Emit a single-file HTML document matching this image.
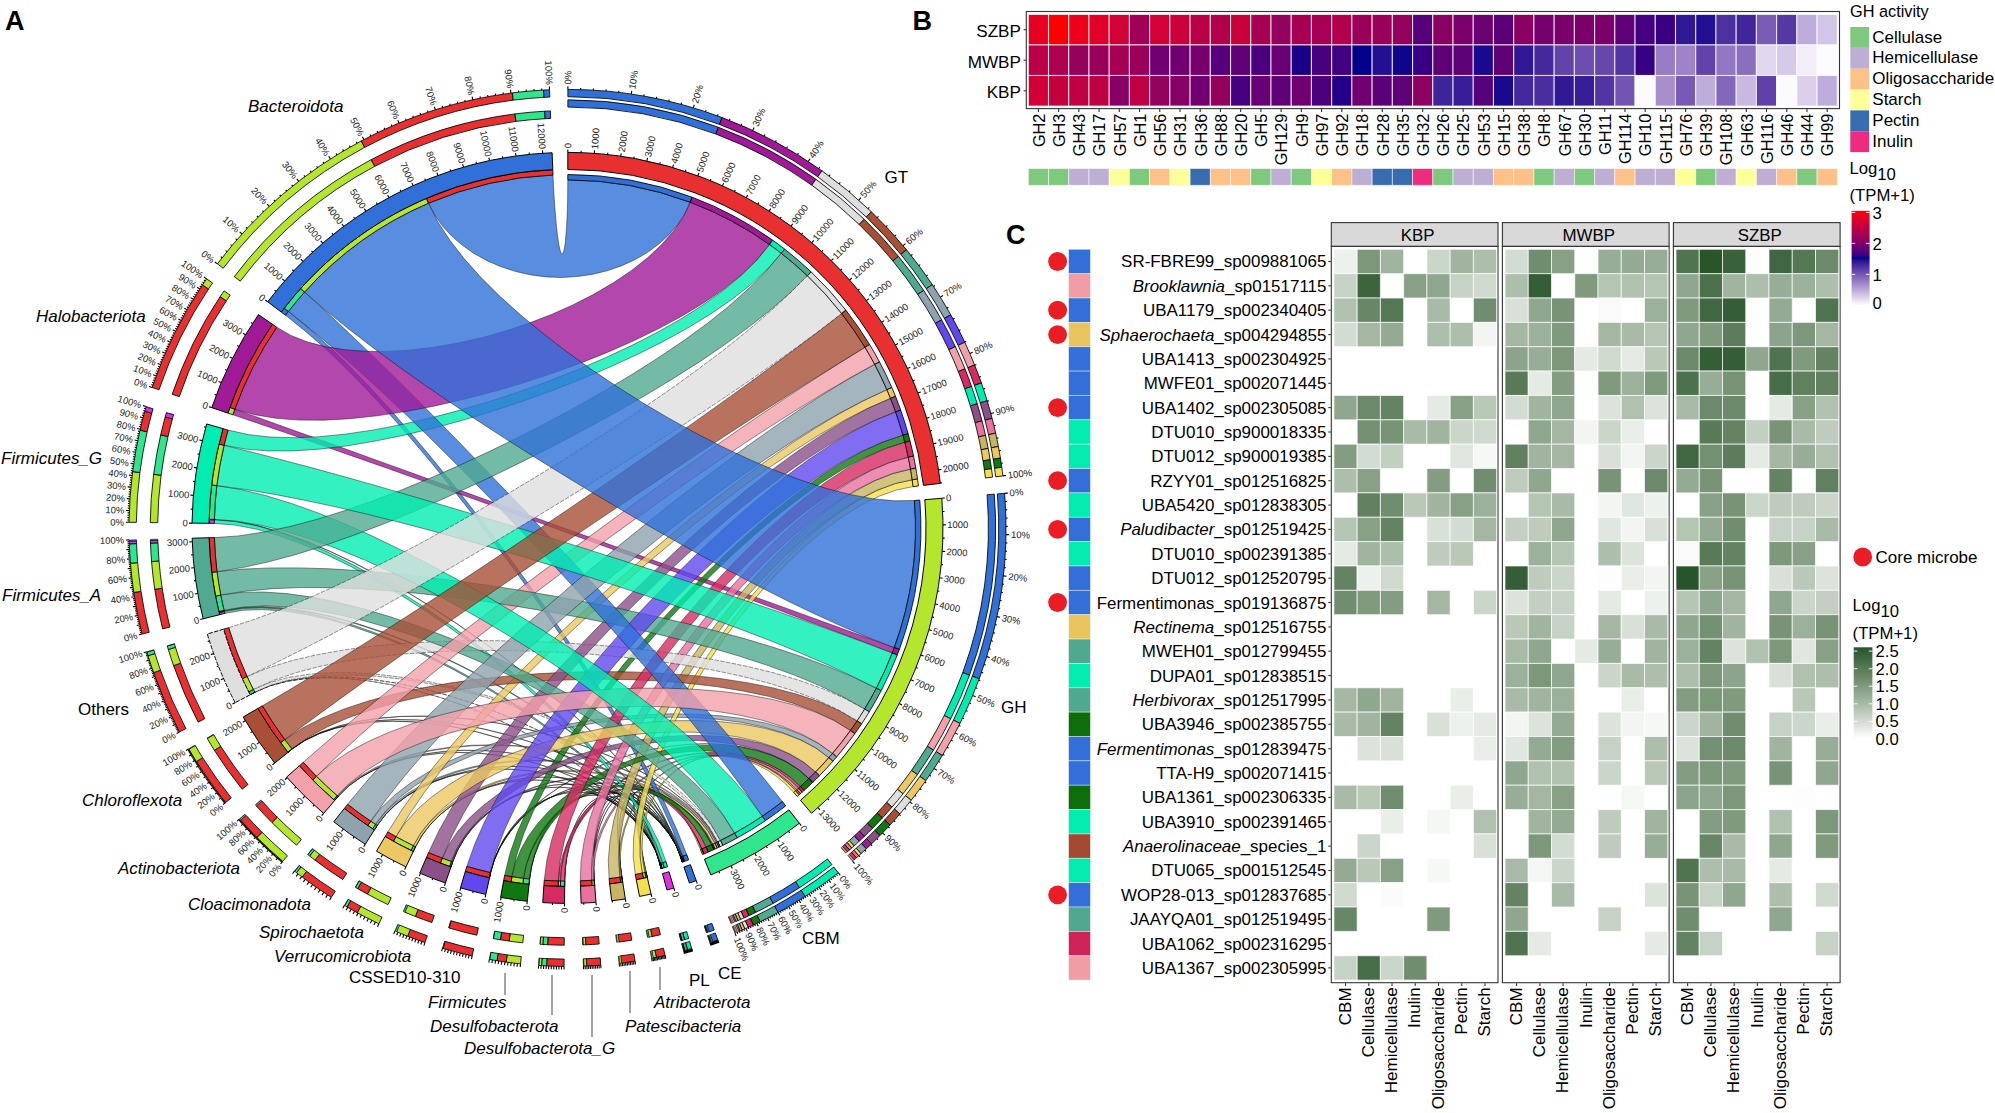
<!DOCTYPE html>
<html><head><meta charset="utf-8"><title>Figure</title>
<style>html,body{margin:0;padding:0;background:#fff}svg{display:block}text{font-family:"Liberation Sans",Arial,sans-serif}</style></head>
<body><svg width="1995" height="1113" viewBox="0 0 1995 1113">
<rect width="1995" height="1113" fill="#fff"/>
<g id="panelA">
<path d="M646.1 872.2A353.2 353.2 0 0 1 646.1 872.3L643.6 861.2 641.3 850.4 639.3 840.0 637.4 830.3 635.9 821.5 634.8 813.7 633.9 807.0 633.4 801.6 633.4 797.5 633.6 794.9 634.3 793.7 635.3 794.0 636.7 795.7 638.4 798.9 640.4 803.4 642.7 809.2 645.3 816.2 648.0 824.3 650.9 833.2 653.8 842.9 656.8 853.0 659.7 863.5A348.0 348.0 0 0 1 659.7 863.5L656.7 853.0 653.8 842.9 650.8 833.2 647.9 824.3 645.2 816.2 642.7 809.2 640.4 803.4 638.4 798.9 636.7 795.7 635.3 794.0 634.3 793.7 633.6 794.9 633.4 797.5 633.5 801.6 633.9 807.0 634.8 813.6 636.0 821.5 637.5 830.3 639.3 840.0 641.4 850.4 643.7 861.2 646.1 872.2Z" fill="#F4E04E" fill-opacity="0.8" stroke="#000" stroke-opacity="0.85" stroke-width="0.5"/>
<path d="M621.9 876.9A353.2 353.2 0 0 1 621.9 876.9L620.3 865.7 619.0 854.6 618.1 844.0 617.6 834.1 617.5 824.9 617.8 816.8 618.4 809.9 619.5 804.2 620.9 799.8 622.7 796.9 624.9 795.4 627.3 795.4 630.1 796.9 633.0 799.8 636.2 804.1 639.6 809.7 643.0 816.6 646.6 824.5 650.0 833.3 653.5 842.9 656.7 853.0 659.8 863.4A348.0 348.0 0 0 1 659.7 863.5L656.7 853.0 653.4 842.9 650.0 833.3 646.5 824.5 643.0 816.6 639.6 809.7 636.2 804.1 633.0 799.8 630.0 796.9 627.3 795.4 624.9 795.4 622.7 796.9 620.9 799.8 619.5 804.2 618.5 809.9 617.8 816.8 617.5 824.9 617.7 834.0 618.2 844.0 619.1 854.6 620.3 865.6 621.9 876.9Z" fill="#C8B462" fill-opacity="0.8" stroke="#000" stroke-opacity="0.85" stroke-width="0.5"/>
<path d="M646.1 872.3A353.2 353.2 0 0 1 646.0 872.3L643.6 861.2 641.6 850.3 639.9 839.8 638.6 829.9 637.8 820.8 637.4 812.8 637.5 805.8 638.1 800.1 639.1 795.7 640.5 792.7 642.4 791.1 644.7 791.0 647.4 792.3 650.5 795.1 653.8 799.2 657.4 804.6 661.2 811.2 665.1 818.9 669.1 827.5 673.0 836.9 676.9 846.8 680.6 857.0A348.0 348.0 0 0 1 680.5 857.0L676.8 846.8 673.0 836.9 669.0 827.5 665.0 818.9 661.1 811.3 657.3 804.6 653.8 799.2 650.4 795.1 647.4 792.3 644.7 791.0 642.4 791.1 640.5 792.7 639.1 795.7 638.1 800.1 637.6 805.8 637.5 812.7 637.9 820.8 638.7 829.9 640.0 839.7 641.6 850.2 643.7 861.2 646.1 872.3Z" fill="#F4E04E" fill-opacity="0.8" stroke="#000" stroke-opacity="0.85" stroke-width="0.5"/>
<path d="M490.6 872.6A353.2 353.2 0 0 1 490.5 872.6L493.9 860.9 498.7 849.5 504.6 838.6 511.7 828.5 519.8 819.2 528.8 811.0 538.5 804.0 548.8 798.2 559.5 793.8 570.6 790.8 581.9 789.2 593.3 789.0 604.7 790.4 615.8 793.1 626.6 797.2 636.9 802.7 646.6 809.4 655.5 817.2 663.6 826.0 670.6 835.7 676.5 846.0 681.0 856.9A348.0 348.0 0 0 1 680.9 856.9L676.4 846.1 670.6 835.7 663.5 826.0 655.5 817.2 646.5 809.4 636.8 802.7 626.5 797.3 615.8 793.1 604.6 790.4 593.3 789.1 581.9 789.2 570.6 790.8 559.5 793.8 548.8 798.3 538.5 804.0 528.8 811.1 519.9 819.3 511.8 828.5 504.7 838.6 498.7 849.5 494.0 860.9 490.6 872.6Z" fill="#6048EE" fill-opacity="0.8" stroke="#000" stroke-opacity="0.85" stroke-width="0.5"/>
<path d="M490.7 872.6A353.2 353.2 0 0 1 490.6 872.6L493.9 861.0 498.3 849.8 503.9 839.2 510.5 829.3 517.9 820.3 526.0 812.3 534.8 805.6 544.1 800.1 553.8 796.1 563.8 793.4 573.9 792.2 584.0 792.4 594.0 794.1 603.9 797.3 613.3 801.8 622.4 807.6 630.8 814.7 638.6 822.8 645.5 832.0 651.5 841.9 656.4 852.4 660.1 863.4A348.0 348.0 0 0 1 660.0 863.4L656.3 852.4 651.4 841.9 645.4 832.0 638.5 822.9 630.8 814.7 622.3 807.7 613.3 801.8 603.8 797.3 594.0 794.1 584.0 792.4 573.9 792.2 563.8 793.4 553.8 796.1 544.1 800.2 534.9 805.6 526.1 812.4 517.9 820.3 510.5 829.3 504.0 839.2 498.4 849.8 493.9 861.1 490.7 872.6Z" fill="#6048EE" fill-opacity="0.8" stroke="#000" stroke-opacity="0.85" stroke-width="0.5"/>
<path d="M292.1 749.1A353.2 353.2 0 0 1 292.1 749.0L304.7 740.5 319.3 733.6 335.6 728.2 353.4 724.4 372.4 722.0 392.4 721.2 413.2 721.8 434.5 723.9 456.1 727.3 477.7 732.1 499.1 738.1 520.2 745.4 540.6 753.8 560.2 763.2 578.7 773.5 595.9 784.7 611.6 796.7 625.6 809.2 637.7 822.3 647.7 835.8 655.3 849.5 660.5 863.2A348.0 348.0 0 0 1 660.4 863.3L655.3 849.5 647.6 835.8 637.6 822.3 625.5 809.3 611.5 796.7 595.8 784.7 578.6 773.5 560.1 763.2 540.6 753.8 520.2 745.4 499.1 738.2 477.7 732.1 456.1 727.4 434.5 723.9 413.2 721.9 392.4 721.2 372.4 722.1 353.4 724.4 335.6 728.3 319.3 733.7 304.7 740.6 292.1 749.1Z" fill="#A84F36" fill-opacity="0.8" stroke="#000" stroke-opacity="0.85" stroke-width="0.5"/>
<path d="M377.3 825.5A353.2 353.2 0 0 1 377.2 825.4L385.3 814.8 395.1 805.0 406.6 796.2 419.4 788.5 433.4 782.0 448.3 776.8 464.0 772.8 480.3 770.3 496.9 769.1 513.7 769.3 530.5 770.9 547.0 773.9 563.2 778.2 578.7 783.8 593.5 790.6 607.3 798.5 620.0 807.5 631.3 817.4 641.2 828.0 649.5 839.4 655.9 851.2 660.3 863.3A348.0 348.0 0 0 1 660.3 863.3L655.8 851.2 649.4 839.4 641.2 828.1 631.3 817.4 619.9 807.5 607.3 798.5 593.5 790.6 578.7 783.8 563.2 778.2 547.0 773.9 530.5 771.0 513.7 769.4 496.9 769.1 480.3 770.3 464.1 772.9 448.4 776.8 433.4 782.0 419.4 788.5 406.6 796.2 395.2 805.0 385.3 814.8 377.3 825.5Z" fill="#8FA3AE" fill-opacity="0.8" stroke="#000" stroke-opacity="0.85" stroke-width="0.5"/>
<path d="M564.7 881.1A353.2 353.2 0 0 1 564.7 881.1L565.1 869.6 566.3 858.2 568.2 847.3 570.8 837.1 574.0 827.7 577.7 819.3 581.9 812.1 586.5 806.1 591.6 801.5 597.0 798.3 602.6 796.6 608.4 796.3 614.4 797.6 620.3 800.3 626.3 804.4 632.1 809.8 637.8 816.5 643.1 824.3 648.1 833.1 652.6 842.7 656.6 852.8 659.9 863.4A348.0 348.0 0 0 1 659.8 863.4L656.5 852.9 652.6 842.7 648.1 833.1 643.1 824.3 637.7 816.5 632.1 809.9 626.3 804.4 620.3 800.3 614.3 797.6 608.4 796.3 602.6 796.6 597.0 798.3 591.6 801.5 586.6 806.1 581.9 812.1 577.7 819.3 574.0 827.7 570.9 837.1 568.3 847.3 566.4 858.2 565.2 869.6 564.7 881.1Z" fill="#D62A62" fill-opacity="0.8" stroke="#000" stroke-opacity="0.85" stroke-width="0.5"/>
<path d="M594.2 880.1A353.2 353.2 0 0 1 594.2 880.1L593.6 868.6 593.8 857.2 594.7 846.3 596.2 836.0 598.3 826.4 601.1 817.9 604.4 810.4 608.2 804.2 612.5 799.3 617.2 795.8 622.2 793.8 627.6 793.2 633.2 794.1 638.9 796.4 644.8 800.2 650.6 805.3 656.4 811.6 662.0 819.0 667.3 827.5 672.3 836.8 676.8 846.7 680.7 857.0A348.0 348.0 0 0 1 680.6 857.0L676.7 846.7 672.2 836.8 667.3 827.5 661.9 819.1 656.3 811.6 650.6 805.3 644.7 800.2 638.9 796.4 633.2 794.1 627.6 793.2 622.2 793.8 617.2 795.8 612.5 799.3 608.2 804.2 604.4 810.4 601.1 817.9 598.4 826.4 596.2 836.0 594.7 846.3 593.9 857.2 593.7 868.6 594.2 880.1Z" fill="#EA70A0" fill-opacity="0.8" stroke="#000" stroke-opacity="0.85" stroke-width="0.5"/>
<path d="M594.3 880.1A353.2 353.2 0 0 1 594.2 880.1L593.6 868.7 593.6 857.5 594.0 846.7 595.0 836.5 596.5 827.2 598.4 818.9 600.8 811.7 603.6 805.8 606.8 801.3 610.3 798.1 614.1 796.5 618.2 796.3 622.5 797.6 626.9 800.3 631.4 804.5 636.0 810.0 640.5 816.7 644.9 824.5 649.1 833.3 653.1 842.8 656.7 852.9 659.8 863.4A348.0 348.0 0 0 1 659.8 863.4L656.6 853.0 653.0 842.8 649.1 833.3 644.9 824.5 640.5 816.7 635.9 810.0 631.4 804.5 626.9 800.4 622.5 797.6 618.2 796.3 614.1 796.5 610.3 798.1 606.8 801.3 603.6 805.8 600.8 811.7 598.4 818.9 596.5 827.2 595.0 836.5 594.1 846.7 593.6 857.5 593.7 868.7 594.3 880.1Z" fill="#EA70A0" fill-opacity="0.8" stroke="#000" stroke-opacity="0.85" stroke-width="0.5"/>
<path d="M621.9 876.9A353.2 353.2 0 0 1 621.8 876.9L620.3 865.6 619.3 854.4 618.8 843.7 618.8 833.6 619.4 824.2 620.4 815.9 622.0 808.6 624.1 802.6 626.6 797.9 629.6 794.6 633.0 792.8 636.7 792.4 640.8 793.4 645.1 796.0 649.6 799.9 654.2 805.1 658.9 811.5 663.6 819.1 668.3 827.6 672.7 836.9 676.9 846.7 680.6 857.0A348.0 348.0 0 0 1 680.6 857.0L676.8 846.8 672.6 836.9 668.2 827.6 663.6 819.1 658.9 811.5 654.2 805.1 649.6 799.9 645.1 796.0 640.8 793.5 636.7 792.4 633.0 792.8 629.6 794.6 626.7 797.9 624.1 802.6 622.1 808.6 620.5 815.9 619.4 824.2 618.9 833.6 618.8 843.7 619.3 854.4 620.3 865.6 621.9 876.9Z" fill="#C8B462" fill-opacity="0.8" stroke="#000" stroke-opacity="0.85" stroke-width="0.5"/>
<path d="M452.7 861.9A353.2 353.2 0 0 1 452.6 861.9L457.4 850.5 463.6 839.5 471.1 829.2 479.7 819.8 489.3 811.4 499.7 804.1 510.9 798.0 522.5 793.2 534.6 789.8 546.8 787.7 559.2 787.2 571.5 788.1 583.6 790.4 595.4 794.1 606.7 799.1 617.3 805.4 627.2 812.9 636.2 821.5 644.1 831.0 650.8 841.2 656.2 852.1 660.2 863.3A348.0 348.0 0 0 1 660.1 863.4L656.2 852.1 650.8 841.2 644.0 831.0 636.1 821.5 627.2 813.0 617.3 805.5 606.6 799.1 595.4 794.1 583.6 790.4 571.5 788.1 559.2 787.2 546.8 787.8 534.6 789.8 522.5 793.2 510.9 798.0 499.8 804.1 489.4 811.4 479.8 819.8 471.1 829.3 463.6 839.5 457.4 850.5 452.7 861.9Z" fill="#8B5088" fill-opacity="0.8" stroke="#000" stroke-opacity="0.85" stroke-width="0.5"/>
<path d="M338.1 796.5A353.2 353.2 0 0 1 338.0 796.4L348.0 786.5 360.0 777.7 373.6 770.2 388.6 763.9 404.9 759.0 422.2 755.4 440.3 753.2 458.9 752.5 477.8 753.1 496.9 755.0 515.9 758.3 534.5 762.9 552.7 768.8 570.1 775.9 586.7 784.0 602.1 793.2 616.2 803.3 628.8 814.2 639.7 825.8 648.7 838.0 655.7 850.5 660.4 863.3A348.0 348.0 0 0 1 660.3 863.3L655.6 850.5 648.6 838.0 639.6 825.8 628.7 814.3 616.1 803.3 602.0 793.2 586.6 784.1 570.1 775.9 552.7 768.8 534.5 763.0 515.9 758.4 496.9 755.1 477.9 753.1 458.9 752.5 440.3 753.3 422.3 755.5 405.0 759.0 388.7 764.0 373.6 770.2 360.0 777.8 348.1 786.5 338.1 796.5Z" fill="#F2A0AA" fill-opacity="0.8" stroke="#000" stroke-opacity="0.85" stroke-width="0.5"/>
<path d="M292.1 749.0A353.2 353.2 0 0 1 292.0 748.9L305.0 740.2 320.0 733.1 336.8 727.5 355.2 723.4 374.9 720.8 395.7 719.6 417.3 720.0 439.5 721.7 462.1 724.8 484.8 729.2 507.3 734.8 529.5 741.7 551.1 749.6 571.8 758.6 591.5 768.6 610.0 779.4 626.9 791.0 642.1 803.2 655.4 816.0 666.5 829.3 675.3 842.9 681.4 856.7A348.0 348.0 0 0 1 681.4 856.7L675.2 842.9 666.4 829.3 655.3 816.1 642.1 803.2 626.8 791.0 609.9 779.4 591.5 768.6 571.8 758.7 551.0 749.7 529.4 741.7 507.3 734.9 484.7 729.2 462.1 724.8 439.5 721.8 417.3 720.0 395.7 719.7 374.9 720.8 355.2 723.4 336.8 727.5 320.0 733.1 305.0 740.3 292.1 749.0Z" fill="#A84F36" fill-opacity="0.8" stroke="#000" stroke-opacity="0.85" stroke-width="0.5"/>
<path d="M377.2 825.4A353.2 353.2 0 0 1 377.1 825.4L385.4 814.5 395.6 804.5 407.5 795.4 420.9 787.5 435.6 780.8 451.3 775.2 467.9 771.0 485.1 768.2 502.8 766.6 520.7 766.5 538.6 767.7 556.3 770.3 573.7 774.2 590.5 779.4 606.6 785.8 621.6 793.3 635.5 801.9 648.1 811.5 659.2 821.9 668.5 833.0 675.9 844.7 681.2 856.8A348.0 348.0 0 0 1 681.2 856.8L675.8 844.7 668.4 833.0 659.1 821.9 648.1 811.5 635.5 802.0 621.6 793.4 606.5 785.8 590.5 779.4 573.7 774.2 556.3 770.3 538.6 767.8 520.7 766.5 502.8 766.7 485.1 768.2 467.9 771.1 451.4 775.3 435.6 780.8 421.0 787.6 407.6 795.5 395.7 804.5 385.5 814.5 377.2 825.4Z" fill="#8FA3AE" fill-opacity="0.8" stroke="#000" stroke-opacity="0.85" stroke-width="0.5"/>
<path d="M564.7 881.1A353.2 353.2 0 0 1 564.6 881.1L565.1 869.4 566.6 858.0 568.9 846.9 572.0 836.5 575.8 826.9 580.3 818.2 585.5 810.7 591.1 804.4 597.3 799.5 603.8 795.9 610.7 793.8 617.8 793.1 625.0 794.0 632.3 796.3 639.6 800.0 646.7 805.0 653.6 811.4 660.2 818.8 666.3 827.3 671.8 836.6 676.7 846.5 680.8 856.9A348.0 348.0 0 0 1 680.7 857.0L676.6 846.5 671.8 836.6 666.2 827.3 660.1 818.8 653.6 811.4 646.7 805.1 639.6 800.0 632.3 796.3 625.0 794.0 617.8 793.2 610.7 793.8 603.8 795.9 597.3 799.5 591.2 804.4 585.5 810.7 580.4 818.2 575.9 826.9 572.1 836.5 569.0 846.9 566.7 858.0 565.2 869.4 564.7 881.1Z" fill="#D62A62" fill-opacity="0.8" stroke="#000" stroke-opacity="0.85" stroke-width="0.5"/>
<path d="M529.7 879.1A353.2 353.2 0 0 1 529.6 879.1L531.3 867.4 534.1 856.1 537.7 845.2 542.1 835.1 547.3 825.8 553.1 817.5 559.5 810.4 566.4 804.5 573.6 800.0 581.2 796.9 589.0 795.3 596.8 795.2 604.7 796.6 612.5 799.4 620.2 803.6 627.5 809.1 634.5 815.9 641.0 823.8 646.9 832.7 652.1 842.4 656.5 852.7 660.0 863.4A348.0 348.0 0 0 1 659.9 863.4L656.4 852.7 652.0 842.4 646.8 832.7 640.9 823.8 634.4 815.9 627.5 809.1 620.1 803.6 612.5 799.4 604.7 796.6 596.8 795.2 589.0 795.3 581.2 797.0 573.7 800.0 566.4 804.5 559.6 810.4 553.2 817.5 547.4 825.8 542.2 835.1 537.8 845.2 534.2 856.1 531.4 867.5 529.7 879.1Z" fill="#107810" fill-opacity="0.8" stroke="#000" stroke-opacity="0.85" stroke-width="0.5"/>
<path d="M254.9 692.3A353.2 353.2 0 0 1 254.8 692.2L270.0 685.8 287.1 681.3 305.8 678.6 325.9 677.7 347.2 678.5 369.5 681.0 392.4 684.9 415.7 690.4 439.3 697.2 462.9 705.2 486.2 714.5 509.0 724.8 531.1 736.0 552.2 748.2 572.2 761.1 590.8 774.7 607.8 788.8 622.9 803.3 636.0 818.1 646.7 833.1 655.0 848.2 660.6 863.2A348.0 348.0 0 0 1 660.5 863.2L654.9 848.2 646.6 833.2 635.9 818.2 622.8 803.3 607.7 788.8 590.8 774.7 572.2 761.1 552.2 748.2 531.1 736.1 509.0 724.8 486.2 714.5 462.9 705.3 439.3 697.2 415.7 690.4 392.4 685.0 369.5 681.0 347.2 678.6 326.0 677.8 305.8 678.7 287.1 681.3 270.0 685.9 254.9 692.3Z" fill="#DEDEDE" fill-opacity="0.8" stroke="#000" stroke-opacity="0.85" stroke-width="0.5" stroke-dasharray="4.5 1.3"/>
<path d="M415.6 846.7A353.2 353.2 0 0 1 415.5 846.7L421.8 835.5 429.8 825.1 439.2 815.4 449.8 806.7 461.6 799.0 474.3 792.6 487.7 787.4 501.6 783.5 515.9 781.1 530.4 780.0 545.0 780.3 559.4 782.1 573.5 785.2 587.2 789.7 600.2 795.5 612.4 802.5 623.7 810.6 633.8 819.7 642.7 829.7 650.2 840.4 656.1 851.7 660.3 863.3A348.0 348.0 0 0 1 660.2 863.3L656.0 851.7 650.1 840.4 642.6 829.7 633.8 819.7 623.6 810.6 612.4 802.5 600.1 795.5 587.1 789.8 573.5 785.3 559.4 782.1 545.0 780.4 530.4 780.0 515.9 781.1 501.6 783.6 487.7 787.4 474.3 792.6 461.7 799.1 449.9 806.7 439.2 815.4 429.8 825.1 421.9 835.6 415.6 846.7Z" fill="#EBC862" fill-opacity="0.8" stroke="#000" stroke-opacity="0.85" stroke-width="0.5"/>
<path d="M452.6 861.9A353.2 353.2 0 0 1 452.5 861.9L457.4 850.2 463.9 839.1 471.8 828.6 481.0 819.0 491.3 810.3 502.5 802.7 514.6 796.3 527.2 791.2 540.3 787.4 553.7 785.1 567.3 784.1 580.8 784.6 594.2 786.5 607.3 789.8 619.9 794.5 631.8 800.4 642.9 807.5 653.1 815.8 662.1 825.0 669.9 835.0 676.3 845.7 681.1 856.9A348.0 348.0 0 0 1 681.0 856.9L676.2 845.7 669.9 835.0 662.1 825.0 653.0 815.8 642.9 807.6 631.7 800.4 619.8 794.5 607.3 789.8 594.2 786.5 580.8 784.6 567.3 784.1 553.7 785.1 540.3 787.5 527.2 791.2 514.6 796.3 502.6 802.7 491.4 810.3 481.1 819.0 471.9 828.6 464.0 839.1 457.5 850.3 452.6 861.9Z" fill="#8B5088" fill-opacity="0.8" stroke="#000" stroke-opacity="0.85" stroke-width="0.5"/>
<path d="M338.0 796.4A353.2 353.2 0 0 1 338.0 796.3L348.2 786.2 360.5 777.2 374.6 769.4 390.3 762.9 407.3 757.7 425.3 753.9 444.2 751.4 463.8 750.3 483.8 750.5 503.9 752.1 524.0 755.1 543.8 759.3 563.2 764.7 581.9 771.4 599.6 779.1 616.3 787.9 631.6 797.7 645.4 808.3 657.5 819.6 667.7 831.6 675.7 844.0 681.4 856.7A348.0 348.0 0 0 1 681.2 856.8L675.6 844.0 667.6 831.6 657.4 819.7 645.4 808.3 631.6 797.7 616.2 788.0 599.6 779.2 581.8 771.4 563.2 764.8 543.8 759.3 524.0 755.1 503.9 752.2 483.8 750.6 463.8 750.3 444.3 751.5 425.4 753.9 407.3 757.8 390.3 763.0 374.7 769.5 360.6 777.2 348.3 786.2 338.0 796.4Z" fill="#F2A0AA" fill-opacity="0.8" stroke="#000" stroke-opacity="0.85" stroke-width="0.5"/>
<path d="M490.5 872.6A353.2 353.2 0 0 1 490.4 872.6L494.0 860.5 499.1 848.8 505.7 837.6 513.6 827.1 522.7 817.4 532.8 808.7 543.8 801.1 555.6 794.7 567.9 789.7 580.7 786.0 593.8 783.6 607.0 782.8 620.2 783.3 633.2 785.3 645.9 788.7 658.1 793.4 669.6 799.4 680.3 806.6 690.1 814.8 698.7 824.0 705.9 834.0 711.7 844.6A348.0 348.0 0 0 1 711.6 844.7L705.8 834.1 698.6 824.1 690.0 814.9 680.3 806.6 669.5 799.4 658.0 793.5 645.8 788.7 633.2 785.4 620.2 783.4 607.0 782.8 593.8 783.7 580.7 786.0 568.0 789.7 555.6 794.8 543.9 801.1 532.9 808.7 522.8 817.4 513.7 827.1 505.8 837.6 499.2 848.8 494.1 860.6 490.5 872.6Z" fill="#6048EE" fill-opacity="0.8" stroke="#000" stroke-opacity="0.85" stroke-width="0.5"/>
<path d="M529.6 879.1A353.2 353.2 0 0 1 529.4 879.0L531.3 867.3 534.3 855.8 538.3 844.7 543.3 834.4 549.2 824.8 555.8 816.3 563.1 808.9 571.0 802.7 579.3 797.9 588.1 794.4 597.0 792.4 606.2 791.9 615.4 792.9 624.5 795.3 633.4 799.1 642.1 804.2 650.3 810.7 658.0 818.2 665.0 826.8 671.3 836.2 676.6 846.3 680.9 856.9A348.0 348.0 0 0 1 680.8 856.9L676.5 846.3 671.2 836.2 665.0 826.8 657.9 818.2 650.2 810.7 642.0 804.3 633.4 799.1 624.5 795.3 615.3 792.9 606.2 791.9 597.0 792.5 588.1 794.4 579.4 797.9 571.0 802.7 563.2 808.9 555.9 816.3 549.3 824.8 543.4 834.4 538.5 844.8 534.4 855.8 531.4 867.3 529.6 879.1Z" fill="#107810" fill-opacity="0.8" stroke="#000" stroke-opacity="0.85" stroke-width="0.5"/>
<path d="M415.5 846.7A353.2 353.2 0 0 1 415.4 846.7L421.9 835.3 430.1 824.6 440.0 814.7 451.2 805.7 463.7 797.9 477.1 791.1 491.4 785.6 506.3 781.5 521.7 778.7 537.3 777.2 553.1 777.2 568.7 778.5 584.1 781.3 599.0 785.4 613.3 790.8 626.8 797.4 639.3 805.1 650.7 813.9 660.7 823.6 669.3 834.1 676.1 845.2 681.2 856.8A348.0 348.0 0 0 1 681.1 856.9L676.0 845.3 669.2 834.1 660.6 823.7 650.6 814.0 639.2 805.2 626.7 797.4 613.3 790.8 599.0 785.4 584.1 781.3 568.7 778.6 553.1 777.2 537.4 777.3 521.7 778.7 506.4 781.5 491.5 785.7 477.2 791.2 463.8 797.9 451.3 805.8 440.1 814.7 430.2 824.6 422.0 835.3 415.5 846.7Z" fill="#EBC862" fill-opacity="0.8" stroke="#000" stroke-opacity="0.85" stroke-width="0.5"/>
<path d="M490.4 872.6A353.2 353.2 0 0 1 490.3 872.6L494.5 859.1 501.0 845.7 509.5 832.6 520.0 819.9 532.1 807.9 545.9 796.5 560.9 786.1 577.1 776.5 594.2 768.1 612.1 760.8 630.6 754.7 649.4 749.9 668.3 746.5 687.1 744.4 705.7 743.8 723.8 744.5 741.1 746.7 757.5 750.4 772.7 755.4 786.5 761.8 798.6 769.5 808.9 778.5A348.0 348.0 0 0 1 808.8 778.6L798.5 769.6 786.4 761.9 772.6 755.5 757.4 750.5 741.0 746.8 723.7 744.6 705.7 743.8 687.1 744.5 668.3 746.5 649.4 750.0 630.6 754.8 612.1 760.8 594.3 768.1 577.1 776.6 561.0 786.1 545.9 796.6 532.2 807.9 520.1 820.0 509.6 832.6 501.1 845.7 494.6 859.1 490.4 872.6Z" fill="#6048EE" fill-opacity="0.8" stroke="#000" stroke-opacity="0.85" stroke-width="0.5"/>
<path d="M254.8 692.2A353.2 353.2 0 0 1 254.8 692.1L270.4 685.4 287.9 680.7 307.2 677.9 327.9 676.7 349.9 677.3 372.9 679.5 396.6 683.1 420.9 688.2 445.4 694.6 470.0 702.3 494.3 711.1 518.2 721.0 541.5 731.9 563.8 743.6 585.0 756.1 604.7 769.3 622.9 783.0 639.3 797.2 653.5 811.8 665.5 826.6 674.9 841.6 681.6 856.7A348.0 348.0 0 0 1 681.4 856.7L674.8 841.7 665.4 826.7 653.4 811.8 639.2 797.3 622.8 783.1 604.7 769.3 584.9 756.1 563.7 743.7 541.4 731.9 518.2 721.1 494.3 711.2 470.0 702.4 445.4 694.7 420.9 688.3 396.7 683.2 372.9 679.6 349.9 677.4 328.0 676.9 307.2 678.0 288.0 680.9 270.4 685.6 254.8 692.2Z" fill="#DEDEDE" fill-opacity="0.8" stroke="#000" stroke-opacity="0.85" stroke-width="0.5" stroke-dasharray="4.5 1.3"/>
<path d="M292.0 748.9A353.2 353.2 0 0 1 291.9 748.8L305.5 739.6 321.2 732.0 339.0 725.9 358.4 721.3 379.3 718.1 401.4 716.4 424.5 716.1 448.3 717.1 472.5 719.4 496.9 722.9 521.3 727.7 545.4 733.6 569.0 740.6 591.8 748.7 613.5 757.7 634.1 767.6 653.1 778.4 670.4 789.9 685.8 802.0 699.0 814.8 709.7 828.1 717.7 841.8A348.0 348.0 0 0 1 717.5 841.9L709.5 828.2 698.8 814.9 685.7 802.1 670.3 790.0 653.0 778.5 634.0 767.7 613.5 757.8 591.7 748.8 568.9 740.7 545.3 733.7 521.3 727.8 496.9 723.0 472.5 719.5 448.3 717.2 424.5 716.2 401.5 716.5 379.4 718.3 358.5 721.4 339.1 726.1 321.3 732.2 305.6 739.8 292.0 748.9Z" fill="#A84F36" fill-opacity="0.8" stroke="#000" stroke-opacity="0.85" stroke-width="0.5"/>
<path d="M594.2 880.1A353.2 353.2 0 0 1 594.0 880.1L593.5 868.5 594.0 857.0 595.2 845.8 597.3 835.3 600.1 825.4 603.7 816.6 607.9 808.7 612.8 802.1 618.2 796.8 624.1 792.9 630.4 790.3 637.1 789.3 644.0 789.6 651.1 791.5 658.3 794.7 665.4 799.3 672.5 805.2 679.3 812.2 685.8 820.2 691.8 829.2 697.2 838.8 702.0 848.9A348.0 348.0 0 0 1 701.8 849.0L697.1 838.8 691.6 829.2 685.6 820.3 679.2 812.3 672.4 805.2 665.3 799.4 658.2 794.8 651.0 791.5 644.0 789.7 637.0 789.3 630.4 790.4 624.1 792.9 618.2 796.8 612.9 802.1 608.0 808.8 603.8 816.6 600.3 825.4 597.4 835.3 595.4 845.8 594.1 857.0 593.7 868.5 594.2 880.1Z" fill="#EA70A0" fill-opacity="0.8" stroke="#000" stroke-opacity="0.85" stroke-width="0.5"/>
<path d="M214.4 519.7A353.2 353.2 0 0 1 214.4 519.4L235.3 521.2 257.5 525.5 280.6 532.0 304.7 540.5 329.4 550.9 354.7 563.0 380.4 576.5 406.3 591.4 432.2 607.4 458.0 624.4 483.4 642.2 508.3 660.6 532.5 679.7 555.8 699.1 577.9 718.8 598.7 738.7 617.9 758.7 635.4 778.7 650.8 798.5 664.0 818.1 674.7 837.4 682.7 856.3A348.0 348.0 0 0 1 682.4 856.4L674.5 837.5 663.8 818.2 650.6 798.6 635.2 778.8 617.7 758.8 598.5 738.9 577.8 719.0 555.7 699.2 532.4 679.8 508.2 660.8 483.3 642.3 457.9 624.5 432.1 607.6 406.2 591.6 380.3 576.7 354.6 563.2 329.3 551.2 304.6 540.8 280.6 532.2 257.4 525.8 235.3 521.5 214.4 519.7Z" fill="#00EDB2" fill-opacity="0.8" stroke="#000" stroke-opacity="0.85" stroke-width="0.5"/>
<path d="M621.8 876.9A353.2 353.2 0 0 1 621.4 877.0L620.0 865.6 619.2 854.3 619.2 843.3 619.8 833.0 621.0 823.3 622.9 814.7 625.5 807.1 628.6 800.6 632.3 795.5 636.4 791.8 641.1 789.4 646.1 788.6 651.5 789.1 657.2 791.1 663.0 794.5 669.0 799.2 675.0 805.2 680.9 812.3 686.7 820.4 692.1 829.3 697.2 838.9 701.8 849.0A348.0 348.0 0 0 1 701.4 849.1L696.9 839.1 691.8 829.5 686.4 820.5 680.7 812.4 674.8 805.3 668.8 799.3 662.9 794.6 657.1 791.2 651.4 789.2 646.1 788.6 641.1 789.5 636.5 791.8 632.3 795.5 628.7 800.6 625.6 807.1 623.2 814.7 621.3 823.3 620.0 832.9 619.5 843.3 619.6 854.2 620.3 865.5 621.8 876.9Z" fill="#C8B462" fill-opacity="0.8" stroke="#000" stroke-opacity="0.85" stroke-width="0.5"/>
<path d="M224.3 611.3A353.2 353.2 0 0 1 224.1 610.3L242.6 607.3 262.9 606.5 284.6 607.9 307.6 611.2 331.6 616.4 356.4 623.2 381.7 631.6 407.5 641.4 433.4 652.5 459.3 664.7 484.9 677.8 510.0 691.9 534.3 706.8 557.7 722.2 579.9 738.2 600.7 754.7 619.8 771.4 637.0 788.4 652.1 805.4 664.9 822.5 675.1 839.5 682.4 856.4A348.0 348.0 0 0 1 681.6 856.7L674.3 839.9 664.2 822.9 651.5 805.8 636.4 788.8 619.2 771.8 600.1 755.1 579.4 738.7 557.3 722.7 533.9 707.2 509.6 692.4 484.6 678.4 459.1 665.2 433.3 653.0 407.4 642.0 381.7 632.3 356.3 623.9 331.6 617.1 307.6 612.0 284.7 608.7 263.0 607.4 242.8 608.2 224.3 611.3Z" fill="#50AA91" fill-opacity="0.8" stroke="#000" stroke-opacity="0.85" stroke-width="0.5"/>
<path d="M338.0 796.3A353.2 353.2 0 0 1 337.1 795.6L347.9 785.0 360.9 775.6 375.9 767.3 392.7 760.3 410.9 754.6 430.3 750.2 450.7 747.1 471.9 745.3 493.6 744.8 515.6 745.6 537.7 747.7 559.6 751.0 581.0 755.6 601.8 761.4 621.7 768.2 640.5 776.2 658.0 785.1 673.9 795.0 688.1 805.7 700.2 817.2 710.1 829.3 717.5 841.9A348.0 348.0 0 0 1 716.5 842.4L709.1 829.7 699.3 817.7 687.3 806.2 673.2 795.5 657.4 785.6 640.0 776.7 621.3 768.8 601.4 761.9 580.7 756.1 559.4 751.6 537.6 748.2 515.7 746.1 493.7 745.3 472.1 745.8 451.0 747.7 430.7 750.8 411.3 755.3 393.2 761.0 376.6 768.0 361.6 776.3 348.7 785.7 338.0 796.3Z" fill="#F2A0AA" fill-opacity="0.8" stroke="#000" stroke-opacity="0.85" stroke-width="0.5"/>
<path d="M646.0 872.3A353.2 353.2 0 0 1 644.9 872.5L642.6 861.3 640.8 850.3 639.6 839.6 639.0 829.5 638.9 820.2 639.4 811.8 640.4 804.4 642.0 798.3 644.2 793.5 646.9 790.0 650.1 788.0 653.8 787.3 657.8 788.2 662.2 790.4 666.9 794.0 671.9 799.0 677.0 805.1 682.1 812.3 687.2 820.5 692.2 829.5 697.0 839.1 701.4 849.1A348.0 348.0 0 0 1 700.4 849.5L696.0 839.5 691.3 829.9 686.4 820.9 681.3 812.7 676.3 805.4 671.3 799.2 666.5 794.3 661.9 790.6 657.6 788.3 653.7 787.5 650.2 788.0 647.1 790.1 644.5 793.5 642.5 798.3 641.0 804.4 640.0 811.7 639.6 820.0 639.8 829.3 640.6 839.4 641.9 850.1 643.7 861.1 646.0 872.3Z" fill="#F4E04E" fill-opacity="0.8" stroke="#000" stroke-opacity="0.85" stroke-width="0.5"/>
<path d="M452.5 861.9A353.2 353.2 0 0 1 451.3 861.4L456.5 849.5 463.5 838.0 472.1 827.1 482.2 817.0 493.6 807.9 506.1 799.8 519.5 792.9 533.7 787.2 548.5 782.8 563.7 779.7 579.1 778.1 594.6 777.8 609.9 779.0 625.0 781.5 639.5 785.4 653.4 790.6 666.5 797.0 678.5 804.6 689.4 813.2 698.8 822.8 706.7 833.1 712.8 844.1A348.0 348.0 0 0 1 711.7 844.6L705.6 833.6 697.8 823.3 688.5 813.7 677.7 805.1 665.8 797.5 652.8 791.1 639.1 785.9 624.6 782.0 609.7 779.4 594.5 778.2 579.1 778.5 563.8 780.2 548.8 783.2 534.1 787.6 520.1 793.3 506.8 800.2 494.4 808.3 483.1 817.5 473.1 827.5 464.6 838.4 457.6 849.9 452.5 861.9Z" fill="#8B5088" fill-opacity="0.8" stroke="#000" stroke-opacity="0.85" stroke-width="0.5"/>
<path d="M621.4 877.0A353.2 353.2 0 0 1 619.9 877.2L618.9 864.9 619.2 852.5 621.0 840.1 624.1 828.0 628.4 816.3 634.0 805.3 640.7 795.1 648.5 785.8 657.2 777.6 666.7 770.5 676.9 764.7 687.8 760.2 699.1 757.1 710.8 755.4 722.6 755.1 734.5 756.2 746.2 758.7 757.7 762.6 768.6 767.7 778.9 774.0 788.3 781.4 796.7 789.8A348.0 348.0 0 0 1 795.6 790.8L787.3 782.4 778.0 774.9 767.8 768.6 756.9 763.4 745.6 759.5 734.0 756.9 722.2 755.8 710.5 756.0 699.0 757.6 687.8 760.6 677.1 765.1 667.0 770.8 657.6 777.8 649.1 785.9 641.5 795.2 634.9 805.3 629.5 816.3 625.2 827.9 622.2 840.0 620.6 852.4 620.3 864.8 621.4 877.0Z" fill="#C8B462" fill-opacity="0.8" stroke="#000" stroke-opacity="0.85" stroke-width="0.5"/>
<path d="M377.1 825.4A353.2 353.2 0 0 1 375.5 824.4L384.3 813.0 395.1 802.6 407.9 793.1 422.4 784.8 438.3 777.5 455.4 771.4 473.5 766.6 492.5 763.1 511.9 760.9 531.7 760.0 551.6 760.5 571.5 762.2 591.0 765.3 609.9 769.7 628.1 775.2 645.4 781.9 661.4 789.8 676.1 798.6 689.1 808.4 700.4 819.1 709.6 830.4 716.5 842.4A348.0 348.0 0 0 1 714.8 843.2L708.0 831.2 698.9 819.9 687.8 809.2 674.8 799.4 660.3 790.6 644.4 782.7 627.4 776.0 609.3 770.5 590.5 766.1 571.2 763.1 551.6 761.3 531.8 760.9 512.2 761.8 492.9 764.0 474.2 767.5 456.2 772.4 439.2 778.4 423.5 785.7 409.2 794.1 396.5 803.6 385.8 814.1 377.1 825.4Z" fill="#8FA3AE" fill-opacity="0.8" stroke="#000" stroke-opacity="0.85" stroke-width="0.5"/>
<path d="M224.8 613.4A353.2 353.2 0 0 1 224.3 611.3L242.4 608.3 262.1 607.6 283.3 609.1 305.6 612.6 328.9 618.0 353.0 625.0 377.6 633.7 402.6 643.8 427.7 655.1 452.7 667.7 477.3 681.2 501.4 695.7 524.7 710.9 547.1 726.8 568.2 743.2 587.8 760.0 605.8 777.1 621.9 794.3 635.9 811.6 647.5 828.8 656.5 845.9 662.7 862.6A348.0 348.0 0 0 1 660.6 863.2L654.5 846.5 645.6 829.5 634.2 812.3 620.3 795.1 604.4 777.9 586.5 760.9 567.0 744.1 546.0 727.8 523.8 712.0 500.6 696.8 476.6 682.4 452.1 668.9 427.2 656.5 402.3 645.2 377.4 635.2 352.9 626.6 328.9 619.6 305.7 614.4 283.5 611.0 262.4 609.6 242.8 610.3 224.8 613.4Z" fill="#50AA91" fill-opacity="0.8" stroke="#000" stroke-opacity="0.85" stroke-width="0.5"/>
<path d="M415.4 846.7A353.2 353.2 0 0 1 413.3 845.7L420.2 833.9 429.1 822.8 439.8 812.5 452.1 803.2 465.7 794.8 480.5 787.6 496.3 781.5 512.9 776.8 530.1 773.3 547.6 771.2 565.3 770.4 583.0 771.0 600.5 772.9 617.5 776.2 633.9 780.8 649.5 786.7 664.1 793.7 677.5 801.8 689.4 810.9 699.8 821.0 708.3 831.7 714.8 843.2A348.0 348.0 0 0 1 712.8 844.1L706.4 832.7 698.0 821.9 687.8 811.9 676.0 802.7 662.8 794.6 648.4 787.6 633.0 781.7 616.8 777.1 600.0 773.8 582.8 771.9 565.3 771.3 547.8 772.0 530.5 774.2 513.6 777.7 497.2 782.4 481.6 788.5 467.0 795.8 453.5 804.1 441.4 813.5 430.9 823.8 422.1 834.9 415.4 846.7Z" fill="#EBC862" fill-opacity="0.8" stroke="#000" stroke-opacity="0.85" stroke-width="0.5"/>
<path d="M644.9 872.5A353.2 353.2 0 0 1 642.3 873.1L640.4 861.2 639.8 849.0 640.5 837.0 642.3 825.1 645.4 813.8 649.6 803.0 654.9 793.1 661.2 784.1 668.4 776.2 676.5 769.5 685.4 763.9 694.9 759.8 704.9 756.9 715.4 755.5 726.1 755.4 736.9 756.8 747.8 759.5 758.4 763.5 768.7 768.7 778.4 775.0 787.5 782.5 795.6 790.8A348.0 348.0 0 0 1 793.7 792.4L785.7 784.0 776.8 776.6 767.2 770.1 757.1 764.8 746.6 760.7 736.0 757.9 725.4 756.4 714.9 756.4 704.7 757.7 694.9 760.4 685.7 764.4 677.1 769.8 669.2 776.5 662.2 784.3 656.2 793.1 651.1 803.0 647.1 813.6 644.3 824.9 642.6 836.6 642.1 848.6 642.9 860.7 644.9 872.5Z" fill="#F4E04E" fill-opacity="0.8" stroke="#000" stroke-opacity="0.85" stroke-width="0.5"/>
<path d="M560.5 881.0A353.2 353.2 0 0 1 558.2 881.0L559.5 868.0 562.7 855.0 567.6 842.0 574.1 829.4 582.1 817.3 591.5 805.9 602.1 795.3 613.8 785.6 626.4 777.0 639.9 769.5 654.0 763.4 668.5 758.5 683.4 755.0 698.4 753.0 713.4 752.3 728.1 753.1 742.4 755.4 756.1 759.0 768.9 764.0 780.7 770.3 791.3 777.9 800.4 786.5A348.0 348.0 0 0 1 798.5 788.2L789.5 779.5 779.1 771.9 767.5 765.5 754.8 760.5 741.3 756.7 727.2 754.4 712.7 753.5 697.9 754.0 683.2 756.0 668.5 759.4 654.2 764.1 640.3 770.2 627.1 777.6 614.7 786.1 603.2 795.7 592.8 806.3 583.6 817.6 575.8 829.7 569.5 842.2 564.7 855.1 561.7 868.1 560.5 881.0Z" fill="#D62A62" fill-opacity="0.8" stroke="#000" stroke-opacity="0.85" stroke-width="0.5"/>
<path d="M594.0 880.1A353.2 353.2 0 0 1 591.7 880.3L591.6 867.7 593.3 854.9 596.5 842.2 601.1 829.8 607.1 817.8 614.5 806.5 623.0 796.0 632.6 786.5 643.1 778.0 654.4 770.7 666.5 764.6 679.0 759.9 692.0 756.5 705.2 754.6 718.5 754.0 731.7 754.9 744.6 757.3 757.1 761.0 768.9 766.0 779.9 772.2 789.8 779.7 798.5 788.2A348.0 348.0 0 0 1 796.7 789.8L788.1 781.3 778.3 773.8 767.5 767.5 755.8 762.4 743.5 758.6 730.8 756.1 717.8 755.1 704.7 755.5 691.7 757.4 679.0 760.6 666.7 765.3 654.9 771.2 643.8 778.5 633.5 786.9 624.1 796.3 615.9 806.8 608.7 818.0 602.9 829.9 598.4 842.2 595.4 854.8 593.9 867.6 594.0 880.1Z" fill="#EA70A0" fill-opacity="0.8" stroke="#000" stroke-opacity="0.85" stroke-width="0.5"/>
<path d="M254.8 692.1A353.2 353.2 0 0 1 253.4 689.4L269.9 682.5 288.5 677.4 308.9 674.2 330.9 672.7 354.2 672.8 378.6 674.4 404.0 677.5 429.9 681.9 456.2 687.6 482.6 694.4 508.9 702.4 534.8 711.4 560.1 721.4 584.6 732.2 608.0 743.7 630.0 756.0 650.4 769.0 669.1 782.4 685.6 796.4 699.9 810.8 711.5 825.5 720.4 840.5A348.0 348.0 0 0 1 717.7 841.8L709.0 826.9 697.6 812.2 683.5 797.8 667.1 783.9 648.7 770.4 628.5 757.5 606.6 745.3 583.4 733.7 559.2 722.9 534.0 713.1 508.3 704.1 482.2 696.2 456.0 689.4 429.9 683.8 404.1 679.5 379.0 676.5 354.7 675.0 331.6 675.0 309.7 676.6 289.5 679.9 271.1 685.1 254.8 692.1Z" fill="#DEDEDE" fill-opacity="0.8" stroke="#000" stroke-opacity="0.85" stroke-width="0.5" stroke-dasharray="4.5 1.3"/>
<path d="M214.3 523.4A353.2 353.2 0 0 1 214.4 519.7L234.9 521.5 256.6 525.8 279.2 532.4 302.7 541.1 327.0 551.7 351.7 564.0 376.8 577.8 402.0 592.9 427.3 609.2 452.4 626.6 477.1 644.7 501.2 663.6 524.6 683.0 547.0 702.9 568.2 723.0 588.1 743.2 606.4 763.5 622.8 783.7 637.3 803.7 649.4 823.4 659.1 842.8 666.0 861.7A348.0 348.0 0 0 1 662.7 862.6L656.0 843.8 646.6 824.6 634.6 804.9 620.4 785.0 604.1 764.9 586.0 744.7 566.3 724.5 545.2 704.5 522.9 684.7 499.7 665.4 475.7 646.6 451.1 628.6 426.1 611.3 401.0 595.2 375.8 580.2 350.8 566.5 326.2 554.4 302.1 544.0 278.7 535.5 256.2 529.1 234.7 525.0 214.3 523.4Z" fill="#00EDB2" fill-opacity="0.8" stroke="#000" stroke-opacity="0.85" stroke-width="0.5"/>
<path d="M564.6 881.1A353.2 353.2 0 0 1 560.5 881.0L561.3 869.2 563.2 857.5 566.2 846.2 570.2 835.4 575.1 825.5 580.8 816.4 587.3 808.5 594.4 801.7 602.1 796.2 610.3 792.1 618.9 789.4 627.8 788.2 636.8 788.4 645.9 790.1 654.9 793.2 663.8 797.7 672.4 803.4 680.5 810.4 688.1 818.4 695.0 827.3 701.0 836.9 706.1 847.1A348.0 348.0 0 0 1 702.0 848.9L697.1 838.6 691.3 828.9 684.7 820.0 677.4 811.9 669.6 804.9 661.5 799.1 653.0 794.5 644.5 791.3 635.8 789.5 627.3 789.2 618.9 790.3 610.8 792.9 603.1 796.9 595.9 802.3 589.2 809.0 583.1 816.8 577.8 825.8 573.3 835.7 569.6 846.4 566.9 857.7 565.2 869.3 564.6 881.1Z" fill="#D62A62" fill-opacity="0.8" stroke="#000" stroke-opacity="0.85" stroke-width="0.5"/>
<path d="M285.5 315.2A353.2 353.2 0 0 1 288.4 311.4L309.2 328.5 330.0 347.3 350.8 367.5 371.6 389.2 392.4 412.0 413.1 435.8 433.8 460.5 454.4 485.9 474.8 511.9 495.0 538.4 514.9 565.2 534.4 592.2 553.5 619.3 572.1 646.5 590.0 673.6 607.2 700.5 623.4 727.2 638.7 753.5 652.9 779.5 665.7 805.1 677.1 830.2 686.8 854.8A348.0 348.0 0 0 1 682.7 856.3L673.3 831.8 662.2 806.8 649.7 781.3 635.7 755.3 620.6 729.0 604.5 702.3 587.4 675.4 569.5 648.3 551.0 621.2 531.9 594.1 512.4 567.0 492.4 540.3 472.2 513.8 451.8 487.9 431.2 462.6 410.5 438.0 389.7 414.3 368.8 391.7 348.0 370.3 327.2 350.3 306.3 331.9 285.5 315.2Z" fill="#3070D8" fill-opacity="0.8" stroke="#000" stroke-opacity="0.85" stroke-width="0.5"/>
<path d="M375.5 824.4A353.2 353.2 0 0 1 370.7 821.2L381.4 807.7 394.8 795.0 410.5 783.0 428.5 771.9 448.3 761.6 469.9 752.2 492.8 743.7 516.8 736.2 541.8 729.7 567.4 724.3 593.4 719.9 619.5 716.7 645.5 714.7 671.1 713.8 696.1 714.2 720.3 715.8 743.3 718.7 764.9 722.9 784.9 728.4 803.0 735.4 818.9 743.7 832.5 753.4A348.0 348.0 0 0 1 828.8 757.7L815.6 747.9 800.0 739.5 782.2 732.5 762.6 726.8 741.4 722.4 718.7 719.4 695.0 717.7 670.4 717.2 645.2 718.0 619.6 720.0 593.9 723.2 568.3 727.5 543.1 732.9 518.5 739.3 494.9 746.8 472.4 755.3 451.3 764.7 431.8 775.1 414.3 786.2 398.8 798.2 385.9 810.9 375.5 824.4Z" fill="#8FA3AE" fill-opacity="0.8" stroke="#000" stroke-opacity="0.85" stroke-width="0.5"/>
<path d="M232.9 414.8A353.2 353.2 0 0 1 234.9 409.2L264.9 419.9 295.0 430.8 325.2 441.6 355.3 452.5 385.5 463.4 415.6 474.3 445.7 485.2 475.9 496.1 506.0 507.0 536.1 517.9 566.1 528.8 596.2 539.6 626.2 550.5 656.2 561.3 686.1 572.1 716.0 582.9 745.8 593.7 775.6 604.4 805.4 615.2 835.1 626.0 864.7 636.8 894.3 647.6A348.0 348.0 0 0 1 892.2 653.0L863.1 641.8 833.7 630.7 804.3 619.7 774.7 608.6 745.0 597.6 715.2 586.6 685.3 575.7 655.3 564.7 625.3 553.8 595.2 542.9 565.0 532.0 534.8 521.1 504.6 510.2 474.3 499.3 444.1 488.5 413.8 477.7 383.6 467.0 353.3 456.4 323.1 445.8 293.0 435.3 262.9 425.0 232.9 414.8Z" fill="#A01996" fill-opacity="0.8" stroke="#000" stroke-opacity="0.85" stroke-width="0.5"/>
<path d="M529.4 879.0A353.2 353.2 0 0 1 523.5 878.4L525.8 866.3 529.4 854.5 534.3 843.2 540.4 832.4 547.6 822.4 555.8 813.4 564.7 805.5 574.4 798.8 584.7 793.4 595.5 789.3 606.6 786.7 617.9 785.4 629.3 785.7 640.6 787.4 651.8 790.4 662.6 794.9 672.8 800.6 682.5 807.6 691.3 815.6 699.2 824.5 706.0 834.3 711.6 844.7A348.0 348.0 0 0 1 706.1 847.1L700.8 836.7 694.4 826.9 686.9 817.9 678.5 809.8 669.3 802.8 659.6 796.9 649.4 792.4 638.9 789.1 628.2 787.4 617.4 787.0 606.8 788.1 596.4 790.7 586.2 794.6 576.6 800.0 567.5 806.6 559.2 814.5 551.6 823.4 544.9 833.3 539.3 844.0 534.7 855.3 531.4 867.1 529.4 879.0Z" fill="#107810" fill-opacity="0.8" stroke="#000" stroke-opacity="0.85" stroke-width="0.5"/>
<path d="M642.3 873.1A353.2 353.2 0 0 1 635.3 874.5L633.2 857.0 633.6 838.1 636.3 817.9 641.0 796.7 647.7 774.7 656.1 752.1 666.2 729.1 677.8 705.9 690.7 682.8 704.8 659.9 719.9 637.4 735.9 615.6 752.7 594.7 770.0 574.8 787.8 556.3 805.8 539.2 824.0 523.8 842.3 510.4 860.3 499.0 878.1 490.0 895.4 483.5 912.2 479.8A348.0 348.0 0 0 1 913.0 486.6L896.5 490.0 879.4 496.1 861.8 504.7 844.0 515.6 826.0 528.6 808.0 543.6 790.1 560.2 772.6 578.4 755.5 597.8 739.0 618.4 723.3 639.8 708.5 661.8 694.7 684.4 682.1 707.1 670.9 730.0 661.2 752.6 653.1 774.9 646.7 796.6 642.4 817.4 640.1 837.3 640.0 855.9 642.3 873.1Z" fill="#F4E04E" fill-opacity="0.8" stroke="#000" stroke-opacity="0.85" stroke-width="0.5"/>
<path d="M511.9 876.7A353.2 353.2 0 0 1 504.6 875.5L509.7 854.3 517.3 832.3 527.2 809.5 539.2 786.2 553.0 762.4 568.5 738.3 585.5 713.9 603.7 689.5 623.0 665.1 643.2 641.0 664.2 617.3 685.7 594.2 707.6 571.7 729.9 550.3 752.2 529.9 774.6 510.8 796.9 493.2 818.9 477.3 840.7 463.4 862.0 451.5 882.8 442.1 902.9 435.2A348.0 348.0 0 0 1 904.8 442.4L884.9 448.7 864.3 457.7 843.2 469.1 821.6 482.7 799.7 498.2 777.5 515.4 755.3 534.2 733.0 554.3 711.0 575.5 689.2 597.7 667.8 620.6 647.1 644.2 627.1 668.1 608.0 692.3 590.1 716.6 573.4 740.8 558.3 764.7 544.8 788.4 533.2 811.5 523.7 834.0 516.6 855.8 511.9 876.7Z" fill="#107810" fill-opacity="0.8" stroke="#000" stroke-opacity="0.85" stroke-width="0.5"/>
<path d="M396.0 836.7A353.2 353.2 0 0 1 387.8 832.0L401.9 809.8 417.8 787.4 435.3 764.8 454.4 742.1 474.7 719.2 496.1 696.4 518.5 673.4 541.7 650.6 565.6 627.8 590.0 605.2 614.8 583.0 639.9 561.0 665.2 539.6 690.5 518.7 715.9 498.6 741.1 479.3 766.2 461.0 791.0 443.8 815.6 427.9 839.7 413.5 863.5 400.7 886.9 389.7A348.0 348.0 0 0 1 890.5 398.4L867.3 408.6 843.7 420.7 819.6 434.6 795.2 450.0 770.4 466.8 745.3 484.8 720.1 503.9 694.7 523.8 669.4 544.6 644.1 565.9 619.1 587.8 594.3 610.0 570.0 632.6 546.3 655.4 523.2 678.3 501.1 701.2 480.0 724.1 460.0 747.0 441.5 769.7 424.5 792.2 409.3 814.5 396.0 836.7Z" fill="#EBC862" fill-opacity="0.8" stroke="#000" stroke-opacity="0.85" stroke-width="0.5"/>
<path d="M451.3 861.4A353.2 353.2 0 0 1 442.3 858.2L448.9 844.5 457.9 831.2 469.1 818.3 482.5 806.1 497.6 794.5 514.4 783.7 532.5 773.8 551.8 764.9 572.1 757.0 593.0 750.3 614.4 744.7 636.1 740.4 657.9 737.4 679.4 735.7 700.4 735.4 720.8 736.4 740.3 738.9 758.6 742.7 775.5 748.0 790.8 754.6 804.3 762.6 815.6 772.0A348.0 348.0 0 0 1 808.9 778.5L798.1 769.1 785.3 761.0 770.6 754.2 754.3 748.7 736.6 744.6 717.9 741.9 698.2 740.6 677.9 740.7 657.2 742.2 636.3 745.0 615.5 749.1 594.9 754.5 574.7 761.1 555.3 768.9 536.8 777.7 519.5 787.5 503.5 798.2 489.1 809.7 476.4 821.9 465.8 834.7 457.3 847.9 451.3 861.4Z" fill="#8B5088" fill-opacity="0.8" stroke="#000" stroke-opacity="0.85" stroke-width="0.5"/>
<path d="M619.9 877.2A353.2 353.2 0 0 1 609.1 878.6L608.3 860.2 610.0 840.4 614.0 819.5 620.1 797.6 628.2 774.9 638.0 751.7 649.5 728.1 662.5 704.4 676.8 680.6 692.1 657.1 708.5 634.1 725.7 611.7 743.5 590.1 761.9 569.6 780.7 550.4 799.7 532.6 818.7 516.6 837.7 502.4 856.5 490.4 875.0 480.6 893.1 473.5 910.5 469.1A348.0 348.0 0 0 1 912.2 479.8L895.1 483.6 877.4 490.1 859.2 499.2 840.7 510.6 821.9 524.1 803.2 539.5 784.5 556.7 766.1 575.3 748.1 595.2 730.6 616.2 713.8 638.0 697.9 660.5 682.9 683.5 669.1 706.7 656.7 730.0 645.7 753.1 636.4 775.9 628.8 798.1 623.3 819.5 619.8 840.0 618.6 859.3 619.9 877.2Z" fill="#C8B462" fill-opacity="0.8" stroke="#000" stroke-opacity="0.85" stroke-width="0.5"/>
<path d="M523.5 878.4A353.2 353.2 0 0 1 511.9 876.7L515.2 863.3 520.6 849.9 528.0 836.7 537.3 823.9 548.2 811.7 560.6 800.1 574.4 789.4 589.3 779.7 605.1 770.9 621.8 763.4 639.0 757.0 656.6 752.0 674.4 748.3 692.2 746.0 709.8 745.2 726.9 745.7 743.4 747.7 759.1 751.2 773.7 756.1 787.0 762.3 798.8 769.8 808.8 778.6A348.0 348.0 0 0 1 800.4 786.5L790.9 777.6 779.8 769.8 767.2 763.3 753.4 758.2 738.6 754.4 723.0 752.0 706.8 751.0 690.3 751.5 673.6 753.4 656.8 756.7 640.3 761.4 624.2 767.4 608.7 774.6 594.0 783.1 580.2 792.6 567.5 803.0 556.0 814.4 546.0 826.4 537.6 839.0 531.0 852.0 526.2 865.2 523.5 878.4Z" fill="#107810" fill-opacity="0.8" stroke="#000" stroke-opacity="0.85" stroke-width="0.5"/>
<path d="M291.9 748.8A353.2 353.2 0 0 1 284.8 739.6L302.2 728.2 322.1 718.0 344.2 708.9 368.2 701.0 394.0 694.0 421.2 688.1 449.6 683.1 479.0 679.0 509.2 675.9 539.8 673.6 570.7 672.1 601.5 671.6 632.1 671.9 662.3 673.2 691.7 675.4 720.1 678.5 747.4 682.7 773.2 687.9 797.3 694.3 819.4 701.8 839.5 710.7 857.1 720.8A348.0 348.0 0 0 1 850.4 730.6L833.6 720.1 814.3 711.1 792.8 703.2 769.4 696.6 744.2 691.2 717.6 686.8 689.7 683.5 660.8 681.1 631.3 679.7 601.2 679.3 570.8 679.8 540.5 681.2 510.4 683.6 480.8 686.8 451.9 691.0 424.1 696.1 397.5 702.2 372.4 709.4 349.0 717.5 327.6 726.8 308.5 737.2 291.9 748.8Z" fill="#A84F36" fill-opacity="0.8" stroke="#000" stroke-opacity="0.85" stroke-width="0.5"/>
<path d="M591.7 880.3A353.2 353.2 0 0 1 580.3 880.9L581.0 861.5 584.2 840.9 589.7 819.2 597.4 796.7 607.0 773.4 618.4 749.7 631.5 725.6 645.9 701.3 661.5 677.1 678.3 653.1 695.9 629.6 714.4 606.6 733.4 584.5 752.8 563.4 772.6 543.6 792.5 525.2 812.5 508.5 832.4 493.6 852.0 480.8 871.3 470.3 890.1 462.4 908.3 457.2A348.0 348.0 0 0 1 910.5 469.1L892.7 473.5 874.2 480.8 855.2 490.5 835.9 502.6 816.3 516.8 796.6 532.9 777.0 550.6 757.5 569.8 738.3 590.3 719.7 611.9 701.6 634.3 684.3 657.3 668.0 680.8 652.8 704.5 638.9 728.3 626.4 751.9 615.5 775.3 606.4 798.1 599.3 820.1 594.4 841.3 591.7 861.4 591.7 880.3Z" fill="#EA70A0" fill-opacity="0.8" stroke="#000" stroke-opacity="0.85" stroke-width="0.5"/>
<path d="M253.4 689.4A353.2 353.2 0 0 1 247.1 676.5L268.4 667.8 291.8 660.6 317.1 654.7 344.0 649.9 372.3 646.2 401.8 643.5 432.4 641.7 463.7 640.8 495.5 640.7 527.8 641.3 560.1 642.7 592.4 644.7 624.5 647.5 656.0 651.0 686.8 655.2 716.7 660.2 745.5 666.0 772.9 672.6 798.7 680.2 822.8 688.7 844.8 698.3 864.7 709.0A348.0 348.0 0 0 1 857.1 720.8L838.3 709.8 817.2 699.8 793.9 691.0 768.8 683.2 742.1 676.3 713.9 670.3 684.5 665.1 654.2 660.8 623.1 657.2 591.5 654.3 559.6 652.3 527.7 651.0 495.9 650.5 464.4 650.8 433.6 651.9 403.6 654.0 374.6 657.0 346.9 661.0 320.7 666.2 296.3 672.6 273.7 680.3 253.4 689.4Z" fill="#DEDEDE" fill-opacity="0.8" stroke="#000" stroke-opacity="0.85" stroke-width="0.5" stroke-dasharray="4.5 1.3"/>
<path d="M442.3 858.2A353.2 353.2 0 0 1 428.5 852.6L439.2 830.2 452.0 807.3 466.7 784.1 483.1 760.6 501.1 736.9 520.4 713.0 540.8 688.9 562.2 664.9 584.4 641.0 607.3 617.3 630.7 593.9 654.5 570.9 678.6 548.5 702.8 526.8 727.0 506.0 751.2 486.1 775.2 467.5 799.0 450.2 822.4 434.4 845.6 420.4 868.2 408.3 890.5 398.4A348.0 348.0 0 0 1 895.6 411.9L873.7 420.8 851.3 431.9 828.4 445.1 805.1 460.1 781.5 476.7 757.6 494.8 733.5 514.2 709.4 534.7 685.3 556.1 661.4 578.3 637.8 601.1 614.6 624.3 592.0 648.0 570.1 671.8 549.1 695.7 529.1 719.7 510.4 743.5 493.1 767.1 477.4 790.5 463.6 813.5 451.8 836.1 442.3 858.2Z" fill="#8B5088" fill-opacity="0.8" stroke="#000" stroke-opacity="0.85" stroke-width="0.5"/>
<path d="M224.1 445.3A353.2 353.2 0 0 1 228.1 430.1L248.4 434.6 270.6 437.1 294.5 437.7 319.8 436.7 346.3 434.0 373.8 429.9 402.2 424.4 431.1 417.8 460.4 410.1 489.8 401.4 519.2 391.7 548.2 381.3 576.7 370.1 604.4 358.2 631.1 345.8 656.6 332.7 680.5 319.2 702.8 305.1 723.0 290.6 741.0 275.7 756.6 260.3 769.5 244.5A348.0 348.0 0 0 1 781.3 253.3L767.4 269.2 750.8 284.6 731.8 299.5 710.7 314.0 687.6 328.1 662.9 341.7 636.7 354.8 609.4 367.3 581.0 379.3 552.0 390.7 522.4 401.3 492.5 411.2 462.5 420.3 432.6 428.4 403.2 435.4 374.2 441.3 346.1 446.0 318.9 449.2 293.0 450.9 268.4 450.9 245.3 449.1 224.1 445.3Z" fill="#00EDB2" fill-opacity="0.8" stroke="#000" stroke-opacity="0.85" stroke-width="0.5"/>
<path d="M558.2 881.0A353.2 353.2 0 0 1 544.2 880.3L546.9 859.9 552.1 838.4 559.6 816.0 569.3 792.8 580.9 769.0 594.2 744.8 609.1 720.3 625.3 695.7 642.6 671.1 661.0 646.7 680.2 622.7 700.1 599.4 720.4 576.8 741.2 555.2 762.1 534.7 783.2 515.7 804.2 498.2 825.1 482.5 845.7 468.9 865.9 457.5 885.7 448.6 904.8 442.4A348.0 348.0 0 0 1 908.3 457.2L889.5 462.5 870.2 470.5 850.3 481.0 830.0 493.8 809.4 508.6 788.7 525.3 767.9 543.6 747.2 563.3 726.8 584.3 706.8 606.3 687.3 629.1 668.6 652.5 650.7 676.3 633.8 700.4 618.1 724.6 603.9 748.6 591.2 772.4 580.3 795.7 571.3 818.4 564.5 840.2 560.1 861.2 558.2 881.0Z" fill="#D62A62" fill-opacity="0.8" stroke="#000" stroke-opacity="0.85" stroke-width="0.5"/>
<path d="M224.1 610.3A353.2 353.2 0 0 1 220.7 595.0L241.1 592.4 263.2 592.0 286.8 593.6 311.6 597.1 337.5 602.3 364.3 609.1 391.7 617.2 419.6 626.7 447.7 637.3 475.9 648.9 503.9 661.4 531.5 674.7 558.5 688.7 584.6 703.3 609.6 718.4 633.3 734.0 655.5 749.9 675.8 766.2 694.2 782.7 710.3 799.3 723.8 816.2 734.6 833.2A348.0 348.0 0 0 1 720.4 840.5L710.7 823.8 698.2 807.1 683.2 790.5 665.8 774.2 646.3 758.0 625.0 742.2 602.2 726.8 577.9 711.8 552.6 697.4 526.3 683.6 499.5 670.6 472.1 658.4 444.6 647.2 417.1 637.0 389.9 628.1 363.1 620.5 337.0 614.3 311.8 609.7 287.6 606.9 264.9 605.9 243.6 607.0 224.1 610.3Z" fill="#50AA91" fill-opacity="0.8" stroke="#000" stroke-opacity="0.85" stroke-width="0.5"/>
<path d="M413.3 845.7A353.2 353.2 0 0 1 396.0 836.7L405.1 823.0 416.9 809.9 431.1 797.4 447.5 785.6 465.7 774.6 485.7 764.5 507.0 755.3 529.5 747.1 552.9 739.8 577.0 733.7 601.6 728.6 626.3 724.8 651.0 722.1 675.3 720.7 699.1 720.6 722.0 721.8 743.9 724.3 764.5 728.2 783.6 733.5 800.8 740.1 816.0 748.2 828.8 757.7A348.0 348.0 0 0 1 815.6 772.0L803.8 762.2 789.8 753.9 773.9 746.8 756.1 741.1 736.9 736.8 716.3 733.9 694.8 732.2 672.5 732.0 649.7 733.0 626.5 735.3 603.3 738.9 580.4 743.7 557.8 749.6 535.9 756.7 514.9 764.9 495.1 774.0 476.6 784.1 459.8 795.0 444.8 806.8 431.9 819.2 421.4 832.2 413.3 845.7Z" fill="#EBC862" fill-opacity="0.8" stroke="#000" stroke-opacity="0.85" stroke-width="0.5"/>
<path d="M316.4 776.3A353.2 353.2 0 0 1 303.3 762.3L326.2 742.3 349.8 722.3 373.9 702.4 398.5 682.5 423.4 662.6 448.7 642.8 474.3 623.0 500.2 603.3 526.2 583.6 552.4 564.1 578.6 544.6 604.9 525.2 631.2 506.0 657.5 487.0 683.8 468.3 710.0 449.8 736.1 431.6 762.1 413.8 788.1 396.4 813.8 379.5 839.5 363.1 865.0 347.3A348.0 348.0 0 0 1 874.7 364.4L849.3 378.4 823.7 393.3 797.9 409.0 771.8 425.5 745.6 442.6 719.2 460.3 692.7 478.5 666.1 497.1 639.4 516.0 612.7 535.3 586.1 554.8 559.6 574.5 533.2 594.4 507.1 614.3 481.3 634.4 455.9 654.5 430.9 674.7 406.5 694.9 382.8 715.2 359.8 735.5 337.6 755.9 316.4 776.3Z" fill="#F2A0AA" fill-opacity="0.8" stroke="#000" stroke-opacity="0.85" stroke-width="0.5"/>
<path d="M220.7 595.0A353.2 353.2 0 0 1 217.0 571.7L243.4 569.1 271.1 567.9 299.9 567.9 329.6 568.8 360.2 570.7 391.6 573.4 423.5 576.8 455.9 580.8 488.6 585.4 521.4 590.5 554.3 596.1 587.1 602.2 619.6 608.6 651.8 615.5 683.4 622.8 714.3 630.5 744.3 638.6 773.3 647.3 801.2 656.5 827.8 666.4 852.9 676.9 876.4 688.2A348.0 348.0 0 0 1 864.7 709.0L843.0 696.9 819.5 685.6 794.2 675.1 767.3 665.3 739.1 656.1 709.8 647.5 679.4 639.5 648.2 631.9 616.3 624.8 584.0 618.2 551.4 612.2 518.7 606.7 486.0 601.7 453.5 597.4 421.4 593.7 389.8 590.8 358.9 588.8 328.9 587.7 300.0 587.6 272.2 588.7 245.7 591.2 220.7 595.0Z" fill="#50AA91" fill-opacity="0.8" stroke="#000" stroke-opacity="0.85" stroke-width="0.5"/>
<path d="M490.3 872.6A353.2 353.2 0 0 1 466.8 866.4L474.6 844.4 484.6 821.7 496.8 798.4 511.0 774.7 526.8 750.6 544.1 726.2 562.8 701.7 582.5 677.2 603.2 652.7 624.7 628.4 646.8 604.5 669.4 581.1 692.4 558.3 715.5 536.3 738.7 515.3 762.0 495.5 785.0 477.1 807.9 460.1 830.5 444.9 852.7 431.7 874.4 420.6 895.6 411.9A348.0 348.0 0 0 1 902.9 435.2L882.4 442.2 861.2 451.6 839.5 463.4 817.4 477.3 794.9 493.1 772.1 510.5 749.2 529.4 726.3 549.6 703.5 570.9 680.9 593.0 658.8 615.9 637.1 639.4 616.2 663.2 596.2 687.3 577.2 711.5 559.5 735.6 543.2 759.6 528.5 783.2 515.6 806.5 504.8 829.2 496.3 851.2 490.3 872.6Z" fill="#6048EE" fill-opacity="0.8" stroke="#000" stroke-opacity="0.85" stroke-width="0.5"/>
<path d="M288.4 311.4A353.2 353.2 0 0 1 304.6 292.0L327.2 312.6 349.7 333.7 372.3 355.4 394.9 377.5 417.5 400.0 440.2 422.9 462.8 446.0 485.3 469.4 507.9 492.9 530.4 516.6 552.7 540.4 575.0 564.2 597.1 588.1 619.1 612.0 640.8 635.9 662.2 659.7 683.4 683.5 704.1 707.3 724.5 731.0 744.3 754.6 763.7 778.1 782.4 801.6A348.0 348.0 0 0 1 762.3 816.3L745.8 792.7 728.4 769.0 710.0 745.2 690.8 721.2 670.8 697.1 650.3 672.9 629.1 648.7 607.6 624.4 585.6 600.1 563.3 575.8 540.8 551.6 518.0 527.6 495.2 503.7 472.2 480.1 449.1 456.9 426.1 434.1 403.0 411.8 380.0 390.1 357.0 369.1 334.1 348.9 311.2 329.7 288.4 311.4Z" fill="#3070D8" fill-opacity="0.8" stroke="#000" stroke-opacity="0.85" stroke-width="0.5"/>
<path d="M370.7 821.2A353.2 353.2 0 0 1 347.6 804.3L365.7 782.5 385.1 760.6 405.6 738.7 427.1 716.8 449.6 694.9 472.8 672.9 496.6 651.0 521.0 629.1 545.9 607.4 571.1 585.7 596.5 564.3 622.2 543.1 647.9 522.3 673.6 501.8 699.3 481.9 725.0 462.5 750.5 443.8 775.8 425.9 800.9 408.8 825.8 392.8 850.4 378.0 874.7 364.4A348.0 348.0 0 0 1 886.9 389.7L863.0 400.9 838.7 413.7 814.0 428.0 789.0 443.7 763.6 460.5 738.0 478.4 712.2 497.2 686.4 516.8 660.4 537.0 634.6 557.8 608.8 579.0 583.3 600.6 558.2 622.4 533.6 644.4 509.6 666.6 486.3 688.8 463.9 711.0 442.5 733.2 422.3 755.3 403.5 777.4 386.3 799.3 370.7 821.2Z" fill="#8FA3AE" fill-opacity="0.8" stroke="#000" stroke-opacity="0.85" stroke-width="0.5"/>
<path d="M337.1 795.6A353.2 353.2 0 0 1 316.4 776.3L331.1 763.7 348.5 752.1 368.2 741.5 390.0 731.9 413.6 723.2 438.8 715.5 465.4 708.8 493.0 702.9 521.4 698.1 550.4 694.1 579.7 691.2 609.1 689.2 638.2 688.2 666.9 688.2 694.9 689.3 722.0 691.5 747.8 694.8 772.2 699.4 794.9 705.1 815.7 712.2 834.3 720.7 850.4 730.6A348.0 348.0 0 0 1 832.5 753.4L818.2 743.1 801.5 734.1 782.5 726.5 761.6 720.1 738.9 715.0 714.7 711.1 689.4 708.4 663.1 706.8 636.0 706.4 608.6 707.1 580.9 708.9 553.3 711.7 526.0 715.6 499.2 720.5 473.3 726.5 448.5 733.4 425.1 741.4 403.2 750.3 383.3 760.2 365.4 771.0 349.9 782.9 337.1 795.6Z" fill="#F2A0AA" fill-opacity="0.8" stroke="#000" stroke-opacity="0.85" stroke-width="0.5"/>
<path d="M214.4 519.4A353.2 353.2 0 0 1 216.8 485.6L240.7 489.5 265.6 495.5 291.3 503.4 317.9 512.9 345.1 524.0 372.8 536.3 400.9 549.9 429.3 564.4 457.8 579.8 486.3 596.0 514.6 612.8 542.5 630.1 569.9 647.9 596.7 665.9 622.5 684.3 647.3 702.9 670.8 721.6 692.8 740.4 713.2 759.3 731.7 778.2 748.2 797.2 762.3 816.3A348.0 348.0 0 0 1 734.6 833.2L723.0 814.5 708.8 795.7 692.3 777.0 673.7 758.2 653.2 739.5 631.1 720.9 607.5 702.5 582.7 684.4 556.9 666.5 530.2 649.1 503.0 632.2 475.3 616.0 447.4 600.5 419.5 585.8 391.7 572.2 364.2 559.8 337.1 548.7 310.7 539.1 285.1 531.2 260.4 525.2 236.8 521.2 214.4 519.4Z" fill="#00EDB2" fill-opacity="0.8" stroke="#000" stroke-opacity="0.85" stroke-width="0.5"/>
<path d="M217.0 571.7A353.2 353.2 0 0 1 214.4 537.6L238.3 535.9 263.4 532.1 289.6 526.6 316.7 519.4 344.5 510.7 373.1 500.8 402.1 489.7 431.5 477.6 461.1 464.6 490.7 450.8 520.2 436.4 549.4 421.4 578.0 405.9 606.0 390.0 633.1 373.8 659.1 357.2 683.9 340.5 707.2 323.5 728.8 306.2 748.5 288.8 766.1 271.2 781.3 253.3A348.0 348.0 0 0 1 807.4 275.8L789.4 293.5 769.3 311.0 747.5 328.1 724.2 345.1 699.4 361.9 673.4 378.4 646.3 394.8 618.4 410.9 589.7 426.7 560.5 442.2 530.9 457.4 501.0 472.1 471.0 486.2 441.1 499.8 411.3 512.6 381.7 524.7 352.6 535.7 324.0 545.7 296.1 554.5 268.8 561.8 242.5 567.6 217.0 571.7Z" fill="#50AA91" fill-opacity="0.8" stroke="#000" stroke-opacity="0.85" stroke-width="0.5"/>
<path d="M216.8 485.6A353.2 353.2 0 0 1 224.1 445.3L254.1 452.7 284.3 460.5 314.8 468.6 345.4 477.0 376.1 485.7 407.0 494.7 438.0 503.8 469.0 513.0 500.1 522.4 531.2 531.9 562.2 541.5 593.2 551.2 624.1 561.0 654.9 570.8 685.5 580.7 715.9 590.7 746.1 600.8 776.0 610.9 805.6 621.2 834.9 631.7 863.8 642.2 892.2 653.0A348.0 348.0 0 0 1 876.4 688.2L851.0 675.6 824.5 663.4 797.1 651.6 768.8 640.1 739.7 628.9 710.0 617.9 679.7 607.2 648.9 596.6 617.7 586.3 586.3 576.2 554.6 566.4 522.9 556.7 491.1 547.4 459.3 538.4 427.8 529.7 396.4 521.5 365.3 513.8 334.6 506.6 304.3 500.2 274.6 494.4 245.4 489.5 216.8 485.6Z" fill="#00EDB2" fill-opacity="0.8" stroke="#000" stroke-opacity="0.85" stroke-width="0.5"/>
<path d="M284.8 739.6A353.2 353.2 0 0 1 262.4 705.8L289.0 690.1 315.6 674.0 342.4 657.4 369.3 640.5 396.2 623.3 423.2 605.8 450.2 588.1 477.3 570.3 504.3 552.3 531.3 534.2 558.3 516.0 585.1 497.8 611.9 479.4 638.5 461.1 664.9 442.7 691.1 424.4 717.1 405.9 742.8 387.5 768.1 369.1 793.0 350.6 817.6 332.1 841.6 313.5A348.0 348.0 0 0 1 865.0 347.3L838.8 363.4 812.5 379.8 786.1 396.5 759.6 413.5 733.1 430.7 706.5 448.1 679.8 465.7 653.1 483.4 626.3 501.3 599.5 519.3 572.7 537.3 545.9 555.5 519.2 573.7 492.5 592.0 465.9 610.3 439.4 628.6 413.0 647.0 386.9 665.5 360.9 683.9 335.2 702.4 309.8 721.0 284.8 739.6Z" fill="#A84F36" fill-opacity="0.8" stroke="#000" stroke-opacity="0.85" stroke-width="0.5"/>
<path d="M247.1 676.5A353.2 353.2 0 0 1 228.7 627.7L254.6 619.3 281.2 609.5 308.3 598.3 335.8 585.9 363.8 572.5 392.1 558.3 420.6 543.2 449.3 527.4 478.0 511.1 506.8 494.3 535.4 477.2 563.8 459.7 591.8 441.9 619.4 424.0 646.4 405.8 672.7 387.6 698.1 369.2 722.6 350.8 745.9 332.2 767.9 313.5 788.4 294.7 807.4 275.8A348.0 348.0 0 0 1 841.6 313.5L818.2 331.5 793.9 349.3 769.0 367.0 743.5 384.7 717.4 402.3 690.9 419.8 663.9 437.3 636.6 454.7 609.1 472.1 581.3 489.4 553.3 506.5 525.2 523.6 497.1 540.5 468.9 557.1 440.7 573.6 412.6 589.7 384.6 605.5 356.7 620.8 329.0 635.7 301.5 649.9 274.2 663.6 247.1 676.5Z" fill="#DEDEDE" fill-opacity="0.8" stroke="#000" stroke-opacity="0.85" stroke-width="0.5" stroke-dasharray="4.5 1.3"/>
<path d="M234.9 409.2A353.2 353.2 0 0 1 276.8 327.3L290.9 335.4 307.1 341.8 325.1 346.6 344.7 349.7 365.6 351.3 387.6 351.4 410.5 350.0 433.9 347.2 457.7 343.1 481.5 337.7 505.3 331.1 528.6 323.3 551.4 314.5 573.3 304.7 594.1 294.1 613.6 282.6 631.6 270.4 647.8 257.6 661.9 244.3 673.9 230.5 683.4 216.5 690.2 202.2A348.0 348.0 0 0 1 769.5 244.5L756.9 259.8 741.6 274.7 723.8 289.1 703.7 302.9 681.7 316.3 657.9 329.1 632.6 341.3 606.1 352.9 578.5 363.9 550.2 374.1 521.3 383.5 492.1 392.0 462.9 399.6 433.8 406.2 405.2 411.6 377.1 415.8 350.0 418.7 323.9 420.2 299.1 420.1 275.9 418.3 254.4 414.7 234.9 409.2Z" fill="#A01996" fill-opacity="0.8" stroke="#000" stroke-opacity="0.85" stroke-width="0.5"/>
<path d="M428.5 203.2A353.2 353.2 0 0 1 553.0 175.0L553.5 186.3 554.2 197.3 554.9 207.9 555.7 217.7 556.5 226.6 557.4 234.5 558.3 241.2 559.2 246.5 560.2 250.4 561.1 252.9 562.0 253.9 562.9 253.4 563.7 251.3 564.5 247.8 565.2 242.9 565.8 236.7 566.4 229.3 566.9 220.8 567.3 211.4 567.6 201.3 567.7 190.7 567.8 179.9A348.0 348.0 0 0 1 690.2 202.2L684.9 213.6 677.7 224.5 669.0 234.7 658.8 244.1 647.3 252.5 634.8 259.8 621.3 265.9 607.1 270.8 592.2 274.4 577.0 276.6 561.6 277.5 546.1 276.9 530.8 274.9 515.7 271.5 501.2 266.8 487.4 260.9 474.3 253.7 462.4 245.3 451.6 236.0 442.3 225.8 434.5 214.8 428.5 203.2Z" fill="#3070D8" fill-opacity="0.8" stroke="#000" stroke-opacity="0.85" stroke-width="0.5"/>
<path d="M304.6 292.0A353.2 353.2 0 0 1 428.5 203.2L437.8 221.7 449.9 240.3 464.5 259.1 481.3 277.8 500.2 296.5 520.8 315.1 542.9 333.4 566.4 351.5 590.9 369.1 616.3 386.1 642.3 402.6 668.8 418.2 695.5 433.0 722.3 446.7 748.8 459.2 775.0 470.4 800.7 480.1 825.6 488.2 849.6 494.4 872.5 498.7 894.2 500.8 914.4 500.5A348.0 348.0 0 0 1 894.3 647.6L868.0 637.4 841.3 626.1 814.3 613.8 786.8 600.6 759.1 586.5 731.1 571.8 702.8 556.4 674.4 540.5 645.9 524.2 617.4 507.5 588.9 490.5 560.5 473.2 532.3 455.7 504.4 438.1 476.9 420.2 449.9 402.3 423.5 384.2 397.9 366.0 373.0 347.7 349.1 329.3 326.2 310.8 304.6 292.0Z" fill="#3070D8" fill-opacity="0.8" stroke="#000" stroke-opacity="0.85" stroke-width="0.5"/>
<path d="M647.29 877.41A358.5 358.5 0 0 1 647.24 877.42L646.06 872.25A353.2 353.2 0 0 0 646.11 872.24Z" fill="#E030E0" stroke="#000" stroke-width="0.85"/>
<path d="M647.24 877.42A358.5 358.5 0 0 1 647.16 877.44L645.99 872.27A353.2 353.2 0 0 0 646.06 872.25Z" fill="#3070D8" stroke="#000" stroke-width="0.85"/>
<path d="M647.16 877.44A358.5 358.5 0 0 1 646.01 877.70L644.85 872.53A353.2 353.2 0 0 0 645.99 872.27Z" fill="#30E68C" stroke="#000" stroke-width="0.85"/>
<path d="M646.01 877.70A358.5 358.5 0 0 1 643.46 878.26L642.33 873.08A353.2 353.2 0 0 0 644.85 872.53Z" fill="#B5E62E" stroke="#000" stroke-width="0.85"/>
<path d="M643.46 878.26A358.5 358.5 0 0 1 636.27 879.74L635.26 874.54A353.2 353.2 0 0 0 642.33 873.08Z" fill="#E83030" stroke="#000" stroke-width="0.85"/>
<path d="M622.72 882.12A358.5 358.5 0 0 1 622.67 882.13L621.85 876.89A353.2 353.2 0 0 0 621.90 876.89Z" fill="#E030E0" stroke="#000" stroke-width="0.85"/>
<path d="M622.67 882.13A358.5 358.5 0 0 1 622.59 882.14L621.78 876.90A353.2 353.2 0 0 0 621.85 876.89Z" fill="#3070D8" stroke="#000" stroke-width="0.85"/>
<path d="M622.59 882.14A358.5 358.5 0 0 1 622.22 882.20L621.41 876.96A353.2 353.2 0 0 0 621.78 876.90Z" fill="#30E68C" stroke="#000" stroke-width="0.85"/>
<path d="M622.22 882.20A358.5 358.5 0 0 1 620.72 882.43L619.93 877.19A353.2 353.2 0 0 0 621.41 876.96Z" fill="#B5E62E" stroke="#000" stroke-width="0.85"/>
<path d="M620.72 882.43A358.5 358.5 0 0 1 609.70 883.91L609.08 878.64A353.2 353.2 0 0 0 619.93 877.19Z" fill="#E83030" stroke="#000" stroke-width="0.85"/>
<path d="M594.69 885.37A358.5 358.5 0 0 1 594.62 885.37L594.22 880.09A353.2 353.2 0 0 0 594.29 880.08Z" fill="#E030E0" stroke="#000" stroke-width="0.85"/>
<path d="M594.62 885.37A358.5 358.5 0 0 1 594.55 885.38L594.15 880.09A353.2 353.2 0 0 0 594.22 880.09Z" fill="#3070D8" stroke="#000" stroke-width="0.85"/>
<path d="M594.55 885.38A358.5 358.5 0 0 1 594.36 885.39L593.97 880.11A353.2 353.2 0 0 0 594.15 880.09Z" fill="#30E68C" stroke="#000" stroke-width="0.85"/>
<path d="M594.36 885.39A358.5 358.5 0 0 1 592.02 885.56L591.66 880.27A353.2 353.2 0 0 0 593.97 880.11Z" fill="#B5E62E" stroke="#000" stroke-width="0.85"/>
<path d="M592.02 885.56A358.5 358.5 0 0 1 580.51 886.16L580.32 880.87A353.2 353.2 0 0 0 591.66 880.27Z" fill="#E83030" stroke="#000" stroke-width="0.85"/>
<path d="M564.68 886.39A358.5 358.5 0 0 1 564.62 886.39L564.66 881.09A353.2 353.2 0 0 0 564.73 881.09Z" fill="#E030E0" stroke="#000" stroke-width="0.85"/>
<path d="M564.62 886.39A358.5 358.5 0 0 1 564.52 886.39L564.57 881.09A353.2 353.2 0 0 0 564.66 881.09Z" fill="#3070D8" stroke="#000" stroke-width="0.85"/>
<path d="M564.52 886.39A358.5 358.5 0 0 1 560.39 886.33L560.49 881.03A353.2 353.2 0 0 0 564.57 881.09Z" fill="#30E68C" stroke="#000" stroke-width="0.85"/>
<path d="M560.39 886.33A358.5 358.5 0 0 1 558.09 886.28L558.23 880.98A353.2 353.2 0 0 0 560.49 881.03Z" fill="#B5E62E" stroke="#000" stroke-width="0.85"/>
<path d="M558.09 886.28A358.5 358.5 0 0 1 543.87 885.62L544.22 880.33A353.2 353.2 0 0 0 558.23 880.98Z" fill="#E83030" stroke="#000" stroke-width="0.85"/>
<path d="M529.09 884.34A358.5 358.5 0 0 1 528.99 884.33L529.56 879.06A353.2 353.2 0 0 0 529.66 879.07Z" fill="#E030E0" stroke="#000" stroke-width="0.85"/>
<path d="M528.99 884.33A358.5 358.5 0 0 1 528.87 884.31L529.44 879.04A353.2 353.2 0 0 0 529.56 879.06Z" fill="#3070D8" stroke="#000" stroke-width="0.85"/>
<path d="M528.87 884.31A358.5 358.5 0 0 1 522.85 883.61L523.51 878.35A353.2 353.2 0 0 0 529.44 879.04Z" fill="#30E68C" stroke="#000" stroke-width="0.85"/>
<path d="M522.85 883.61A358.5 358.5 0 0 1 511.11 881.94L511.94 876.70A353.2 353.2 0 0 0 523.51 878.35Z" fill="#B5E62E" stroke="#000" stroke-width="0.85"/>
<path d="M511.11 881.94A358.5 358.5 0 0 1 503.65 880.67L504.59 875.45A353.2 353.2 0 0 0 511.94 876.70Z" fill="#E83030" stroke="#000" stroke-width="0.85"/>
<path d="M489.54 877.82A358.5 358.5 0 0 1 489.47 877.80L490.62 872.63A353.2 353.2 0 0 0 490.69 872.65Z" fill="#E030E0" stroke="#000" stroke-width="0.85"/>
<path d="M489.47 877.80A358.5 358.5 0 0 1 489.39 877.79L490.55 872.62A353.2 353.2 0 0 0 490.62 872.63Z" fill="#3070D8" stroke="#000" stroke-width="0.85"/>
<path d="M489.39 877.79A358.5 358.5 0 0 1 489.27 877.76L490.43 872.59A353.2 353.2 0 0 0 490.55 872.62Z" fill="#30E68C" stroke="#000" stroke-width="0.85"/>
<path d="M489.27 877.76A358.5 358.5 0 0 1 489.13 877.73L490.29 872.56A353.2 353.2 0 0 0 490.43 872.59Z" fill="#B5E62E" stroke="#000" stroke-width="0.85"/>
<path d="M489.13 877.73A358.5 358.5 0 0 1 465.32 871.53L466.83 866.45A353.2 353.2 0 0 0 490.29 872.56Z" fill="#E83030" stroke="#000" stroke-width="0.85"/>
<path d="M450.96 866.93A358.5 358.5 0 0 1 450.89 866.90L452.61 861.89A353.2 353.2 0 0 0 452.68 861.92Z" fill="#E030E0" stroke="#000" stroke-width="0.85"/>
<path d="M450.89 866.90A358.5 358.5 0 0 1 450.79 866.87L452.52 861.86A353.2 353.2 0 0 0 452.61 861.89Z" fill="#3070D8" stroke="#000" stroke-width="0.85"/>
<path d="M450.79 866.87A358.5 358.5 0 0 1 449.58 866.45L451.33 861.45A353.2 353.2 0 0 0 452.52 861.86Z" fill="#30E68C" stroke="#000" stroke-width="0.85"/>
<path d="M449.58 866.45A358.5 358.5 0 0 1 440.44 863.13L442.32 858.17A353.2 353.2 0 0 0 451.33 861.45Z" fill="#B5E62E" stroke="#000" stroke-width="0.85"/>
<path d="M440.44 863.13A358.5 358.5 0 0 1 426.44 857.48L428.53 852.61A353.2 353.2 0 0 0 442.32 858.17Z" fill="#E83030" stroke="#000" stroke-width="0.85"/>
<path d="M413.27 851.53A358.5 358.5 0 0 1 413.18 851.49L415.47 846.70A353.2 353.2 0 0 0 415.55 846.75Z" fill="#E030E0" stroke="#000" stroke-width="0.85"/>
<path d="M413.18 851.49A358.5 358.5 0 0 1 413.07 851.43L415.35 846.65A353.2 353.2 0 0 0 415.47 846.70Z" fill="#3070D8" stroke="#000" stroke-width="0.85"/>
<path d="M413.07 851.43A358.5 358.5 0 0 1 411.03 850.45L413.34 845.68A353.2 353.2 0 0 0 415.35 846.65Z" fill="#30E68C" stroke="#000" stroke-width="0.85"/>
<path d="M411.03 850.45A358.5 358.5 0 0 1 393.41 841.29L395.98 836.66A353.2 353.2 0 0 0 413.34 845.68Z" fill="#B5E62E" stroke="#000" stroke-width="0.85"/>
<path d="M393.41 841.29A358.5 358.5 0 0 1 385.12 836.54L387.81 831.98A353.2 353.2 0 0 0 395.98 836.66Z" fill="#E83030" stroke="#000" stroke-width="0.85"/>
<path d="M374.40 829.95A358.5 358.5 0 0 1 374.34 829.91L377.19 825.45A353.2 353.2 0 0 0 377.26 825.49Z" fill="#E030E0" stroke="#000" stroke-width="0.85"/>
<path d="M374.34 829.91A358.5 358.5 0 0 1 374.25 829.86L377.11 825.39A353.2 353.2 0 0 0 377.19 825.45Z" fill="#3070D8" stroke="#000" stroke-width="0.85"/>
<path d="M374.25 829.86A358.5 358.5 0 0 1 372.65 828.82L375.53 824.37A353.2 353.2 0 0 0 377.11 825.39Z" fill="#30E68C" stroke="#000" stroke-width="0.85"/>
<path d="M372.65 828.82A358.5 358.5 0 0 1 367.76 825.60L370.71 821.20A353.2 353.2 0 0 0 375.53 824.37Z" fill="#B5E62E" stroke="#000" stroke-width="0.85"/>
<path d="M367.76 825.60A358.5 358.5 0 0 1 344.33 808.47L347.63 804.32A353.2 353.2 0 0 0 370.71 821.20Z" fill="#E83030" stroke="#000" stroke-width="0.85"/>
<path d="M334.67 800.51A358.5 358.5 0 0 1 334.60 800.44L338.04 796.41A353.2 353.2 0 0 0 338.11 796.48Z" fill="#E030E0" stroke="#000" stroke-width="0.85"/>
<path d="M334.60 800.44A358.5 358.5 0 0 1 334.51 800.36L337.95 796.34A353.2 353.2 0 0 0 338.04 796.41Z" fill="#3070D8" stroke="#000" stroke-width="0.85"/>
<path d="M334.51 800.36A358.5 358.5 0 0 1 333.67 799.65L337.13 795.63A353.2 353.2 0 0 0 337.95 796.34Z" fill="#30E68C" stroke="#000" stroke-width="0.85"/>
<path d="M333.67 799.65A358.5 358.5 0 0 1 312.66 780.04L316.42 776.32A353.2 353.2 0 0 0 337.13 795.63Z" fill="#B5E62E" stroke="#000" stroke-width="0.85"/>
<path d="M312.66 780.04A358.5 358.5 0 0 1 299.33 765.82L303.30 762.31A353.2 353.2 0 0 0 316.42 776.32Z" fill="#E83030" stroke="#000" stroke-width="0.85"/>
<path d="M287.99 752.39A358.5 358.5 0 0 1 287.94 752.33L292.08 749.02A353.2 353.2 0 0 0 292.12 749.07Z" fill="#E030E0" stroke="#000" stroke-width="0.85"/>
<path d="M287.94 752.33A358.5 358.5 0 0 1 287.88 752.26L292.02 748.94A353.2 353.2 0 0 0 292.08 749.02Z" fill="#3070D8" stroke="#000" stroke-width="0.85"/>
<path d="M287.88 752.26A358.5 358.5 0 0 1 287.76 752.10L291.89 748.79A353.2 353.2 0 0 0 292.02 748.94Z" fill="#30E68C" stroke="#000" stroke-width="0.85"/>
<path d="M287.76 752.10A358.5 358.5 0 0 1 280.52 742.76L284.76 739.58A353.2 353.2 0 0 0 291.89 748.79Z" fill="#B5E62E" stroke="#000" stroke-width="0.85"/>
<path d="M280.52 742.76A358.5 358.5 0 0 1 257.81 708.50L262.39 705.83A353.2 353.2 0 0 0 284.76 739.58Z" fill="#E83030" stroke="#000" stroke-width="0.85"/>
<path d="M250.20 694.77A358.5 358.5 0 0 1 250.16 694.68L254.85 692.21A353.2 353.2 0 0 0 254.89 692.30Z" fill="#E030E0" stroke="#000" stroke-width="0.85"/>
<path d="M250.16 694.68A358.5 358.5 0 0 1 250.08 694.54L254.78 692.08A353.2 353.2 0 0 0 254.85 692.21Z" fill="#3070D8" stroke="#000" stroke-width="0.85"/>
<path d="M250.08 694.54A358.5 358.5 0 0 1 248.67 691.82L253.38 689.39A353.2 353.2 0 0 0 254.78 692.08Z" fill="#30E68C" stroke="#000" stroke-width="0.85"/>
<path d="M248.67 691.82A358.5 358.5 0 0 1 242.26 678.71L247.07 676.48A353.2 353.2 0 0 0 253.38 689.39Z" fill="#B5E62E" stroke="#000" stroke-width="0.85"/>
<path d="M242.26 678.71A358.5 358.5 0 0 1 223.60 629.18L228.69 627.68A353.2 353.2 0 0 0 247.07 676.48Z" fill="#E83030" stroke="#000" stroke-width="0.85"/>
<path d="M219.66 614.69A358.5 358.5 0 0 1 219.13 612.52L224.28 611.27A353.2 353.2 0 0 0 224.81 613.41Z" fill="#E030E0" stroke="#000" stroke-width="0.85"/>
<path d="M219.13 612.52A358.5 358.5 0 0 1 218.90 611.56L224.05 610.32A353.2 353.2 0 0 0 224.28 611.27Z" fill="#3070D8" stroke="#000" stroke-width="0.85"/>
<path d="M218.90 611.56A358.5 358.5 0 0 1 215.54 596.06L220.74 595.05A353.2 353.2 0 0 0 224.05 610.32Z" fill="#30E68C" stroke="#000" stroke-width="0.85"/>
<path d="M215.54 596.06A358.5 358.5 0 0 1 211.76 572.31L217.02 571.66A353.2 353.2 0 0 0 220.74 595.05Z" fill="#B5E62E" stroke="#000" stroke-width="0.85"/>
<path d="M211.76 572.31A358.5 358.5 0 0 1 209.13 537.72L214.43 537.58A353.2 353.2 0 0 0 217.02 571.66Z" fill="#E83030" stroke="#000" stroke-width="0.85"/>
<path d="M209.03 523.33A358.5 358.5 0 0 1 209.10 519.62L214.39 519.75A353.2 353.2 0 0 0 214.33 523.40Z" fill="#E030E0" stroke="#000" stroke-width="0.85"/>
<path d="M209.10 519.62A358.5 358.5 0 0 1 209.10 519.31L214.40 519.43A353.2 353.2 0 0 0 214.39 519.75Z" fill="#3070D8" stroke="#000" stroke-width="0.85"/>
<path d="M209.10 519.31A358.5 358.5 0 0 1 211.58 484.96L216.84 485.59A353.2 353.2 0 0 0 214.40 519.43Z" fill="#30E68C" stroke="#000" stroke-width="0.85"/>
<path d="M211.58 484.96A358.5 358.5 0 0 1 218.95 444.03L224.10 445.27A353.2 353.2 0 0 0 216.84 485.59Z" fill="#B5E62E" stroke="#000" stroke-width="0.85"/>
<path d="M218.95 444.03A358.5 358.5 0 0 1 223.01 428.66L228.10 430.13A353.2 353.2 0 0 0 224.10 445.27Z" fill="#E83030" stroke="#000" stroke-width="0.85"/>
<path d="M227.89 413.08A358.5 358.5 0 0 1 229.86 407.40L234.85 409.18A353.2 353.2 0 0 0 232.91 414.78Z" fill="#B5E62E" stroke="#000" stroke-width="0.85"/>
<path d="M229.86 407.40A358.5 358.5 0 0 1 272.44 324.28L276.80 327.29A353.2 353.2 0 0 0 234.85 409.18Z" fill="#E83030" stroke="#000" stroke-width="0.85"/>
<path d="M281.26 312.05A358.5 358.5 0 0 1 284.23 308.18L288.41 311.43A353.2 353.2 0 0 0 285.50 315.24Z" fill="#3070D8" stroke="#000" stroke-width="0.85"/>
<path d="M284.23 308.18A358.5 358.5 0 0 1 300.66 288.49L304.60 292.03A353.2 353.2 0 0 0 288.41 311.43Z" fill="#30E68C" stroke="#000" stroke-width="0.85"/>
<path d="M300.66 288.49A358.5 358.5 0 0 1 426.41 198.33L428.50 203.20A353.2 353.2 0 0 0 304.60 292.03Z" fill="#B5E62E" stroke="#000" stroke-width="0.85"/>
<path d="M426.41 198.33A358.5 358.5 0 0 1 552.80 169.70L553.02 175.00A353.2 353.2 0 0 0 428.50 203.20Z" fill="#E83030" stroke="#000" stroke-width="0.85"/>
<path d="M567.81 174.50A353.4 353.4 0 0 1 692.07 197.18L690.17 202.24A348.0 348.0 0 0 0 567.80 179.90Z" fill="#3070D8" stroke="#000" stroke-width="0.85"/>
<path d="M692.07 197.18A353.4 353.4 0 0 1 772.60 240.10L769.46 244.50A348.0 348.0 0 0 0 690.17 202.24Z" fill="#A01996" stroke="#000" stroke-width="0.85"/>
<path d="M772.60 240.10A353.4 353.4 0 0 1 784.62 249.07L781.31 253.33A348.0 348.0 0 0 0 769.46 244.50Z" fill="#00EDB2" stroke="#000" stroke-width="0.85"/>
<path d="M784.62 249.07A353.4 353.4 0 0 1 811.13 271.90L807.41 275.81A348.0 348.0 0 0 0 781.31 253.33Z" fill="#50AA91" stroke="#000" stroke-width="0.85"/>
<path d="M811.13 271.90A353.4 353.4 0 0 1 845.88 310.19L841.62 313.52A348.0 348.0 0 0 0 807.41 275.81Z" fill="#DEDEDE" stroke="#000" stroke-width="0.85"/>
<path d="M845.88 310.19A353.4 353.4 0 0 1 869.60 344.52L864.98 347.32A348.0 348.0 0 0 0 841.62 313.52Z" fill="#A84F36" stroke="#000" stroke-width="0.85"/>
<path d="M869.60 344.52A353.4 353.4 0 0 1 879.49 361.90L874.72 364.44A348.0 348.0 0 0 0 864.98 347.32Z" fill="#F2A0AA" stroke="#000" stroke-width="0.85"/>
<path d="M879.49 361.90A353.4 353.4 0 0 1 891.84 387.57L886.89 389.72A348.0 348.0 0 0 0 874.72 364.44Z" fill="#8FA3AE" stroke="#000" stroke-width="0.85"/>
<path d="M891.84 387.57A353.4 353.4 0 0 1 895.50 396.34L890.49 398.35A348.0 348.0 0 0 0 886.89 389.72Z" fill="#EBC862" stroke="#000" stroke-width="0.85"/>
<path d="M895.50 396.34A353.4 353.4 0 0 1 900.70 410.14L895.61 411.94A348.0 348.0 0 0 0 890.49 398.35Z" fill="#8B5088" stroke="#000" stroke-width="0.85"/>
<path d="M900.70 410.14A353.4 353.4 0 0 1 908.14 433.79L902.94 435.23A348.0 348.0 0 0 0 895.61 411.94Z" fill="#6048EE" stroke="#000" stroke-width="0.85"/>
<path d="M908.14 433.79A353.4 353.4 0 0 1 910.06 441.04L904.83 442.37A348.0 348.0 0 0 0 902.94 435.23Z" fill="#107810" stroke="#000" stroke-width="0.85"/>
<path d="M910.06 441.04A353.4 353.4 0 0 1 913.54 456.15L908.25 457.24A348.0 348.0 0 0 0 904.83 442.37Z" fill="#D62A62" stroke="#000" stroke-width="0.85"/>
<path d="M913.54 456.15A353.4 353.4 0 0 1 915.82 468.18L910.50 469.10A348.0 348.0 0 0 0 908.25 457.24Z" fill="#EA70A0" stroke="#000" stroke-width="0.85"/>
<path d="M915.82 468.18A353.4 353.4 0 0 1 917.51 479.05L912.16 479.80A348.0 348.0 0 0 0 910.50 469.10Z" fill="#C8B462" stroke="#000" stroke-width="0.85"/>
<path d="M917.51 479.05A353.4 353.4 0 0 1 918.41 485.99L913.04 486.64A348.0 348.0 0 0 0 912.16 479.80Z" fill="#F4E04E" stroke="#000" stroke-width="0.85"/>
<path d="M919.80 500.05A353.4 353.4 0 0 1 899.34 649.45L894.27 647.59A348.0 348.0 0 0 0 914.42 500.48Z" fill="#3070D8" stroke="#000" stroke-width="0.85"/>
<path d="M899.34 649.45A353.4 353.4 0 0 1 897.27 654.95L892.23 653.01A348.0 348.0 0 0 0 894.27 647.59Z" fill="#A01996" stroke="#000" stroke-width="0.85"/>
<path d="M897.27 654.95A353.4 353.4 0 0 1 881.16 690.71L876.37 688.22A348.0 348.0 0 0 0 892.23 653.01Z" fill="#00EDB2" stroke="#000" stroke-width="0.85"/>
<path d="M881.16 690.71A353.4 353.4 0 0 1 869.26 711.83L864.65 709.02A348.0 348.0 0 0 0 876.37 688.22Z" fill="#50AA91" stroke="#000" stroke-width="0.85"/>
<path d="M869.26 711.83A353.4 353.4 0 0 1 861.61 723.84L857.11 720.85A348.0 348.0 0 0 0 864.65 709.02Z" fill="#DEDEDE" stroke="#000" stroke-width="0.85"/>
<path d="M861.61 723.84A353.4 353.4 0 0 1 854.79 733.71L850.40 730.57A348.0 348.0 0 0 0 857.11 720.85Z" fill="#A84F36" stroke="#000" stroke-width="0.85"/>
<path d="M854.79 733.71A353.4 353.4 0 0 1 836.63 756.94L832.52 753.44A348.0 348.0 0 0 0 850.40 730.57Z" fill="#F2A0AA" stroke="#000" stroke-width="0.85"/>
<path d="M836.63 756.94A353.4 353.4 0 0 1 832.87 761.29L828.81 757.72A348.0 348.0 0 0 0 832.52 753.44Z" fill="#8FA3AE" stroke="#000" stroke-width="0.85"/>
<path d="M832.87 761.29A353.4 353.4 0 0 1 819.42 775.74L815.57 771.96A348.0 348.0 0 0 0 828.81 757.72Z" fill="#EBC862" stroke="#000" stroke-width="0.85"/>
<path d="M819.42 775.74A353.4 353.4 0 0 1 812.67 782.42L808.92 778.54A348.0 348.0 0 0 0 815.57 771.96Z" fill="#8B5088" stroke="#000" stroke-width="0.85"/>
<path d="M812.67 782.42A353.4 353.4 0 0 1 812.56 782.53L808.82 778.64A348.0 348.0 0 0 0 808.92 778.54Z" fill="#6048EE" stroke="#000" stroke-width="0.85"/>
<path d="M812.56 782.53A353.4 353.4 0 0 1 803.97 790.53L800.35 786.52A348.0 348.0 0 0 0 808.82 778.64Z" fill="#107810" stroke="#000" stroke-width="0.85"/>
<path d="M803.97 790.53A353.4 353.4 0 0 1 802.10 792.20L798.52 788.16A348.0 348.0 0 0 0 800.35 786.52Z" fill="#D62A62" stroke="#000" stroke-width="0.85"/>
<path d="M802.10 792.20A353.4 353.4 0 0 1 800.23 793.85L796.67 789.79A348.0 348.0 0 0 0 798.52 788.16Z" fill="#EA70A0" stroke="#000" stroke-width="0.85"/>
<path d="M800.23 793.85A353.4 353.4 0 0 1 799.10 794.84L795.56 790.76A348.0 348.0 0 0 0 796.67 789.79Z" fill="#C8B462" stroke="#000" stroke-width="0.85"/>
<path d="M799.10 794.84A353.4 353.4 0 0 1 797.20 796.47L793.69 792.36A348.0 348.0 0 0 0 795.56 790.76Z" fill="#F4E04E" stroke="#000" stroke-width="0.85"/>
<path d="M785.75 805.85A353.4 353.4 0 0 1 765.29 820.77L762.27 816.29A348.0 348.0 0 0 0 782.42 801.60Z" fill="#3070D8" stroke="#000" stroke-width="0.85"/>
<path d="M765.29 820.77A353.4 353.4 0 0 1 737.19 837.90L734.59 833.16A348.0 348.0 0 0 0 762.27 816.29Z" fill="#00EDB2" stroke="#000" stroke-width="0.85"/>
<path d="M737.19 837.90A353.4 353.4 0 0 1 722.80 845.35L720.42 840.50A348.0 348.0 0 0 0 734.59 833.16Z" fill="#50AA91" stroke="#000" stroke-width="0.85"/>
<path d="M722.80 845.35A353.4 353.4 0 0 1 720.06 846.67L717.73 841.80A348.0 348.0 0 0 0 720.42 840.50Z" fill="#DEDEDE" stroke="#000" stroke-width="0.85"/>
<path d="M720.06 846.67A353.4 353.4 0 0 1 719.88 846.76L717.55 841.89A348.0 348.0 0 0 0 717.73 841.80Z" fill="#A84F36" stroke="#000" stroke-width="0.85"/>
<path d="M719.88 846.76A353.4 353.4 0 0 1 718.85 847.25L716.53 842.37A348.0 348.0 0 0 0 717.55 841.89Z" fill="#F2A0AA" stroke="#000" stroke-width="0.85"/>
<path d="M718.85 847.25A353.4 353.4 0 0 1 717.13 848.06L714.84 843.17A348.0 348.0 0 0 0 716.53 842.37Z" fill="#8FA3AE" stroke="#000" stroke-width="0.85"/>
<path d="M717.13 848.06A353.4 353.4 0 0 1 715.06 849.02L712.81 844.11A348.0 348.0 0 0 0 714.84 843.17Z" fill="#EBC862" stroke="#000" stroke-width="0.85"/>
<path d="M715.06 849.02A353.4 353.4 0 0 1 713.91 849.55L711.67 844.63A348.0 348.0 0 0 0 712.81 844.11Z" fill="#8B5088" stroke="#000" stroke-width="0.85"/>
<path d="M713.91 849.55A353.4 353.4 0 0 1 713.79 849.60L711.56 844.68A348.0 348.0 0 0 0 711.67 844.63Z" fill="#6048EE" stroke="#000" stroke-width="0.85"/>
<path d="M713.79 849.60A353.4 353.4 0 0 1 708.24 852.07L706.09 847.11A348.0 348.0 0 0 0 711.56 844.68Z" fill="#107810" stroke="#000" stroke-width="0.85"/>
<path d="M708.24 852.07A353.4 353.4 0 0 1 704.05 853.86L701.96 848.87A348.0 348.0 0 0 0 706.09 847.11Z" fill="#D62A62" stroke="#000" stroke-width="0.85"/>
<path d="M704.05 853.86A353.4 353.4 0 0 1 703.86 853.93L701.77 848.95A348.0 348.0 0 0 0 701.96 848.87Z" fill="#EA70A0" stroke="#000" stroke-width="0.85"/>
<path d="M703.86 853.93A353.4 353.4 0 0 1 703.51 854.08L701.43 849.10A348.0 348.0 0 0 0 701.77 848.95Z" fill="#C8B462" stroke="#000" stroke-width="0.85"/>
<path d="M703.51 854.08A353.4 353.4 0 0 1 702.46 854.52L700.39 849.53A348.0 348.0 0 0 0 701.43 849.10Z" fill="#F4E04E" stroke="#000" stroke-width="0.85"/>
<path d="M688.66 859.88A353.4 353.4 0 0 1 684.49 861.37L682.70 856.28A348.0 348.0 0 0 0 686.81 854.81Z" fill="#3070D8" stroke="#000" stroke-width="0.85"/>
<path d="M684.49 861.37A353.4 353.4 0 0 1 684.22 861.47L682.44 856.37A348.0 348.0 0 0 0 682.70 856.28Z" fill="#00EDB2" stroke="#000" stroke-width="0.85"/>
<path d="M684.22 861.47A353.4 353.4 0 0 1 683.34 861.77L681.57 856.67A348.0 348.0 0 0 0 682.44 856.37Z" fill="#50AA91" stroke="#000" stroke-width="0.85"/>
<path d="M683.34 861.77A353.4 353.4 0 0 1 683.21 861.82L681.44 856.72A348.0 348.0 0 0 0 681.57 856.67Z" fill="#DEDEDE" stroke="#000" stroke-width="0.85"/>
<path d="M683.21 861.82A353.4 353.4 0 0 1 683.12 861.85L681.36 856.75A348.0 348.0 0 0 0 681.44 856.72Z" fill="#A84F36" stroke="#000" stroke-width="0.85"/>
<path d="M683.12 861.85A353.4 353.4 0 0 1 683.01 861.89L681.25 856.78A348.0 348.0 0 0 0 681.36 856.75Z" fill="#F2A0AA" stroke="#000" stroke-width="0.85"/>
<path d="M683.01 861.89A353.4 353.4 0 0 1 682.93 861.92L681.16 856.81A348.0 348.0 0 0 0 681.25 856.78Z" fill="#8FA3AE" stroke="#000" stroke-width="0.85"/>
<path d="M682.93 861.92A353.4 353.4 0 0 1 682.82 861.96L681.05 856.85A348.0 348.0 0 0 0 681.16 856.81Z" fill="#EBC862" stroke="#000" stroke-width="0.85"/>
<path d="M682.82 861.96A353.4 353.4 0 0 1 682.73 861.99L680.97 856.88A348.0 348.0 0 0 0 681.05 856.85Z" fill="#8B5088" stroke="#000" stroke-width="0.85"/>
<path d="M682.73 861.99A353.4 353.4 0 0 1 682.66 862.01L680.90 856.90A348.0 348.0 0 0 0 680.97 856.88Z" fill="#6048EE" stroke="#000" stroke-width="0.85"/>
<path d="M682.66 862.01A353.4 353.4 0 0 1 682.55 862.05L680.79 856.94A348.0 348.0 0 0 0 680.90 856.90Z" fill="#107810" stroke="#000" stroke-width="0.85"/>
<path d="M682.55 862.05A353.4 353.4 0 0 1 682.46 862.08L680.71 856.97A348.0 348.0 0 0 0 680.79 856.94Z" fill="#D62A62" stroke="#000" stroke-width="0.85"/>
<path d="M682.46 862.08A353.4 353.4 0 0 1 682.40 862.10L680.64 856.99A348.0 348.0 0 0 0 680.71 856.97Z" fill="#EA70A0" stroke="#000" stroke-width="0.85"/>
<path d="M682.40 862.10A353.4 353.4 0 0 1 682.33 862.12L680.58 857.02A348.0 348.0 0 0 0 680.64 856.99Z" fill="#C8B462" stroke="#000" stroke-width="0.85"/>
<path d="M682.33 862.12A353.4 353.4 0 0 1 682.26 862.15L680.51 857.04A348.0 348.0 0 0 0 680.58 857.02Z" fill="#F4E04E" stroke="#000" stroke-width="0.85"/>
<path d="M667.58 866.83A353.4 353.4 0 0 1 664.20 867.81L662.72 862.62A348.0 348.0 0 0 0 666.05 861.66Z" fill="#00EDB2" stroke="#000" stroke-width="0.85"/>
<path d="M664.20 867.81A353.4 353.4 0 0 1 662.03 868.42L660.58 863.22A348.0 348.0 0 0 0 662.72 862.62Z" fill="#50AA91" stroke="#000" stroke-width="0.85"/>
<path d="M662.03 868.42A353.4 353.4 0 0 1 661.93 868.45L660.49 863.25A348.0 348.0 0 0 0 660.58 863.22Z" fill="#DEDEDE" stroke="#000" stroke-width="0.85"/>
<path d="M661.93 868.45A353.4 353.4 0 0 1 661.86 868.47L660.42 863.27A348.0 348.0 0 0 0 660.49 863.25Z" fill="#A84F36" stroke="#000" stroke-width="0.85"/>
<path d="M661.86 868.47A353.4 353.4 0 0 1 661.76 868.50L660.32 863.29A348.0 348.0 0 0 0 660.42 863.27Z" fill="#F2A0AA" stroke="#000" stroke-width="0.85"/>
<path d="M661.76 868.50A353.4 353.4 0 0 1 661.69 868.52L660.25 863.31A348.0 348.0 0 0 0 660.32 863.29Z" fill="#8FA3AE" stroke="#000" stroke-width="0.85"/>
<path d="M661.69 868.52A353.4 353.4 0 0 1 661.59 868.54L660.16 863.34A348.0 348.0 0 0 0 660.25 863.31Z" fill="#EBC862" stroke="#000" stroke-width="0.85"/>
<path d="M661.59 868.54A353.4 353.4 0 0 1 661.52 868.56L660.08 863.36A348.0 348.0 0 0 0 660.16 863.34Z" fill="#8B5088" stroke="#000" stroke-width="0.85"/>
<path d="M661.52 868.56A353.4 353.4 0 0 1 661.45 868.58L660.01 863.38A348.0 348.0 0 0 0 660.08 863.36Z" fill="#6048EE" stroke="#000" stroke-width="0.85"/>
<path d="M661.45 868.58A353.4 353.4 0 0 1 661.35 868.61L659.92 863.40A348.0 348.0 0 0 0 660.01 863.38Z" fill="#107810" stroke="#000" stroke-width="0.85"/>
<path d="M661.35 868.61A353.4 353.4 0 0 1 661.28 868.63L659.85 863.42A348.0 348.0 0 0 0 659.92 863.40Z" fill="#D62A62" stroke="#000" stroke-width="0.85"/>
<path d="M661.28 868.63A353.4 353.4 0 0 1 661.21 868.65L659.77 863.44A348.0 348.0 0 0 0 659.85 863.42Z" fill="#EA70A0" stroke="#000" stroke-width="0.85"/>
<path d="M661.21 868.65A353.4 353.4 0 0 1 661.16 868.66L659.73 863.46A348.0 348.0 0 0 0 659.77 863.44Z" fill="#C8B462" stroke="#000" stroke-width="0.85"/>
<path d="M661.16 868.66A353.4 353.4 0 0 1 661.11 868.68L659.68 863.47A348.0 348.0 0 0 0 659.73 863.46Z" fill="#F4E04E" stroke="#000" stroke-width="0.85"/>
<path d="M567.83 152.40A375.5 375.5 0 0 1 940.35 483.37L923.47 485.39A358.5 358.5 0 0 0 567.81 169.40Z" fill="#E83030" stroke="#000" stroke-width="1.0"/>
<text x="567.83" y="148.20" font-size="9.5" text-anchor="start" fill="#222" transform="rotate(-89.95 567.83 148.20)" dy="3.32">0</text>
<text x="594.67" y="149.17" font-size="9.5" text-anchor="start" fill="#222" transform="rotate(-85.90 594.67 149.17)" dy="3.32">1000</text>
<text x="621.37" y="152.04" font-size="9.5" text-anchor="start" fill="#222" transform="rotate(-81.84 621.37 152.04)" dy="3.32">2000</text>
<text x="647.80" y="156.79" font-size="9.5" text-anchor="start" fill="#222" transform="rotate(-77.79 647.80 156.79)" dy="3.32">3000</text>
<text x="673.83" y="163.39" font-size="9.5" text-anchor="start" fill="#222" transform="rotate(-73.74 673.83 163.39)" dy="3.32">4000</text>
<text x="699.33" y="171.82" font-size="9.5" text-anchor="start" fill="#222" transform="rotate(-69.68 699.33 171.82)" dy="3.32">5000</text>
<text x="724.17" y="182.03" font-size="9.5" text-anchor="start" fill="#222" transform="rotate(-65.63 724.17 182.03)" dy="3.32">6000</text>
<text x="748.23" y="193.97" font-size="9.5" text-anchor="start" fill="#222" transform="rotate(-61.58 748.23 193.97)" dy="3.32">7000</text>
<text x="771.38" y="207.58" font-size="9.5" text-anchor="start" fill="#222" transform="rotate(-57.52 771.38 207.58)" dy="3.32">8000</text>
<text x="793.51" y="222.79" font-size="9.5" text-anchor="start" fill="#222" transform="rotate(-53.47 793.51 222.79)" dy="3.32">9000</text>
<text x="814.51" y="239.53" font-size="9.5" text-anchor="start" fill="#222" transform="rotate(-49.42 814.51 239.53)" dy="3.32">10000</text>
<text x="834.28" y="257.71" font-size="9.5" text-anchor="start" fill="#222" transform="rotate(-45.36 834.28 257.71)" dy="3.32">11000</text>
<text x="852.71" y="277.24" font-size="9.5" text-anchor="start" fill="#222" transform="rotate(-41.31 852.71 277.24)" dy="3.32">12000</text>
<text x="869.71" y="298.03" font-size="9.5" text-anchor="start" fill="#222" transform="rotate(-37.26 869.71 298.03)" dy="3.32">13000</text>
<text x="885.20" y="319.96" font-size="9.5" text-anchor="start" fill="#222" transform="rotate(-33.20 885.20 319.96)" dy="3.32">14000</text>
<text x="899.11" y="342.94" font-size="9.5" text-anchor="start" fill="#222" transform="rotate(-29.15 899.11 342.94)" dy="3.32">15000</text>
<text x="911.35" y="366.84" font-size="9.5" text-anchor="start" fill="#222" transform="rotate(-25.10 911.35 366.84)" dy="3.32">16000</text>
<text x="921.87" y="391.55" font-size="9.5" text-anchor="start" fill="#222" transform="rotate(-21.04 921.87 391.55)" dy="3.32">17000</text>
<text x="930.62" y="416.94" font-size="9.5" text-anchor="start" fill="#222" transform="rotate(-16.99 930.62 416.94)" dy="3.32">18000</text>
<text x="937.56" y="442.88" font-size="9.5" text-anchor="start" fill="#222" transform="rotate(-12.94 937.56 442.88)" dy="3.32">19000</text>
<text x="942.64" y="469.25" font-size="9.5" text-anchor="start" fill="#222" transform="rotate(-8.89 942.64 469.25)" dy="3.32">20000</text>
<path d="M567.88 89.40A438.5 438.5 0 0 1 722.07 117.55L719.50 124.38A431.2 431.2 0 0 0 567.88 96.70Z" fill="#3070D8" stroke="#000" stroke-width="0.85"/>
<path d="M567.87 99.80A428.1 428.1 0 0 1 718.41 127.28L715.87 134.02A420.9 420.9 0 0 0 567.87 107.00Z" fill="#3070D8" stroke="#000" stroke-width="0.85"/>
<path d="M722.07 117.55A438.5 438.5 0 0 1 821.98 170.80L817.75 176.75A431.2 431.2 0 0 0 719.50 124.38Z" fill="#A01996" stroke="#000" stroke-width="0.85"/>
<path d="M718.41 127.28A428.1 428.1 0 0 1 815.95 179.27L811.77 185.13A420.9 420.9 0 0 0 715.87 134.02Z" fill="#A01996" stroke="#000" stroke-width="0.85"/>
<path d="M821.98 170.80A438.5 438.5 0 0 1 871.37 211.76L866.31 217.02A431.2 431.2 0 0 0 817.75 176.75Z" fill="#DEDEDE" stroke="#000" stroke-width="0.85"/>
<path d="M815.95 179.27A428.1 428.1 0 0 1 864.16 219.25L859.17 224.44A420.9 420.9 0 0 0 811.77 185.13Z" fill="#DEDEDE" stroke="#000" stroke-width="0.85"/>
<path d="M871.37 211.76A438.5 438.5 0 0 1 906.51 249.77L900.87 254.40A431.2 431.2 0 0 0 866.31 217.02Z" fill="#A84F36" stroke="#000" stroke-width="0.85"/>
<path d="M864.16 219.25A428.1 428.1 0 0 1 898.47 256.37L892.90 260.94A420.9 420.9 0 0 0 859.17 224.44Z" fill="#A84F36" stroke="#000" stroke-width="0.85"/>
<path d="M906.51 249.77A438.5 438.5 0 0 1 932.35 284.66L926.28 288.71A431.2 431.2 0 0 0 900.87 254.40Z" fill="#50AA91" stroke="#000" stroke-width="0.85"/>
<path d="M898.47 256.37A428.1 428.1 0 0 1 923.70 290.43L917.71 294.42A420.9 420.9 0 0 0 892.90 260.94Z" fill="#50AA91" stroke="#000" stroke-width="0.85"/>
<path d="M932.35 284.66A438.5 438.5 0 0 1 950.76 314.84L944.38 318.39A431.2 431.2 0 0 0 926.28 288.71Z" fill="#8FA3AE" stroke="#000" stroke-width="0.85"/>
<path d="M923.70 290.43A428.1 428.1 0 0 1 941.67 319.89L935.38 323.39A420.9 420.9 0 0 0 917.71 294.42Z" fill="#8FA3AE" stroke="#000" stroke-width="0.85"/>
<path d="M950.76 314.84A438.5 438.5 0 0 1 964.76 342.24L958.14 345.33A431.2 431.2 0 0 0 944.38 318.39Z" fill="#6048EE" stroke="#000" stroke-width="0.85"/>
<path d="M941.67 319.89A428.1 428.1 0 0 1 955.33 346.64L948.81 349.69A420.9 420.9 0 0 0 935.38 323.39Z" fill="#6048EE" stroke="#000" stroke-width="0.85"/>
<path d="M964.76 342.24A438.5 438.5 0 0 1 974.62 365.01L967.84 367.72A431.2 431.2 0 0 0 958.14 345.33Z" fill="#F2A0AA" stroke="#000" stroke-width="0.85"/>
<path d="M955.33 346.64A428.1 428.1 0 0 1 964.97 368.87L958.28 371.54A420.9 420.9 0 0 0 948.81 349.69Z" fill="#F2A0AA" stroke="#000" stroke-width="0.85"/>
<path d="M974.62 365.01A438.5 438.5 0 0 1 981.37 383.01L974.48 385.43A431.2 431.2 0 0 0 967.84 367.72Z" fill="#D62A62" stroke="#000" stroke-width="0.85"/>
<path d="M964.97 368.87A428.1 428.1 0 0 1 971.56 386.45L964.76 388.83A420.9 420.9 0 0 0 958.28 371.54Z" fill="#D62A62" stroke="#000" stroke-width="0.85"/>
<path d="M981.37 383.01A438.5 438.5 0 0 1 987.15 400.71L980.16 402.82A431.2 431.2 0 0 0 974.48 385.43Z" fill="#00EDB2" stroke="#000" stroke-width="0.85"/>
<path d="M971.56 386.45A428.1 428.1 0 0 1 977.19 403.72L970.30 405.81A420.9 420.9 0 0 0 964.76 388.83Z" fill="#00EDB2" stroke="#000" stroke-width="0.85"/>
<path d="M987.15 400.71A438.5 438.5 0 0 1 992.09 418.33L985.02 420.15A431.2 431.2 0 0 0 980.16 402.82Z" fill="#8B5088" stroke="#000" stroke-width="0.85"/>
<path d="M977.19 403.72A428.1 428.1 0 0 1 982.02 420.92L975.05 422.72A420.9 420.9 0 0 0 970.30 405.81Z" fill="#8B5088" stroke="#000" stroke-width="0.85"/>
<path d="M992.09 418.33A438.5 438.5 0 0 1 995.63 433.11L988.50 434.68A431.2 431.2 0 0 0 985.02 420.15Z" fill="#EA70A0" stroke="#000" stroke-width="0.85"/>
<path d="M982.02 420.92A428.1 428.1 0 0 1 985.48 435.36L978.45 436.91A420.9 420.9 0 0 0 975.05 422.72Z" fill="#EA70A0" stroke="#000" stroke-width="0.85"/>
<path d="M995.63 433.11A438.5 438.5 0 0 1 998.37 446.48L991.20 447.83A431.2 431.2 0 0 0 988.50 434.68Z" fill="#C8B462" stroke="#000" stroke-width="0.85"/>
<path d="M985.48 435.36A428.1 428.1 0 0 1 988.16 448.41L981.08 449.74A420.9 420.9 0 0 0 978.45 436.91Z" fill="#C8B462" stroke="#000" stroke-width="0.85"/>
<path d="M998.37 446.48A438.5 438.5 0 0 1 1000.41 458.09L993.20 459.25A431.2 431.2 0 0 0 991.20 447.83Z" fill="#EBC862" stroke="#000" stroke-width="0.85"/>
<path d="M988.16 448.41A428.1 428.1 0 0 1 990.14 459.74L983.03 460.89A420.9 420.9 0 0 0 981.08 449.74Z" fill="#EBC862" stroke="#000" stroke-width="0.85"/>
<path d="M1000.41 458.09A438.5 438.5 0 0 1 1001.79 467.29L994.56 468.30A431.2 431.2 0 0 0 993.20 459.25Z" fill="#107810" stroke="#000" stroke-width="0.85"/>
<path d="M990.14 459.74A428.1 428.1 0 0 1 991.49 468.73L984.36 469.72A420.9 420.9 0 0 0 983.03 460.89Z" fill="#107810" stroke="#000" stroke-width="0.85"/>
<path d="M1001.79 467.29A438.5 438.5 0 0 1 1002.91 475.90L995.66 476.77A431.2 431.2 0 0 0 994.56 468.30Z" fill="#F4E04E" stroke="#000" stroke-width="0.85"/>
<path d="M991.49 468.73A428.1 428.1 0 0 1 992.58 477.14L985.43 477.99A420.9 420.9 0 0 0 984.36 469.72Z" fill="#F4E04E" stroke="#000" stroke-width="0.85"/>
<text x="567.89" y="84.40" font-size="9.5" text-anchor="start" fill="#222" transform="rotate(-89.95 567.89 84.40)" dy="3.32">0%</text>
<text x="632.01" y="89.12" font-size="9.5" text-anchor="start" fill="#222" transform="rotate(-81.64 632.01 89.12)" dy="3.32">10%</text>
<text x="694.78" y="103.06" font-size="9.5" text-anchor="start" fill="#222" transform="rotate(-73.32 694.78 103.06)" dy="3.32">20%</text>
<text x="754.88" y="125.93" font-size="9.5" text-anchor="start" fill="#222" transform="rotate(-65.01 754.88 125.93)" dy="3.32">30%</text>
<text x="811.03" y="157.24" font-size="9.5" text-anchor="start" fill="#222" transform="rotate(-56.69 811.03 157.24)" dy="3.32">40%</text>
<text x="862.07" y="196.35" font-size="9.5" text-anchor="start" fill="#222" transform="rotate(-48.38 862.07 196.35)" dy="3.32">50%</text>
<text x="906.91" y="242.43" font-size="9.5" text-anchor="start" fill="#222" transform="rotate(-40.07 906.91 242.43)" dy="3.32">60%</text>
<text x="944.62" y="294.51" font-size="9.5" text-anchor="start" fill="#222" transform="rotate(-31.75 944.62 294.51)" dy="3.32">70%</text>
<text x="974.41" y="351.50" font-size="9.5" text-anchor="start" fill="#222" transform="rotate(-23.44 974.41 351.50)" dy="3.32">80%</text>
<text x="995.64" y="412.19" font-size="9.5" text-anchor="start" fill="#222" transform="rotate(-15.12 995.64 412.19)" dy="3.32">90%</text>
<text x="1007.87" y="475.31" font-size="9.5" text-anchor="start" fill="#222" transform="rotate(-6.81 1007.87 475.31)" dy="3.32">100%</text>
<path d="M941.83 498.31A375.5 375.5 0 0 1 811.57 813.26L800.52 800.34A358.5 358.5 0 0 0 924.89 499.65Z" fill="#B5E62E" stroke="#000" stroke-width="1.0"/>
<text x="946.02" y="497.98" font-size="9.5" text-anchor="start" fill="#222" transform="rotate(-4.52 946.02 497.98)" dy="3.32">0</text>
<text x="947.19" y="524.80" font-size="9.5" text-anchor="start" fill="#222" transform="rotate(-0.47 947.19 524.80)" dy="3.32">1000</text>
<text x="946.46" y="551.64" font-size="9.5" text-anchor="start" fill="#222" transform="rotate(3.58 946.46 551.64)" dy="3.32">2000</text>
<text x="943.83" y="578.36" font-size="9.5" text-anchor="start" fill="#222" transform="rotate(7.64 943.83 578.36)" dy="3.32">3000</text>
<text x="939.33" y="604.83" font-size="9.5" text-anchor="start" fill="#222" transform="rotate(11.69 939.33 604.83)" dy="3.32">4000</text>
<text x="932.96" y="630.91" font-size="9.5" text-anchor="start" fill="#222" transform="rotate(15.74 932.96 630.91)" dy="3.32">5000</text>
<text x="924.77" y="656.48" font-size="9.5" text-anchor="start" fill="#222" transform="rotate(19.79 924.77 656.48)" dy="3.32">6000</text>
<text x="914.79" y="681.40" font-size="9.5" text-anchor="start" fill="#222" transform="rotate(23.85 914.79 681.40)" dy="3.32">7000</text>
<text x="903.07" y="705.56" font-size="9.5" text-anchor="start" fill="#222" transform="rotate(27.90 903.07 705.56)" dy="3.32">8000</text>
<text x="889.68" y="728.83" font-size="9.5" text-anchor="start" fill="#222" transform="rotate(31.95 889.68 728.83)" dy="3.32">9000</text>
<text x="874.67" y="751.10" font-size="9.5" text-anchor="start" fill="#222" transform="rotate(36.00 874.67 751.10)" dy="3.32">10000</text>
<text x="858.13" y="772.24" font-size="9.5" text-anchor="start" fill="#222" transform="rotate(40.05 858.13 772.24)" dy="3.32">11000</text>
<text x="840.14" y="792.17" font-size="9.5" text-anchor="start" fill="#222" transform="rotate(44.11 840.14 792.17)" dy="3.32">12000</text>
<text x="820.78" y="810.78" font-size="9.5" text-anchor="start" fill="#222" transform="rotate(48.16 820.78 810.78)" dy="3.32">13000</text>
<path d="M1004.64 493.34A438.5 438.5 0 0 1 979.25 678.72L972.39 676.21A431.2 431.2 0 0 0 997.36 493.92Z" fill="#3070D8" stroke="#000" stroke-width="0.85"/>
<path d="M994.27 494.16A428.1 428.1 0 0 1 969.48 675.14L962.72 672.67A420.9 420.9 0 0 0 987.09 494.73Z" fill="#3070D8" stroke="#000" stroke-width="0.85"/>
<path d="M979.25 678.72A438.5 438.5 0 0 1 960.00 723.42L953.46 720.16A431.2 431.2 0 0 0 972.39 676.21Z" fill="#00EDB2" stroke="#000" stroke-width="0.85"/>
<path d="M969.48 675.14A428.1 428.1 0 0 1 950.69 718.78L944.24 715.57A420.9 420.9 0 0 0 962.72 672.67Z" fill="#00EDB2" stroke="#000" stroke-width="0.85"/>
<path d="M960.00 723.42A438.5 438.5 0 0 1 942.33 755.46L936.09 751.67A431.2 431.2 0 0 0 953.46 720.16Z" fill="#F2A0AA" stroke="#000" stroke-width="0.85"/>
<path d="M950.69 718.78A428.1 428.1 0 0 1 933.44 750.06L927.29 746.32A420.9 420.9 0 0 0 944.24 715.57Z" fill="#F2A0AA" stroke="#000" stroke-width="0.85"/>
<path d="M942.33 755.46A438.5 438.5 0 0 1 925.85 780.62L919.89 776.41A431.2 431.2 0 0 0 936.09 751.67Z" fill="#50AA91" stroke="#000" stroke-width="0.85"/>
<path d="M933.44 750.06A428.1 428.1 0 0 1 917.35 774.62L911.47 770.47A420.9 420.9 0 0 0 927.29 746.32Z" fill="#50AA91" stroke="#000" stroke-width="0.85"/>
<path d="M925.85 780.62A438.5 438.5 0 0 1 911.18 800.23L905.46 795.70A431.2 431.2 0 0 0 919.89 776.41Z" fill="#EBC862" stroke="#000" stroke-width="0.85"/>
<path d="M917.35 774.62A428.1 428.1 0 0 1 903.03 793.77L897.39 789.30A420.9 420.9 0 0 0 911.47 770.47Z" fill="#EBC862" stroke="#000" stroke-width="0.85"/>
<path d="M911.18 800.23A438.5 438.5 0 0 1 899.93 813.86L894.39 809.10A431.2 431.2 0 0 0 905.46 795.70Z" fill="#DEDEDE" stroke="#000" stroke-width="0.85"/>
<path d="M903.03 793.77A428.1 428.1 0 0 1 892.04 807.08L886.58 802.39A420.9 420.9 0 0 0 897.39 789.30Z" fill="#DEDEDE" stroke="#000" stroke-width="0.85"/>
<path d="M899.93 813.86A438.5 438.5 0 0 1 890.03 824.98L884.66 820.04A431.2 431.2 0 0 0 894.39 809.10Z" fill="#A84F36" stroke="#000" stroke-width="0.85"/>
<path d="M892.04 807.08A428.1 428.1 0 0 1 882.38 817.94L877.08 813.06A420.9 420.9 0 0 0 886.58 802.39Z" fill="#A84F36" stroke="#000" stroke-width="0.85"/>
<path d="M890.03 824.98A438.5 438.5 0 0 1 879.98 835.54L874.78 830.41A431.2 431.2 0 0 0 884.66 820.04Z" fill="#107810" stroke="#000" stroke-width="0.85"/>
<path d="M882.38 817.94A428.1 428.1 0 0 1 872.57 828.24L867.44 823.19A420.9 420.9 0 0 0 877.08 813.06Z" fill="#107810" stroke="#000" stroke-width="0.85"/>
<path d="M879.98 835.54A438.5 438.5 0 0 1 871.60 843.82L866.54 838.56A431.2 431.2 0 0 0 874.78 830.41Z" fill="#8B5088" stroke="#000" stroke-width="0.85"/>
<path d="M872.57 828.24A428.1 428.1 0 0 1 864.39 836.33L859.39 831.14A420.9 420.9 0 0 0 867.44 823.19Z" fill="#8B5088" stroke="#000" stroke-width="0.85"/>
<path d="M871.60 843.82A438.5 438.5 0 0 1 866.31 848.83L861.33 843.49A431.2 431.2 0 0 0 866.54 838.56Z" fill="#A01996" stroke="#000" stroke-width="0.85"/>
<path d="M864.39 836.33A428.1 428.1 0 0 1 859.22 841.22L854.31 835.95A420.9 420.9 0 0 0 859.39 831.14Z" fill="#A01996" stroke="#000" stroke-width="0.85"/>
<path d="M866.31 848.83A438.5 438.5 0 0 1 861.05 853.65L856.16 848.23A431.2 431.2 0 0 0 861.33 843.49Z" fill="#8FA3AE" stroke="#000" stroke-width="0.85"/>
<path d="M859.22 841.22A428.1 428.1 0 0 1 854.08 845.92L849.26 840.58A420.9 420.9 0 0 0 854.31 835.95Z" fill="#8FA3AE" stroke="#000" stroke-width="0.85"/>
<path d="M861.05 853.65A438.5 438.5 0 0 1 858.73 855.72L853.89 850.26A431.2 431.2 0 0 0 856.16 848.23Z" fill="#F4E04E" stroke="#000" stroke-width="0.85"/>
<path d="M854.08 845.92A428.1 428.1 0 0 1 851.83 847.94L847.04 842.56A420.9 420.9 0 0 0 849.26 840.58Z" fill="#F4E04E" stroke="#000" stroke-width="0.85"/>
<path d="M858.73 855.72A438.5 438.5 0 0 1 856.41 857.77L851.60 852.28A431.2 431.2 0 0 0 853.89 850.26Z" fill="#EA70A0" stroke="#000" stroke-width="0.85"/>
<path d="M851.83 847.94A428.1 428.1 0 0 1 849.56 849.95L844.81 844.53A420.9 420.9 0 0 0 847.04 842.56Z" fill="#EA70A0" stroke="#000" stroke-width="0.85"/>
<path d="M856.41 857.77A438.5 438.5 0 0 1 854.07 859.81L849.30 854.28A431.2 431.2 0 0 0 851.60 852.28Z" fill="#D62A62" stroke="#000" stroke-width="0.85"/>
<path d="M849.56 849.95A428.1 428.1 0 0 1 847.27 851.93L842.57 846.48A420.9 420.9 0 0 0 844.81 844.53Z" fill="#D62A62" stroke="#000" stroke-width="0.85"/>
<path d="M854.07 859.81A438.5 438.5 0 0 1 852.66 861.02L847.91 855.47A431.2 431.2 0 0 0 849.30 854.28Z" fill="#C8B462" stroke="#000" stroke-width="0.45"/>
<path d="M847.27 851.93A428.1 428.1 0 0 1 845.89 853.12L841.21 847.65A420.9 420.9 0 0 0 842.57 846.48Z" fill="#C8B462" stroke="#000" stroke-width="0.45"/>
<path d="M852.66 861.02A438.5 438.5 0 0 1 852.52 861.14L847.77 855.59A431.2 431.2 0 0 0 847.91 855.47Z" fill="#6048EE" stroke="#000" stroke-width="0.2"/>
<path d="M845.89 853.12A428.1 428.1 0 0 1 845.76 853.24L841.08 847.76A420.9 420.9 0 0 0 841.21 847.65Z" fill="#6048EE" stroke="#000" stroke-width="0.2"/>
<text x="1009.62" y="492.95" font-size="9.5" text-anchor="start" fill="#222" transform="rotate(-4.52 1009.62 492.95)" dy="3.32">0%</text>
<text x="1010.95" y="534.70" font-size="9.5" text-anchor="start" fill="#222" transform="rotate(0.88 1010.95 534.70)" dy="3.32">10%</text>
<text x="1008.34" y="576.38" font-size="9.5" text-anchor="start" fill="#222" transform="rotate(6.28 1008.34 576.38)" dy="3.32">20%</text>
<text x="1001.83" y="617.64" font-size="9.5" text-anchor="start" fill="#222" transform="rotate(11.67 1001.83 617.64)" dy="3.32">30%</text>
<text x="991.46" y="658.10" font-size="9.5" text-anchor="start" fill="#222" transform="rotate(17.07 991.46 658.10)" dy="3.32">40%</text>
<text x="977.33" y="697.41" font-size="9.5" text-anchor="start" fill="#222" transform="rotate(22.47 977.33 697.41)" dy="3.32">50%</text>
<text x="959.57" y="735.21" font-size="9.5" text-anchor="start" fill="#222" transform="rotate(27.87 959.57 735.21)" dy="3.32">60%</text>
<text x="938.32" y="771.17" font-size="9.5" text-anchor="start" fill="#222" transform="rotate(33.27 938.32 771.17)" dy="3.32">70%</text>
<text x="913.80" y="804.98" font-size="9.5" text-anchor="start" fill="#222" transform="rotate(38.66 913.80 804.98)" dy="3.32">80%</text>
<text x="886.19" y="836.33" font-size="9.5" text-anchor="start" fill="#222" transform="rotate(44.06 886.19 836.33)" dy="3.32">90%</text>
<text x="855.77" y="864.94" font-size="9.5" text-anchor="start" fill="#222" transform="rotate(49.46 855.77 864.94)" dy="3.32">100%</text>
<path d="M799.40 823.23A375.5 375.5 0 0 1 710.89 874.94L704.40 859.23A358.5 358.5 0 0 0 788.90 809.86Z" fill="#30E68C" stroke="#000" stroke-width="1.0"/>
<text x="802.00" y="826.54" font-size="9.5" text-anchor="start" fill="#222" transform="rotate(51.86 802.00 826.54)" dy="3.32">0</text>
<text x="780.01" y="842.56" font-size="9.5" text-anchor="start" fill="#222" transform="rotate(55.97 780.01 842.56)" dy="3.32">1000</text>
<text x="756.93" y="856.97" font-size="9.5" text-anchor="start" fill="#222" transform="rotate(60.07 756.93 856.97)" dy="3.32">2000</text>
<text x="732.88" y="869.69" font-size="9.5" text-anchor="start" fill="#222" transform="rotate(64.18 732.88 869.69)" dy="3.32">3000</text>
<path d="M838.31 872.78A438.5 438.5 0 0 1 805.05 896.48L801.10 890.34A431.2 431.2 0 0 0 833.80 867.04Z" fill="#00EDB2" stroke="#000" stroke-width="0.85"/>
<path d="M831.89 864.60A428.1 428.1 0 0 1 799.42 887.74L795.52 881.69A420.9 420.9 0 0 0 827.44 858.94Z" fill="#00EDB2" stroke="#000" stroke-width="0.85"/>
<path d="M805.05 896.48A438.5 438.5 0 0 1 778.05 912.54L774.54 906.14A431.2 431.2 0 0 0 801.10 890.34Z" fill="#3070D8" stroke="#000" stroke-width="0.85"/>
<path d="M799.42 887.74A428.1 428.1 0 0 1 773.05 903.42L769.60 897.11A420.9 420.9 0 0 0 795.52 881.69Z" fill="#3070D8" stroke="#000" stroke-width="0.85"/>
<path d="M778.05 912.54A438.5 438.5 0 0 1 760.19 921.79L756.98 915.24A431.2 431.2 0 0 0 774.54 906.14Z" fill="#50AA91" stroke="#000" stroke-width="0.85"/>
<path d="M773.05 903.42A428.1 428.1 0 0 1 755.62 912.45L752.46 905.98A420.9 420.9 0 0 0 769.60 897.11Z" fill="#50AA91" stroke="#000" stroke-width="0.85"/>
<path d="M760.19 921.79A438.5 438.5 0 0 1 753.39 925.05L750.29 918.44A431.2 431.2 0 0 0 756.98 915.24Z" fill="#107810" stroke="#000" stroke-width="0.85"/>
<path d="M755.62 912.45A428.1 428.1 0 0 1 748.98 915.63L745.93 909.11A420.9 420.9 0 0 0 752.46 905.98Z" fill="#107810" stroke="#000" stroke-width="0.85"/>
<path d="M753.39 925.05A438.5 438.5 0 0 1 748.25 927.41L745.24 920.76A431.2 431.2 0 0 0 750.29 918.44Z" fill="#D62A62" stroke="#000" stroke-width="0.85"/>
<path d="M748.98 915.63A428.1 428.1 0 0 1 743.96 917.94L740.99 911.38A420.9 420.9 0 0 0 745.93 909.11Z" fill="#D62A62" stroke="#000" stroke-width="0.85"/>
<path d="M748.25 927.41A438.5 438.5 0 0 1 744.81 928.95L741.85 922.28A431.2 431.2 0 0 0 745.24 920.76Z" fill="#DEDEDE" stroke="#000" stroke-width="0.85"/>
<path d="M743.96 917.94A428.1 428.1 0 0 1 740.60 919.44L737.69 912.86A420.9 420.9 0 0 0 740.99 911.38Z" fill="#DEDEDE" stroke="#000" stroke-width="0.85"/>
<path d="M744.81 928.95A438.5 438.5 0 0 1 742.22 930.09L739.31 923.39A431.2 431.2 0 0 0 741.85 922.28Z" fill="#EBC862" stroke="#000" stroke-width="0.85"/>
<path d="M740.60 919.44A428.1 428.1 0 0 1 738.07 920.55L735.20 913.95A420.9 420.9 0 0 0 737.69 912.86Z" fill="#EBC862" stroke="#000" stroke-width="0.85"/>
<path d="M742.22 930.09A438.5 438.5 0 0 1 740.05 931.02L737.18 924.31A431.2 431.2 0 0 0 739.31 923.39Z" fill="#8FA3AE" stroke="#000" stroke-width="0.85"/>
<path d="M738.07 920.55A428.1 428.1 0 0 1 735.96 921.46L733.13 914.84A420.9 420.9 0 0 0 735.20 913.95Z" fill="#8FA3AE" stroke="#000" stroke-width="0.85"/>
<path d="M740.05 931.02A438.5 438.5 0 0 1 738.61 931.64L735.76 924.92A431.2 431.2 0 0 0 737.18 924.31Z" fill="#8B5088" stroke="#000" stroke-width="0.45"/>
<path d="M735.96 921.46A428.1 428.1 0 0 1 734.55 922.06L731.74 915.43A420.9 420.9 0 0 0 733.13 914.84Z" fill="#8B5088" stroke="#000" stroke-width="0.45"/>
<path d="M738.61 931.64A438.5 438.5 0 0 1 737.30 932.19L734.48 925.46A431.2 431.2 0 0 0 735.76 924.92Z" fill="#F4E04E" stroke="#000" stroke-width="0.45"/>
<path d="M734.55 922.06A428.1 428.1 0 0 1 733.28 922.60L730.49 915.96A420.9 420.9 0 0 0 731.74 915.43Z" fill="#F4E04E" stroke="#000" stroke-width="0.45"/>
<path d="M737.30 932.19A438.5 438.5 0 0 1 736.00 932.73L733.19 925.99A431.2 431.2 0 0 0 734.48 925.46Z" fill="#F2A0AA" stroke="#000" stroke-width="0.45"/>
<path d="M733.28 922.60A428.1 428.1 0 0 1 732.00 923.13L729.24 916.49A420.9 420.9 0 0 0 730.49 915.96Z" fill="#F2A0AA" stroke="#000" stroke-width="0.45"/>
<path d="M736.00 932.73A438.5 438.5 0 0 1 735.56 932.91L732.76 926.17A431.2 431.2 0 0 0 733.19 925.99Z" fill="#C8B462" stroke="#000" stroke-width="0.2"/>
<path d="M732.00 923.13A428.1 428.1 0 0 1 731.58 923.31L728.82 916.66A420.9 420.9 0 0 0 729.24 916.49Z" fill="#C8B462" stroke="#000" stroke-width="0.2"/>
<path d="M735.56 932.91A438.5 438.5 0 0 1 735.33 933.01L732.54 926.27A431.2 431.2 0 0 0 732.76 926.17Z" fill="#EA70A0" stroke="#000" stroke-width="0.2"/>
<path d="M731.58 923.31A428.1 428.1 0 0 1 731.35 923.40L728.59 916.75A420.9 420.9 0 0 0 728.82 916.66Z" fill="#EA70A0" stroke="#000" stroke-width="0.2"/>
<path d="M735.33 933.01A438.5 438.5 0 0 1 735.10 933.11L732.31 926.36A431.2 431.2 0 0 0 732.54 926.27Z" fill="#A84F36" stroke="#000" stroke-width="0.2"/>
<path d="M731.35 923.40A428.1 428.1 0 0 1 731.12 923.50L728.37 916.84A420.9 420.9 0 0 0 728.59 916.75Z" fill="#A84F36" stroke="#000" stroke-width="0.2"/>
<path d="M735.10 933.11A438.5 438.5 0 0 1 734.95 933.17L732.17 926.42A431.2 431.2 0 0 0 732.31 926.36Z" fill="#6048EE" stroke="#000" stroke-width="0.2"/>
<path d="M731.12 923.50A428.1 428.1 0 0 1 730.98 923.56L728.23 916.90A420.9 420.9 0 0 0 728.37 916.84Z" fill="#6048EE" stroke="#000" stroke-width="0.2"/>
<text x="841.40" y="876.71" font-size="9.5" text-anchor="start" fill="#222" transform="rotate(51.86 841.40 876.71)" dy="3.32">0%</text>
<text x="831.75" y="884.08" font-size="9.5" text-anchor="start" fill="#222" transform="rotate(53.43 831.75 884.08)" dy="3.32">10%</text>
<text x="821.89" y="891.19" font-size="9.5" text-anchor="start" fill="#222" transform="rotate(55.00 821.89 891.19)" dy="3.32">20%</text>
<text x="811.85" y="898.01" font-size="9.5" text-anchor="start" fill="#222" transform="rotate(56.57 811.85 898.01)" dy="3.32">30%</text>
<text x="801.63" y="904.57" font-size="9.5" text-anchor="start" fill="#222" transform="rotate(58.14 801.63 904.57)" dy="3.32">40%</text>
<text x="791.22" y="910.84" font-size="9.5" text-anchor="start" fill="#222" transform="rotate(59.71 791.22 910.84)" dy="3.32">50%</text>
<text x="780.66" y="916.82" font-size="9.5" text-anchor="start" fill="#222" transform="rotate(61.27 780.66 916.82)" dy="3.32">60%</text>
<text x="769.93" y="922.51" font-size="9.5" text-anchor="start" fill="#222" transform="rotate(62.84 769.93 922.51)" dy="3.32">70%</text>
<text x="759.05" y="927.90" font-size="9.5" text-anchor="start" fill="#222" transform="rotate(64.41 759.05 927.90)" dy="3.32">80%</text>
<text x="748.02" y="933.00" font-size="9.5" text-anchor="start" fill="#222" transform="rotate(65.98 748.02 933.00)" dy="3.32">90%</text>
<text x="736.86" y="937.79" font-size="9.5" text-anchor="start" fill="#222" transform="rotate(67.55 736.86 937.79)" dy="3.32">100%</text>
<path d="M696.24 880.64A375.5 375.5 0 0 1 689.44 883.05L683.92 866.97A358.5 358.5 0 0 0 690.41 864.67Z" fill="#3070D8" stroke="#000" stroke-width="1.0"/>
<text x="697.68" y="884.59" font-size="9.5" text-anchor="start" fill="#222" transform="rotate(69.95 697.68 884.59)" dy="3.32">0</text>
<path d="M717.84 939.82A438.5 438.5 0 0 1 712.66 941.68L710.24 934.79A431.2 431.2 0 0 0 715.33 932.97Z" fill="#3070D8" stroke="#000" stroke-width="0.85"/>
<path d="M714.27 930.05A428.1 428.1 0 0 1 709.22 931.86L706.83 925.07A420.9 420.9 0 0 0 711.80 923.29Z" fill="#3070D8" stroke="#000" stroke-width="0.85"/>
<path d="M712.66 941.68A438.5 438.5 0 0 1 711.57 942.06L709.17 935.16A431.2 431.2 0 0 0 710.24 934.79Z" fill="#50AA91" stroke="#000" stroke-width="0.45"/>
<path d="M709.22 931.86A428.1 428.1 0 0 1 708.15 932.24L705.79 925.43A420.9 420.9 0 0 0 706.83 925.07Z" fill="#50AA91" stroke="#000" stroke-width="0.45"/>
<path d="M711.57 942.06A438.5 438.5 0 0 1 711.24 942.17L708.85 935.28A431.2 431.2 0 0 0 709.17 935.16Z" fill="#00EDB2" stroke="#000" stroke-width="0.2"/>
<path d="M708.15 932.24A428.1 428.1 0 0 1 707.83 932.35L705.47 925.54A420.9 420.9 0 0 0 705.79 925.43Z" fill="#00EDB2" stroke="#000" stroke-width="0.2"/>
<path d="M711.24 942.17A438.5 438.5 0 0 1 711.08 942.23L708.69 935.33A431.2 431.2 0 0 0 708.85 935.28Z" fill="#DEDEDE" stroke="#000" stroke-width="0.2"/>
<path d="M707.83 932.35A428.1 428.1 0 0 1 707.67 932.40L705.31 925.60A420.9 420.9 0 0 0 705.47 925.54Z" fill="#DEDEDE" stroke="#000" stroke-width="0.2"/>
<path d="M711.08 942.23A438.5 438.5 0 0 1 710.94 942.28L708.55 935.38A431.2 431.2 0 0 0 708.69 935.33Z" fill="#107810" stroke="#000" stroke-width="0.2"/>
<path d="M707.67 932.40A428.1 428.1 0 0 1 707.54 932.45L705.18 925.64A420.9 420.9 0 0 0 705.31 925.60Z" fill="#107810" stroke="#000" stroke-width="0.2"/>
<path d="M710.94 942.28A438.5 438.5 0 0 1 710.80 942.32L708.42 935.42A431.2 431.2 0 0 0 708.55 935.38Z" fill="#EBC862" stroke="#000" stroke-width="0.2"/>
<path d="M707.54 932.45A428.1 428.1 0 0 1 707.40 932.49L705.05 925.69A420.9 420.9 0 0 0 705.18 925.64Z" fill="#EBC862" stroke="#000" stroke-width="0.2"/>
<path d="M710.80 942.32A438.5 438.5 0 0 1 710.67 942.37L708.28 935.47A431.2 431.2 0 0 0 708.42 935.42Z" fill="#F2A0AA" stroke="#000" stroke-width="0.2"/>
<path d="M707.40 932.49A428.1 428.1 0 0 1 707.27 932.54L704.92 925.74A420.9 420.9 0 0 0 705.05 925.69Z" fill="#F2A0AA" stroke="#000" stroke-width="0.2"/>
<path d="M710.67 942.37A438.5 438.5 0 0 1 710.56 942.41L708.17 935.51A431.2 431.2 0 0 0 708.28 935.47Z" fill="#D62A62" stroke="#000" stroke-width="0.2"/>
<path d="M707.27 932.54A428.1 428.1 0 0 1 707.16 932.58L704.81 925.77A420.9 420.9 0 0 0 704.92 925.74Z" fill="#D62A62" stroke="#000" stroke-width="0.2"/>
<path d="M710.56 942.41A438.5 438.5 0 0 1 710.45 942.45L708.07 935.54A431.2 431.2 0 0 0 708.17 935.51Z" fill="#8B5088" stroke="#000" stroke-width="0.2"/>
<path d="M707.16 932.58A428.1 428.1 0 0 1 707.06 932.61L704.71 925.81A420.9 420.9 0 0 0 704.81 925.77Z" fill="#8B5088" stroke="#000" stroke-width="0.2"/>
<path d="M710.45 942.45A438.5 438.5 0 0 1 710.34 942.48L707.96 935.58A431.2 431.2 0 0 0 708.07 935.54Z" fill="#8FA3AE" stroke="#000" stroke-width="0.2"/>
<path d="M707.06 932.61A428.1 428.1 0 0 1 706.95 932.65L704.60 925.84A420.9 420.9 0 0 0 704.71 925.81Z" fill="#8FA3AE" stroke="#000" stroke-width="0.2"/>
<path d="M710.34 942.48A438.5 438.5 0 0 1 710.23 942.52L707.85 935.62A431.2 431.2 0 0 0 707.96 935.58Z" fill="#A84F36" stroke="#000" stroke-width="0.2"/>
<path d="M706.95 932.65A428.1 428.1 0 0 1 706.84 932.69L704.50 925.88A420.9 420.9 0 0 0 704.60 925.84Z" fill="#A84F36" stroke="#000" stroke-width="0.2"/>
<path d="M710.23 942.52A438.5 438.5 0 0 1 710.15 942.55L707.77 935.65A431.2 431.2 0 0 0 707.85 935.62Z" fill="#F4E04E" stroke="#000" stroke-width="0.2"/>
<path d="M706.84 932.69A428.1 428.1 0 0 1 706.76 932.72L704.42 925.91A420.9 420.9 0 0 0 704.50 925.88Z" fill="#F4E04E" stroke="#000" stroke-width="0.2"/>
<path d="M710.15 942.55A438.5 438.5 0 0 1 710.06 942.58L707.69 935.67A431.2 431.2 0 0 0 707.77 935.65Z" fill="#C8B462" stroke="#000" stroke-width="0.2"/>
<path d="M706.76 932.72A428.1 428.1 0 0 1 706.68 932.74L704.34 925.93A420.9 420.9 0 0 0 704.42 925.91Z" fill="#C8B462" stroke="#000" stroke-width="0.2"/>
<path d="M710.06 942.58A438.5 438.5 0 0 1 709.98 942.61L707.61 935.70A431.2 431.2 0 0 0 707.69 935.67Z" fill="#EA70A0" stroke="#000" stroke-width="0.2"/>
<path d="M706.68 932.74A428.1 428.1 0 0 1 706.60 932.77L704.26 925.96A420.9 420.9 0 0 0 704.34 925.93Z" fill="#EA70A0" stroke="#000" stroke-width="0.2"/>
<path d="M709.98 942.61A438.5 438.5 0 0 1 709.90 942.63L707.53 935.73A431.2 431.2 0 0 0 707.61 935.70Z" fill="#6048EE" stroke="#000" stroke-width="0.2"/>
<path d="M706.60 932.77A428.1 428.1 0 0 1 706.52 932.80L704.18 925.99A420.9 420.9 0 0 0 704.26 925.96Z" fill="#6048EE" stroke="#000" stroke-width="0.2"/>
<path d="M673.83 888.03A375.5 375.5 0 0 1 666.96 889.99L662.46 873.59A358.5 358.5 0 0 0 669.02 871.73Z" fill="#E030E0" stroke="#000" stroke-width="1.0"/>
<text x="675.02" y="892.06" font-size="9.5" text-anchor="start" fill="#222" transform="rotate(73.55 675.02 892.06)" dy="3.32">0</text>
<path d="M691.67 948.45A438.5 438.5 0 0 1 687.49 949.66L685.49 942.64A431.2 431.2 0 0 0 689.61 941.45Z" fill="#00EDB2" stroke="#000" stroke-width="0.85"/>
<path d="M688.73 938.48A428.1 428.1 0 0 1 684.64 939.66L682.67 932.74A420.9 420.9 0 0 0 686.69 931.57Z" fill="#00EDB2" stroke="#000" stroke-width="0.85"/>
<path d="M687.49 949.66A438.5 438.5 0 0 1 684.79 950.42L682.84 943.39A431.2 431.2 0 0 0 685.49 942.64Z" fill="#50AA91" stroke="#000" stroke-width="0.85"/>
<path d="M684.64 939.66A428.1 428.1 0 0 1 682.01 940.40L680.08 933.46A420.9 420.9 0 0 0 682.67 932.74Z" fill="#50AA91" stroke="#000" stroke-width="0.85"/>
<path d="M684.79 950.42A438.5 438.5 0 0 1 684.67 950.46L682.72 943.42A431.2 431.2 0 0 0 682.84 943.39Z" fill="#107810" stroke="#000" stroke-width="0.2"/>
<path d="M682.01 940.40A428.1 428.1 0 0 1 681.89 940.43L679.97 933.50A420.9 420.9 0 0 0 680.08 933.46Z" fill="#107810" stroke="#000" stroke-width="0.2"/>
<path d="M684.67 950.46A438.5 438.5 0 0 1 684.55 950.49L682.60 943.45A431.2 431.2 0 0 0 682.72 943.42Z" fill="#EBC862" stroke="#000" stroke-width="0.2"/>
<path d="M681.89 940.43A428.1 428.1 0 0 1 681.78 940.47L679.85 933.53A420.9 420.9 0 0 0 679.97 933.50Z" fill="#EBC862" stroke="#000" stroke-width="0.2"/>
<path d="M684.55 950.49A438.5 438.5 0 0 1 684.43 950.52L682.48 943.49A431.2 431.2 0 0 0 682.60 943.45Z" fill="#F2A0AA" stroke="#000" stroke-width="0.2"/>
<path d="M681.78 940.47A428.1 428.1 0 0 1 681.66 940.50L679.74 933.56A420.9 420.9 0 0 0 679.85 933.53Z" fill="#F2A0AA" stroke="#000" stroke-width="0.2"/>
<path d="M684.43 950.52A438.5 438.5 0 0 1 684.31 950.56L682.37 943.52A431.2 431.2 0 0 0 682.48 943.49Z" fill="#DEDEDE" stroke="#000" stroke-width="0.2"/>
<path d="M681.66 940.50A428.1 428.1 0 0 1 681.54 940.53L679.62 933.59A420.9 420.9 0 0 0 679.74 933.56Z" fill="#DEDEDE" stroke="#000" stroke-width="0.2"/>
<path d="M684.31 950.56A438.5 438.5 0 0 1 684.22 950.58L682.28 943.54A431.2 431.2 0 0 0 682.37 943.52Z" fill="#EA70A0" stroke="#000" stroke-width="0.2"/>
<path d="M681.54 940.53A428.1 428.1 0 0 1 681.45 940.56L679.54 933.61A420.9 420.9 0 0 0 679.62 933.59Z" fill="#EA70A0" stroke="#000" stroke-width="0.2"/>
<path d="M684.22 950.58A438.5 438.5 0 0 1 684.13 950.60L682.19 943.57A431.2 431.2 0 0 0 682.28 943.54Z" fill="#D62A62" stroke="#000" stroke-width="0.2"/>
<path d="M681.45 940.56A428.1 428.1 0 0 1 681.37 940.58L679.45 933.64A420.9 420.9 0 0 0 679.54 933.61Z" fill="#D62A62" stroke="#000" stroke-width="0.2"/>
<path d="M684.13 950.60A438.5 438.5 0 0 1 684.04 950.63L682.10 943.59A431.2 431.2 0 0 0 682.19 943.57Z" fill="#6048EE" stroke="#000" stroke-width="0.2"/>
<path d="M681.37 940.58A428.1 428.1 0 0 1 681.28 940.60L679.36 933.66A420.9 420.9 0 0 0 679.45 933.64Z" fill="#6048EE" stroke="#000" stroke-width="0.2"/>
<path d="M684.04 950.63A438.5 438.5 0 0 1 683.95 950.65L682.01 943.62A431.2 431.2 0 0 0 682.10 943.59Z" fill="#8B5088" stroke="#000" stroke-width="0.2"/>
<path d="M681.28 940.60A428.1 428.1 0 0 1 681.19 940.63L679.28 933.69A420.9 420.9 0 0 0 679.36 933.66Z" fill="#8B5088" stroke="#000" stroke-width="0.2"/>
<path d="M683.95 950.65A438.5 438.5 0 0 1 683.86 950.68L681.92 943.64A431.2 431.2 0 0 0 682.01 943.62Z" fill="#8FA3AE" stroke="#000" stroke-width="0.2"/>
<path d="M681.19 940.63A428.1 428.1 0 0 1 681.10 940.65L679.19 933.71A420.9 420.9 0 0 0 679.28 933.69Z" fill="#8FA3AE" stroke="#000" stroke-width="0.2"/>
<path d="M683.86 950.68A438.5 438.5 0 0 1 683.77 950.70L681.84 943.67A431.2 431.2 0 0 0 681.92 943.64Z" fill="#A84F36" stroke="#000" stroke-width="0.2"/>
<path d="M681.10 940.65A428.1 428.1 0 0 1 681.01 940.68L679.10 933.73A420.9 420.9 0 0 0 679.19 933.71Z" fill="#A84F36" stroke="#000" stroke-width="0.2"/>
<path d="M683.77 950.70A438.5 438.5 0 0 1 683.71 950.72L681.78 943.68A431.2 431.2 0 0 0 681.84 943.67Z" fill="#F4E04E" stroke="#000" stroke-width="0.2"/>
<path d="M681.01 940.68A428.1 428.1 0 0 1 680.96 940.69L679.05 933.75A420.9 420.9 0 0 0 679.10 933.73Z" fill="#F4E04E" stroke="#000" stroke-width="0.2"/>
<path d="M683.71 950.72A438.5 438.5 0 0 1 683.65 950.74L681.72 943.70A431.2 431.2 0 0 0 681.78 943.68Z" fill="#C8B462" stroke="#000" stroke-width="0.2"/>
<path d="M680.96 940.69A428.1 428.1 0 0 1 680.90 940.71L678.99 933.77A420.9 420.9 0 0 0 679.05 933.75Z" fill="#C8B462" stroke="#000" stroke-width="0.2"/>
<path d="M651.07 893.98A375.5 375.5 0 0 1 639.53 896.43L636.27 879.74A358.5 358.5 0 0 0 647.29 877.41Z" fill="#F4E04E" stroke="#000" stroke-width="1.0"/>
<text x="652.01" y="898.08" font-size="9.5" text-anchor="start" fill="#222" transform="rotate(77.14 652.01 898.08)" dy="3.32">0</text>
<path d="M665.10 955.40A438.5 438.5 0 0 1 656.33 957.31L654.85 950.16A431.2 431.2 0 0 0 663.47 948.28Z" fill="#E83030" stroke="#000" stroke-width="0.85"/>
<path d="M660.38 934.73A417.3 417.3 0 0 1 652.04 936.55L650.52 929.20A409.8 409.8 0 0 0 658.71 927.42Z" fill="#E83030" stroke="#000" stroke-width="0.85"/>
<path d="M656.33 957.31A438.5 438.5 0 0 1 653.19 957.95L651.77 950.79A431.2 431.2 0 0 0 654.85 950.16Z" fill="#B5E62E" stroke="#000" stroke-width="0.85"/>
<path d="M652.04 936.55A417.3 417.3 0 0 1 649.05 937.15L647.58 929.80A409.8 409.8 0 0 0 650.52 929.20Z" fill="#B5E62E" stroke="#000" stroke-width="0.85"/>
<path d="M653.19 957.95A438.5 438.5 0 0 1 651.78 958.22L650.37 951.06A431.2 431.2 0 0 0 651.77 950.79Z" fill="#30E68C" stroke="#000" stroke-width="0.45"/>
<path d="M649.05 937.15A417.3 417.3 0 0 1 647.70 937.42L646.26 930.06A409.8 409.8 0 0 0 647.58 929.80Z" fill="#30E68C" stroke="#000" stroke-width="0.45"/>
<path d="M651.78 958.22A438.5 438.5 0 0 1 651.68 958.24L650.28 951.08A431.2 431.2 0 0 0 650.37 951.06Z" fill="#3070D8" stroke="#000" stroke-width="0.2"/>
<path d="M647.70 937.42A417.3 417.3 0 0 1 647.61 937.44L646.17 930.08A409.8 409.8 0 0 0 646.26 930.06Z" fill="#3070D8" stroke="#000" stroke-width="0.2"/>
<path d="M651.68 958.24A438.5 438.5 0 0 1 651.62 958.26L650.22 951.09A431.2 431.2 0 0 0 650.28 951.08Z" fill="#E030E0" stroke="#000" stroke-width="0.2"/>
<path d="M647.61 937.44A417.3 417.3 0 0 1 647.55 937.45L646.11 930.09A409.8 409.8 0 0 0 646.17 930.08Z" fill="#E030E0" stroke="#000" stroke-width="0.2"/>
<path d="M625.33 898.92A375.5 375.5 0 0 1 611.70 900.79L609.70 883.91A358.5 358.5 0 0 0 622.72 882.12Z" fill="#C8B462" stroke="#000" stroke-width="1.0"/>
<text x="625.98" y="903.07" font-size="9.5" text-anchor="start" fill="#222" transform="rotate(81.14 625.98 903.07)" dy="3.32">0</text>
<path d="M635.04 961.17A438.5 438.5 0 0 1 621.57 963.05L620.67 955.81A431.2 431.2 0 0 0 633.91 953.95Z" fill="#E83030" stroke="#000" stroke-width="0.85"/>
<path d="M631.77 940.22A417.3 417.3 0 0 1 618.96 942.02L618.03 934.57A409.8 409.8 0 0 0 630.62 932.81Z" fill="#E83030" stroke="#000" stroke-width="0.85"/>
<path d="M621.57 963.05A438.5 438.5 0 0 1 619.73 963.28L618.86 956.03A431.2 431.2 0 0 0 620.67 955.81Z" fill="#B5E62E" stroke="#000" stroke-width="0.45"/>
<path d="M618.96 942.02A417.3 417.3 0 0 1 617.20 942.23L616.31 934.78A409.8 409.8 0 0 0 618.03 934.57Z" fill="#B5E62E" stroke="#000" stroke-width="0.45"/>
<path d="M619.73 963.28A438.5 438.5 0 0 1 619.27 963.33L618.41 956.08A431.2 431.2 0 0 0 618.86 956.03Z" fill="#30E68C" stroke="#000" stroke-width="0.2"/>
<path d="M617.20 942.23A417.3 417.3 0 0 1 616.77 942.28L615.88 934.83A409.8 409.8 0 0 0 616.31 934.78Z" fill="#30E68C" stroke="#000" stroke-width="0.2"/>
<path d="M619.27 963.33A438.5 438.5 0 0 1 619.18 963.34L618.32 956.10A431.2 431.2 0 0 0 618.41 956.08Z" fill="#3070D8" stroke="#000" stroke-width="0.2"/>
<path d="M616.77 942.28A417.3 417.3 0 0 1 616.68 942.29L615.80 934.84A409.8 409.8 0 0 0 615.88 934.83Z" fill="#3070D8" stroke="#000" stroke-width="0.2"/>
<path d="M619.18 963.34A438.5 438.5 0 0 1 619.12 963.35L618.26 956.10A431.2 431.2 0 0 0 618.32 956.10Z" fill="#E030E0" stroke="#000" stroke-width="0.2"/>
<path d="M616.68 942.29A417.3 417.3 0 0 1 616.62 942.30L615.74 934.85A409.8 409.8 0 0 0 615.80 934.84Z" fill="#E030E0" stroke="#000" stroke-width="0.2"/>
<path d="M595.98 902.32A375.5 375.5 0 0 1 581.13 903.15L580.51 886.16A358.5 358.5 0 0 0 594.69 885.37Z" fill="#EA70A0" stroke="#000" stroke-width="1.0"/>
<text x="596.30" y="906.51" font-size="9.5" text-anchor="start" fill="#222" transform="rotate(85.65 596.30 906.51)" dy="3.32">0</text>
<path d="M600.76 965.14A438.5 438.5 0 0 1 586.69 965.98L586.37 958.69A431.2 431.2 0 0 0 600.21 957.86Z" fill="#E83030" stroke="#000" stroke-width="0.85"/>
<path d="M599.15 944.00A417.3 417.3 0 0 1 585.76 944.80L585.44 937.31A409.8 409.8 0 0 0 598.58 936.52Z" fill="#E83030" stroke="#000" stroke-width="0.85"/>
<path d="M586.69 965.98A438.5 438.5 0 0 1 583.82 966.10L583.55 958.80A431.2 431.2 0 0 0 586.37 958.69Z" fill="#B5E62E" stroke="#000" stroke-width="0.85"/>
<path d="M585.76 944.80A417.3 417.3 0 0 1 583.03 944.91L582.75 937.42A409.8 409.8 0 0 0 585.44 937.31Z" fill="#B5E62E" stroke="#000" stroke-width="0.85"/>
<path d="M583.82 966.10A438.5 438.5 0 0 1 583.59 966.10L583.32 958.81A431.2 431.2 0 0 0 583.55 958.80Z" fill="#30E68C" stroke="#000" stroke-width="0.2"/>
<path d="M583.03 944.91A417.3 417.3 0 0 1 582.81 944.92L582.53 937.42A409.8 409.8 0 0 0 582.75 937.42Z" fill="#30E68C" stroke="#000" stroke-width="0.2"/>
<path d="M583.59 966.10A438.5 438.5 0 0 1 583.50 966.11L583.24 958.81A431.2 431.2 0 0 0 583.32 958.81Z" fill="#3070D8" stroke="#000" stroke-width="0.2"/>
<path d="M582.81 944.92A417.3 417.3 0 0 1 582.73 944.92L582.45 937.43A409.8 409.8 0 0 0 582.53 937.42Z" fill="#3070D8" stroke="#000" stroke-width="0.2"/>
<path d="M583.50 966.11A438.5 438.5 0 0 1 583.42 966.11L583.15 958.82A431.2 431.2 0 0 0 583.24 958.81Z" fill="#E030E0" stroke="#000" stroke-width="0.2"/>
<path d="M582.73 944.92A417.3 417.3 0 0 1 582.65 944.93L582.37 937.43A409.8 409.8 0 0 0 582.45 937.43Z" fill="#E030E0" stroke="#000" stroke-width="0.2"/>
<path d="M564.55 903.39A375.5 375.5 0 0 1 542.74 902.58L543.87 885.62A358.5 358.5 0 0 0 564.68 886.39Z" fill="#D62A62" stroke="#000" stroke-width="1.0"/>
<text x="564.52" y="907.59" font-size="9.5" text-anchor="end" fill="#222" transform="rotate(270.45 564.52 907.59)" dy="3.32">0</text>
<path d="M564.06 966.39A438.5 438.5 0 0 1 546.64 965.90L546.99 958.61A431.2 431.2 0 0 0 564.11 959.09Z" fill="#E83030" stroke="#000" stroke-width="0.85"/>
<path d="M564.22 945.19A417.3 417.3 0 0 1 547.65 944.73L548.01 937.24A409.8 409.8 0 0 0 564.28 937.69Z" fill="#E83030" stroke="#000" stroke-width="0.85"/>
<path d="M546.64 965.90A438.5 438.5 0 0 1 541.59 965.63L542.02 958.35A431.2 431.2 0 0 0 546.99 958.61Z" fill="#30E68C" stroke="#000" stroke-width="0.85"/>
<path d="M547.65 944.73A417.3 417.3 0 0 1 542.84 944.47L543.29 936.98A409.8 409.8 0 0 0 548.01 937.24Z" fill="#30E68C" stroke="#000" stroke-width="0.85"/>
<path d="M541.59 965.63A438.5 438.5 0 0 1 538.79 965.46L539.27 958.17A431.2 431.2 0 0 0 542.02 958.35Z" fill="#B5E62E" stroke="#000" stroke-width="0.85"/>
<path d="M542.84 944.47A417.3 417.3 0 0 1 540.18 944.30L540.67 936.82A409.8 409.8 0 0 0 543.29 936.98Z" fill="#B5E62E" stroke="#000" stroke-width="0.85"/>
<path d="M538.79 965.46A438.5 438.5 0 0 1 538.68 965.45L539.16 958.17A431.2 431.2 0 0 0 539.27 958.17Z" fill="#3070D8" stroke="#000" stroke-width="0.2"/>
<path d="M540.18 944.30A417.3 417.3 0 0 1 540.07 944.30L540.56 936.81A409.8 409.8 0 0 0 540.67 936.82Z" fill="#3070D8" stroke="#000" stroke-width="0.2"/>
<path d="M538.68 965.45A438.5 438.5 0 0 1 538.59 965.45L539.07 958.16A431.2 431.2 0 0 0 539.16 958.17Z" fill="#E030E0" stroke="#000" stroke-width="0.2"/>
<path d="M540.07 944.30A417.3 417.3 0 0 1 539.99 944.29L540.48 936.81A409.8 409.8 0 0 0 540.56 936.81Z" fill="#E030E0" stroke="#000" stroke-width="0.2"/>
<path d="M527.27 901.24A375.5 375.5 0 0 1 500.62 897.40L503.65 880.67A358.5 358.5 0 0 0 529.09 884.34Z" fill="#107810" stroke="#000" stroke-width="1.0"/>
<text x="526.82" y="905.41" font-size="9.5" text-anchor="end" fill="#222" transform="rotate(276.15 526.82 905.41)" dy="3.32">0</text>
<text x="500.37" y="901.62" font-size="9.5" text-anchor="end" fill="#222" transform="rotate(280.18 500.37 901.62)" dy="3.32">1000</text>
<path d="M520.52 963.88A438.5 438.5 0 0 1 506.13 962.08L507.15 954.86A431.2 431.2 0 0 0 521.30 956.62Z" fill="#B5E62E" stroke="#000" stroke-width="0.85"/>
<path d="M522.79 942.80A417.3 417.3 0 0 1 509.09 941.09L510.14 933.67A409.8 409.8 0 0 0 523.60 935.34Z" fill="#B5E62E" stroke="#000" stroke-width="0.85"/>
<path d="M506.13 962.08A438.5 438.5 0 0 1 496.97 960.69L498.15 953.49A431.2 431.2 0 0 0 507.15 954.86Z" fill="#E83030" stroke="#000" stroke-width="0.85"/>
<path d="M509.09 941.09A417.3 417.3 0 0 1 500.38 939.77L501.59 932.36A409.8 409.8 0 0 0 510.14 933.67Z" fill="#E83030" stroke="#000" stroke-width="0.85"/>
<path d="M496.97 960.69A438.5 438.5 0 0 1 489.67 959.44L490.97 952.25A431.2 431.2 0 0 0 498.15 953.49Z" fill="#30E68C" stroke="#000" stroke-width="0.85"/>
<path d="M500.38 939.77A417.3 417.3 0 0 1 493.43 938.57L494.76 931.19A409.8 409.8 0 0 0 501.59 932.36Z" fill="#30E68C" stroke="#000" stroke-width="0.85"/>
<path d="M489.67 959.44A438.5 438.5 0 0 1 489.52 959.41L490.82 952.23A431.2 431.2 0 0 0 490.97 952.25Z" fill="#3070D8" stroke="#000" stroke-width="0.2"/>
<path d="M493.43 938.57A417.3 417.3 0 0 1 493.29 938.55L494.62 931.17A409.8 409.8 0 0 0 494.76 931.19Z" fill="#3070D8" stroke="#000" stroke-width="0.2"/>
<path d="M489.52 959.41A438.5 438.5 0 0 1 489.40 959.39L490.70 952.20A431.2 431.2 0 0 0 490.82 952.23Z" fill="#E030E0" stroke="#000" stroke-width="0.2"/>
<path d="M493.29 938.55A417.3 417.3 0 0 1 493.17 938.53L494.51 931.15A409.8 409.8 0 0 0 494.62 931.17Z" fill="#E030E0" stroke="#000" stroke-width="0.2"/>
<path d="M485.84 894.41A375.5 375.5 0 0 1 460.48 887.82L465.32 871.53A358.5 358.5 0 0 0 489.54 877.82Z" fill="#6048EE" stroke="#000" stroke-width="1.0"/>
<text x="484.93" y="898.51" font-size="9.5" text-anchor="end" fill="#222" transform="rotate(282.56 484.93 898.51)" dy="3.32">0</text>
<text x="459.50" y="891.92" font-size="9.5" text-anchor="end" fill="#222" transform="rotate(286.52 459.50 891.92)" dy="3.32">1000</text>
<path d="M472.14 955.91A438.5 438.5 0 0 1 443.01 948.36L445.09 941.36A431.2 431.2 0 0 0 473.73 948.78Z" fill="#E83030" stroke="#000" stroke-width="0.85"/>
<path d="M476.75 935.21A417.3 417.3 0 0 1 449.03 928.03L451.16 920.84A409.8 409.8 0 0 0 478.38 927.89Z" fill="#E83030" stroke="#000" stroke-width="0.85"/>
<path d="M443.01 948.36A438.5 438.5 0 0 1 442.84 948.31L444.91 941.31A431.2 431.2 0 0 0 445.09 941.36Z" fill="#B5E62E" stroke="#000" stroke-width="0.2"/>
<path d="M449.03 928.03A417.3 417.3 0 0 1 448.87 927.98L451.00 920.79A409.8 409.8 0 0 0 451.16 920.84Z" fill="#B5E62E" stroke="#000" stroke-width="0.2"/>
<path d="M442.84 948.31A438.5 438.5 0 0 1 442.69 948.26L444.77 941.27A431.2 431.2 0 0 0 444.91 941.31Z" fill="#30E68C" stroke="#000" stroke-width="0.2"/>
<path d="M448.87 927.98A417.3 417.3 0 0 1 448.73 927.94L450.86 920.75A409.8 409.8 0 0 0 451.00 920.79Z" fill="#30E68C" stroke="#000" stroke-width="0.2"/>
<path d="M442.69 948.26A438.5 438.5 0 0 1 442.61 948.24L444.69 941.24A431.2 431.2 0 0 0 444.77 941.27Z" fill="#3070D8" stroke="#000" stroke-width="0.2"/>
<path d="M448.73 927.94A417.3 417.3 0 0 1 448.64 927.92L450.78 920.73A409.8 409.8 0 0 0 450.86 920.75Z" fill="#3070D8" stroke="#000" stroke-width="0.2"/>
<path d="M442.61 948.24A438.5 438.5 0 0 1 442.52 948.21L444.60 941.21A431.2 431.2 0 0 0 444.69 941.24Z" fill="#E030E0" stroke="#000" stroke-width="0.2"/>
<path d="M448.64 927.92A417.3 417.3 0 0 1 448.56 927.89L450.70 920.70A409.8 409.8 0 0 0 450.78 920.73Z" fill="#E030E0" stroke="#000" stroke-width="0.2"/>
<path d="M445.44 883.01A375.5 375.5 0 0 1 419.76 873.11L426.44 857.48A358.5 358.5 0 0 0 450.96 866.93Z" fill="#8B5088" stroke="#000" stroke-width="1.0"/>
<text x="444.07" y="886.98" font-size="9.5" text-anchor="end" fill="#222" transform="rotate(288.97 444.07 886.98)" dy="3.32">0</text>
<text x="418.78" y="877.26" font-size="9.5" text-anchor="end" fill="#222" transform="rotate(293.06 418.78 877.26)" dy="3.32">1000</text>
<path d="M424.96 942.58A438.5 438.5 0 0 1 407.62 936.22L410.29 929.42A431.2 431.2 0 0 0 427.33 935.68Z" fill="#E83030" stroke="#000" stroke-width="0.85"/>
<path d="M431.85 922.54A417.3 417.3 0 0 1 415.35 916.48L418.09 909.49A409.8 409.8 0 0 0 434.29 915.44Z" fill="#E83030" stroke="#000" stroke-width="0.85"/>
<path d="M407.62 936.22A438.5 438.5 0 0 1 396.61 931.73L399.45 925.01A431.2 431.2 0 0 0 410.29 929.42Z" fill="#B5E62E" stroke="#000" stroke-width="0.85"/>
<path d="M415.35 916.48A417.3 417.3 0 0 1 404.87 912.21L407.79 905.30A409.8 409.8 0 0 0 418.09 909.49Z" fill="#B5E62E" stroke="#000" stroke-width="0.85"/>
<path d="M396.61 931.73A438.5 438.5 0 0 1 395.17 931.12L398.04 924.40A431.2 431.2 0 0 0 399.45 925.01Z" fill="#30E68C" stroke="#000" stroke-width="0.45"/>
<path d="M404.87 912.21A417.3 417.3 0 0 1 403.50 911.62L406.45 904.73A409.8 409.8 0 0 0 407.79 905.30Z" fill="#30E68C" stroke="#000" stroke-width="0.45"/>
<path d="M395.17 931.12A438.5 438.5 0 0 1 395.05 931.07L397.92 924.36A431.2 431.2 0 0 0 398.04 924.40Z" fill="#3070D8" stroke="#000" stroke-width="0.2"/>
<path d="M403.50 911.62A417.3 417.3 0 0 1 403.39 911.58L406.34 904.68A409.8 409.8 0 0 0 406.45 904.73Z" fill="#3070D8" stroke="#000" stroke-width="0.2"/>
<path d="M395.05 931.07A438.5 438.5 0 0 1 394.97 931.03L397.84 924.32A431.2 431.2 0 0 0 397.92 924.36Z" fill="#E030E0" stroke="#000" stroke-width="0.2"/>
<path d="M403.39 911.58A417.3 417.3 0 0 1 403.31 911.54L406.26 904.65A409.8 409.8 0 0 0 406.34 904.68Z" fill="#E030E0" stroke="#000" stroke-width="0.2"/>
<path d="M405.96 866.88A375.5 375.5 0 0 1 376.47 851.18L385.12 836.54A358.5 358.5 0 0 0 413.27 851.53Z" fill="#EBC862" stroke="#000" stroke-width="1.0"/>
<text x="404.15" y="870.67" font-size="9.5" text-anchor="end" fill="#222" transform="rotate(295.48 404.15 870.67)" dy="3.32">0</text>
<text x="380.53" y="858.38" font-size="9.5" text-anchor="end" fill="#222" transform="rotate(299.50 380.53 858.38)" dy="3.32">1000</text>
<path d="M378.86 923.75A438.5 438.5 0 0 1 357.22 912.69L360.73 906.29A431.2 431.2 0 0 0 382.00 917.16Z" fill="#B5E62E" stroke="#000" stroke-width="0.85"/>
<path d="M387.98 904.61A417.3 417.3 0 0 1 367.39 894.09L370.99 887.51A409.8 409.8 0 0 0 391.21 897.84Z" fill="#B5E62E" stroke="#000" stroke-width="0.85"/>
<path d="M357.22 912.69A438.5 438.5 0 0 1 347.04 906.95L350.71 900.64A431.2 431.2 0 0 0 360.73 906.29Z" fill="#E83030" stroke="#000" stroke-width="0.85"/>
<path d="M367.39 894.09A417.3 417.3 0 0 1 357.70 888.63L361.47 882.14A409.8 409.8 0 0 0 370.99 887.51Z" fill="#E83030" stroke="#000" stroke-width="0.85"/>
<path d="M347.04 906.95A438.5 438.5 0 0 1 344.66 905.55L348.37 899.27A431.2 431.2 0 0 0 350.71 900.64Z" fill="#30E68C" stroke="#000" stroke-width="0.85"/>
<path d="M357.70 888.63A417.3 417.3 0 0 1 355.43 887.30L359.24 880.84A409.8 409.8 0 0 0 361.47 882.14Z" fill="#30E68C" stroke="#000" stroke-width="0.85"/>
<path d="M344.66 905.55A438.5 438.5 0 0 1 344.52 905.48L348.24 899.19A431.2 431.2 0 0 0 348.37 899.27Z" fill="#3070D8" stroke="#000" stroke-width="0.2"/>
<path d="M355.43 887.30A417.3 417.3 0 0 1 355.30 887.22L359.12 880.76A409.8 409.8 0 0 0 359.24 880.84Z" fill="#3070D8" stroke="#000" stroke-width="0.2"/>
<path d="M344.52 905.48A438.5 438.5 0 0 1 344.42 905.41L348.13 899.13A431.2 431.2 0 0 0 348.24 899.19Z" fill="#E030E0" stroke="#000" stroke-width="0.2"/>
<path d="M355.30 887.22A417.3 417.3 0 0 1 355.20 887.16L359.02 880.70A409.8 409.8 0 0 0 359.12 880.76Z" fill="#E030E0" stroke="#000" stroke-width="0.2"/>
<path d="M365.25 844.28A375.5 375.5 0 0 1 333.75 821.77L344.33 808.47A358.5 358.5 0 0 0 374.40 829.95Z" fill="#8FA3AE" stroke="#000" stroke-width="1.0"/>
<text x="362.98" y="847.81" font-size="9.5" text-anchor="end" fill="#222" transform="rotate(302.59 362.98 847.81)" dy="3.32">0</text>
<text x="340.79" y="832.49" font-size="9.5" text-anchor="end" fill="#222" transform="rotate(306.66 340.79 832.49)" dy="3.32">1000</text>
<path d="M331.31 897.36A438.5 438.5 0 0 1 302.20 877.04L306.62 871.23A431.2 431.2 0 0 0 335.25 891.21Z" fill="#E83030" stroke="#000" stroke-width="0.85"/>
<path d="M342.73 879.49A417.3 417.3 0 0 1 315.03 860.16L319.56 854.19A409.8 409.8 0 0 0 346.77 873.18Z" fill="#E83030" stroke="#000" stroke-width="0.85"/>
<path d="M302.20 877.04A438.5 438.5 0 0 1 296.53 872.66L301.04 866.92A431.2 431.2 0 0 0 306.62 871.23Z" fill="#B5E62E" stroke="#000" stroke-width="0.85"/>
<path d="M315.03 860.16A417.3 417.3 0 0 1 309.63 855.99L314.27 850.09A409.8 409.8 0 0 0 319.56 854.19Z" fill="#B5E62E" stroke="#000" stroke-width="0.85"/>
<path d="M296.53 872.66A438.5 438.5 0 0 1 294.70 871.21L299.24 865.49A431.2 431.2 0 0 0 301.04 866.92Z" fill="#30E68C" stroke="#000" stroke-width="0.85"/>
<path d="M309.63 855.99A417.3 417.3 0 0 1 307.89 854.61L312.55 848.74A409.8 409.8 0 0 0 314.27 850.09Z" fill="#30E68C" stroke="#000" stroke-width="0.85"/>
<path d="M294.70 871.21A438.5 438.5 0 0 1 294.60 871.13L299.14 865.42A431.2 431.2 0 0 0 299.24 865.49Z" fill="#3070D8" stroke="#000" stroke-width="0.2"/>
<path d="M307.89 854.61A417.3 417.3 0 0 1 307.79 854.54L312.46 848.67A409.8 409.8 0 0 0 312.55 848.74Z" fill="#3070D8" stroke="#000" stroke-width="0.2"/>
<path d="M294.60 871.13A438.5 438.5 0 0 1 294.53 871.07L299.07 865.36A431.2 431.2 0 0 0 299.14 865.42Z" fill="#E030E0" stroke="#000" stroke-width="0.2"/>
<path d="M307.79 854.54A417.3 417.3 0 0 1 307.72 854.48L312.39 848.61A409.8 409.8 0 0 0 312.46 848.67Z" fill="#E030E0" stroke="#000" stroke-width="0.2"/>
<path d="M323.63 813.43A375.5 375.5 0 0 1 286.61 777.11L299.33 765.82A358.5 358.5 0 0 0 334.67 800.51Z" fill="#F2A0AA" stroke="#000" stroke-width="1.0"/>
<text x="320.90" y="816.63" font-size="9.5" text-anchor="end" fill="#222" transform="rotate(310.50 320.90 816.63)" dy="3.32">0</text>
<text x="301.87" y="799.21" font-size="9.5" text-anchor="end" fill="#222" transform="rotate(314.39 301.87 799.21)" dy="3.32">1000</text>
<text x="284.06" y="780.55" font-size="9.5" text-anchor="end" fill="#222" transform="rotate(318.29 284.06 780.55)" dy="3.32">2000</text>
<path d="M282.72 861.34A438.5 438.5 0 0 1 256.92 837.45L262.09 832.30A431.2 431.2 0 0 0 287.46 855.79Z" fill="#B5E62E" stroke="#000" stroke-width="0.85"/>
<path d="M296.49 845.22A417.3 417.3 0 0 1 271.94 822.49L277.25 817.19A409.8 409.8 0 0 0 301.36 839.51Z" fill="#B5E62E" stroke="#000" stroke-width="0.85"/>
<path d="M256.92 837.45A438.5 438.5 0 0 1 240.56 820.12L246.00 815.25A431.2 431.2 0 0 0 262.09 832.30Z" fill="#E83030" stroke="#000" stroke-width="0.85"/>
<path d="M271.94 822.49A417.3 417.3 0 0 1 256.37 805.99L261.96 800.99A409.8 409.8 0 0 0 277.25 817.19Z" fill="#E83030" stroke="#000" stroke-width="0.85"/>
<path d="M240.56 820.12A438.5 438.5 0 0 1 239.67 819.12L245.12 814.27A431.2 431.2 0 0 0 246.00 815.25Z" fill="#30E68C" stroke="#000" stroke-width="0.45"/>
<path d="M256.37 805.99A417.3 417.3 0 0 1 255.52 805.04L261.12 800.06A409.8 409.8 0 0 0 261.96 800.99Z" fill="#30E68C" stroke="#000" stroke-width="0.45"/>
<path d="M239.67 819.12A438.5 438.5 0 0 1 239.57 819.01L245.03 814.16A431.2 431.2 0 0 0 245.12 814.27Z" fill="#3070D8" stroke="#000" stroke-width="0.2"/>
<path d="M255.52 805.04A417.3 417.3 0 0 1 255.42 804.93L261.03 799.95A409.8 409.8 0 0 0 261.12 800.06Z" fill="#3070D8" stroke="#000" stroke-width="0.2"/>
<path d="M239.57 819.01A438.5 438.5 0 0 1 239.49 818.92L244.95 814.07A431.2 431.2 0 0 0 245.03 814.16Z" fill="#E030E0" stroke="#000" stroke-width="0.2"/>
<path d="M255.42 804.93A417.3 417.3 0 0 1 255.35 804.85L260.96 799.87A409.8 409.8 0 0 0 261.03 799.95Z" fill="#E030E0" stroke="#000" stroke-width="0.2"/>
<text x="279.47" y="865.14" font-size="9.5" text-anchor="end" fill="#222" transform="rotate(310.50 279.47 865.14)" dy="3.32">0%</text>
<text x="270.26" y="857.05" font-size="9.5" text-anchor="end" fill="#222" transform="rotate(312.08 270.26 857.05)" dy="3.32">20%</text>
<text x="261.27" y="848.71" font-size="9.5" text-anchor="end" fill="#222" transform="rotate(313.67 261.27 848.71)" dy="3.32">40%</text>
<text x="252.52" y="840.12" font-size="9.5" text-anchor="end" fill="#222" transform="rotate(315.25 252.52 840.12)" dy="3.32">60%</text>
<text x="244.01" y="831.29" font-size="9.5" text-anchor="end" fill="#222" transform="rotate(316.84 244.01 831.29)" dy="3.32">80%</text>
<text x="235.75" y="822.24" font-size="9.5" text-anchor="end" fill="#222" transform="rotate(318.42 235.75 822.24)" dy="3.32">100%</text>
<path d="M274.74 763.04A375.5 375.5 0 0 1 243.13 717.07L257.81 708.50A358.5 358.5 0 0 0 287.99 752.39Z" fill="#A84F36" stroke="#000" stroke-width="1.0"/>
<text x="271.46" y="765.67" font-size="9.5" text-anchor="end" fill="#222" transform="rotate(321.23 271.46 765.67)" dy="3.32">0</text>
<text x="255.84" y="744.79" font-size="9.5" text-anchor="end" fill="#222" transform="rotate(325.17 255.84 744.79)" dy="3.32">1000</text>
<text x="241.69" y="722.89" font-size="9.5" text-anchor="end" fill="#222" transform="rotate(329.10 241.69 722.89)" dy="3.32">2000</text>
<path d="M225.62 802.49A438.5 438.5 0 0 1 196.44 761.55L202.61 757.66A431.2 431.2 0 0 0 231.31 797.92Z" fill="#E83030" stroke="#000" stroke-width="0.85"/>
<path d="M242.15 789.21A417.3 417.3 0 0 1 214.38 750.26L220.72 746.26A409.8 409.8 0 0 0 247.99 784.51Z" fill="#E83030" stroke="#000" stroke-width="0.85"/>
<path d="M196.44 761.55A438.5 438.5 0 0 1 188.94 749.20L195.24 745.51A431.2 431.2 0 0 0 202.61 757.66Z" fill="#B5E62E" stroke="#000" stroke-width="0.85"/>
<path d="M214.38 750.26A417.3 417.3 0 0 1 207.24 738.50L213.71 734.71A409.8 409.8 0 0 0 220.72 746.26Z" fill="#B5E62E" stroke="#000" stroke-width="0.85"/>
<path d="M188.94 749.20A438.5 438.5 0 0 1 188.81 748.99L195.12 745.31A431.2 431.2 0 0 0 195.24 745.51Z" fill="#30E68C" stroke="#000" stroke-width="0.2"/>
<path d="M207.24 738.50A417.3 417.3 0 0 1 207.12 738.30L213.60 734.52A409.8 409.8 0 0 0 213.71 734.71Z" fill="#30E68C" stroke="#000" stroke-width="0.2"/>
<path d="M188.81 748.99A438.5 438.5 0 0 1 188.75 748.88L195.06 745.20A431.2 431.2 0 0 0 195.12 745.31Z" fill="#3070D8" stroke="#000" stroke-width="0.2"/>
<path d="M207.12 738.30A417.3 417.3 0 0 1 207.06 738.20L213.54 734.42A409.8 409.8 0 0 0 213.60 734.52Z" fill="#3070D8" stroke="#000" stroke-width="0.2"/>
<path d="M188.75 748.88A438.5 438.5 0 0 1 188.71 748.80L195.01 745.13A431.2 431.2 0 0 0 195.06 745.20Z" fill="#E030E0" stroke="#000" stroke-width="0.2"/>
<path d="M207.06 738.20A417.3 417.3 0 0 1 207.02 738.12L213.50 734.35A409.8 409.8 0 0 0 213.54 734.42Z" fill="#E030E0" stroke="#000" stroke-width="0.2"/>
<text x="221.72" y="805.62" font-size="9.5" text-anchor="end" fill="#222" transform="rotate(321.23 221.72 805.62)" dy="3.32">0%</text>
<text x="213.61" y="795.21" font-size="9.5" text-anchor="end" fill="#222" transform="rotate(322.93 213.61 795.21)" dy="3.32">20%</text>
<text x="205.82" y="784.57" font-size="9.5" text-anchor="end" fill="#222" transform="rotate(324.64 205.82 784.57)" dy="3.32">40%</text>
<text x="198.35" y="773.70" font-size="9.5" text-anchor="end" fill="#222" transform="rotate(326.34 198.35 773.70)" dy="3.32">60%</text>
<text x="191.20" y="762.62" font-size="9.5" text-anchor="end" fill="#222" transform="rotate(328.05 191.20 762.62)" dy="3.32">80%</text>
<text x="184.39" y="751.32" font-size="9.5" text-anchor="end" fill="#222" transform="rotate(329.75 184.39 751.32)" dy="3.32">100%</text>
<path d="M235.16 702.68A375.5 375.5 0 0 1 207.30 633.98L223.60 629.18A358.5 358.5 0 0 0 250.20 694.77Z" fill="#DEDEDE" stroke="#000" stroke-width="1.0" stroke-dasharray="4.5 1.3"/>
<text x="231.44" y="704.64" font-size="9.5" text-anchor="end" fill="#222" transform="rotate(332.26 231.44 704.64)" dy="3.32">0</text>
<text x="219.69" y="680.21" font-size="9.5" text-anchor="end" fill="#222" transform="rotate(336.35 219.69 680.21)" dy="3.32">1000</text>
<text x="209.71" y="655.02" font-size="9.5" text-anchor="end" fill="#222" transform="rotate(340.44 209.71 655.02)" dy="3.32">2000</text>
<path d="M179.40 732.00A438.5 438.5 0 0 1 153.58 672.64L160.47 670.23A431.2 431.2 0 0 0 185.86 728.61Z" fill="#E83030" stroke="#000" stroke-width="0.85"/>
<path d="M198.16 722.14A417.3 417.3 0 0 1 173.59 665.64L180.67 663.16A409.8 409.8 0 0 0 204.80 718.65Z" fill="#E83030" stroke="#000" stroke-width="0.85"/>
<path d="M153.58 672.64A438.5 438.5 0 0 1 148.03 655.68L155.01 653.55A431.2 431.2 0 0 0 160.47 670.23Z" fill="#B5E62E" stroke="#000" stroke-width="0.85"/>
<path d="M173.59 665.64A417.3 417.3 0 0 1 168.31 649.50L175.48 647.32A409.8 409.8 0 0 0 180.67 663.16Z" fill="#B5E62E" stroke="#000" stroke-width="0.85"/>
<path d="M148.03 655.68A438.5 438.5 0 0 1 146.95 652.08L153.95 650.01A431.2 431.2 0 0 0 155.01 653.55Z" fill="#30E68C" stroke="#000" stroke-width="0.85"/>
<path d="M168.31 649.50A417.3 417.3 0 0 1 167.28 646.08L174.48 643.95A409.8 409.8 0 0 0 175.48 647.32Z" fill="#30E68C" stroke="#000" stroke-width="0.85"/>
<path d="M146.95 652.08A438.5 438.5 0 0 1 146.90 651.90L153.90 649.84A431.2 431.2 0 0 0 153.95 650.01Z" fill="#3070D8" stroke="#000" stroke-width="0.2"/>
<path d="M167.28 646.08A417.3 417.3 0 0 1 167.23 645.91L174.43 643.78A409.8 409.8 0 0 0 174.48 643.95Z" fill="#3070D8" stroke="#000" stroke-width="0.2"/>
<path d="M146.90 651.90A438.5 438.5 0 0 1 146.86 651.78L153.87 649.72A431.2 431.2 0 0 0 153.90 649.84Z" fill="#E030E0" stroke="#000" stroke-width="0.2"/>
<path d="M167.23 645.91A417.3 417.3 0 0 1 167.20 645.79L174.39 643.67A409.8 409.8 0 0 0 174.43 643.78Z" fill="#E030E0" stroke="#000" stroke-width="0.2"/>
<text x="174.97" y="734.33" font-size="9.5" text-anchor="end" fill="#222" transform="rotate(332.26 174.97 734.33)" dy="3.32">0%</text>
<text x="167.12" y="718.65" font-size="9.5" text-anchor="end" fill="#222" transform="rotate(334.53 167.12 718.65)" dy="3.32">20%</text>
<text x="159.89" y="702.67" font-size="9.5" text-anchor="end" fill="#222" transform="rotate(336.79 159.89 702.67)" dy="3.32">40%</text>
<text x="153.30" y="686.42" font-size="9.5" text-anchor="end" fill="#222" transform="rotate(339.06 153.30 686.42)" dy="3.32">60%</text>
<text x="147.35" y="669.92" font-size="9.5" text-anchor="end" fill="#222" transform="rotate(341.32 147.35 669.92)" dy="3.32">80%</text>
<text x="142.07" y="653.19" font-size="9.5" text-anchor="end" fill="#222" transform="rotate(343.59 142.07 653.19)" dy="3.32">100%</text>
<path d="M203.17 618.81A375.5 375.5 0 0 1 192.14 538.19L209.13 537.72A358.5 358.5 0 0 0 219.66 614.69Z" fill="#50AA91" stroke="#000" stroke-width="1.0"/>
<text x="199.09" y="619.82" font-size="9.5" text-anchor="end" fill="#222" transform="rotate(345.99 199.09 619.82)" dy="3.32">0</text>
<text x="193.62" y="594.15" font-size="9.5" text-anchor="end" fill="#222" transform="rotate(349.95 193.62 594.15)" dy="3.32">1000</text>
<text x="189.94" y="568.16" font-size="9.5" text-anchor="end" fill="#222" transform="rotate(353.91 189.94 568.16)" dy="3.32">2000</text>
<text x="188.06" y="541.98" font-size="9.5" text-anchor="end" fill="#222" transform="rotate(357.88 188.06 541.98)" dy="3.32">3000</text>
<path d="M142.04 634.06A438.5 438.5 0 0 1 133.78 592.44L141.00 591.36A431.2 431.2 0 0 0 149.13 632.29Z" fill="#E83030" stroke="#000" stroke-width="0.85"/>
<path d="M162.61 628.92A417.3 417.3 0 0 1 154.74 589.32L162.16 588.21A409.8 409.8 0 0 0 169.89 627.11Z" fill="#E83030" stroke="#000" stroke-width="0.85"/>
<path d="M133.78 592.44A438.5 438.5 0 0 1 130.43 563.22L137.70 562.64A431.2 431.2 0 0 0 141.00 591.36Z" fill="#B5E62E" stroke="#000" stroke-width="0.85"/>
<path d="M154.74 589.32A417.3 417.3 0 0 1 151.56 561.52L159.03 560.91A409.8 409.8 0 0 0 162.16 588.21Z" fill="#B5E62E" stroke="#000" stroke-width="0.85"/>
<path d="M130.43 563.22A438.5 438.5 0 0 1 129.29 543.85L136.59 543.59A431.2 431.2 0 0 0 137.70 562.64Z" fill="#30E68C" stroke="#000" stroke-width="0.85"/>
<path d="M151.56 561.52A417.3 417.3 0 0 1 150.48 543.08L157.97 542.81A409.8 409.8 0 0 0 159.03 560.91Z" fill="#30E68C" stroke="#000" stroke-width="0.85"/>
<path d="M129.29 543.85A438.5 438.5 0 0 1 129.20 541.13L136.50 540.91A431.2 431.2 0 0 0 136.59 543.59Z" fill="#E030E0" stroke="#000" stroke-width="0.85"/>
<path d="M150.48 543.08A417.3 417.3 0 0 1 150.39 540.49L157.89 540.26A409.8 409.8 0 0 0 157.97 542.81Z" fill="#E030E0" stroke="#000" stroke-width="0.85"/>
<path d="M129.20 541.13A438.5 438.5 0 0 1 129.16 539.91L136.46 539.71A431.2 431.2 0 0 0 136.50 540.91Z" fill="#3070D8" stroke="#000" stroke-width="0.45"/>
<path d="M150.39 540.49A417.3 417.3 0 0 1 150.36 539.33L157.85 539.13A409.8 409.8 0 0 0 157.89 540.26Z" fill="#3070D8" stroke="#000" stroke-width="0.45"/>
<text x="137.19" y="635.27" font-size="9.5" text-anchor="end" fill="#222" transform="rotate(345.99 137.19 635.27)" dy="3.32">0%</text>
<text x="132.94" y="616.49" font-size="9.5" text-anchor="end" fill="#222" transform="rotate(348.48 132.94 616.49)" dy="3.32">20%</text>
<text x="129.50" y="597.54" font-size="9.5" text-anchor="end" fill="#222" transform="rotate(350.97 129.50 597.54)" dy="3.32">40%</text>
<text x="126.89" y="578.46" font-size="9.5" text-anchor="end" fill="#222" transform="rotate(353.45 126.89 578.46)" dy="3.32">60%</text>
<text x="125.11" y="559.28" font-size="9.5" text-anchor="end" fill="#222" transform="rotate(355.94 125.11 559.28)" dy="3.32">80%</text>
<text x="124.17" y="540.05" font-size="9.5" text-anchor="end" fill="#222" transform="rotate(358.43 124.17 540.05)" dy="3.32">100%</text>
<path d="M192.03 523.12A375.5 375.5 0 0 1 206.67 423.96L223.01 428.66A358.5 358.5 0 0 0 209.03 523.33Z" fill="#00EDB2" stroke="#000" stroke-width="1.0"/>
<text x="187.83" y="523.06" font-size="9.5" text-anchor="end" fill="#222" transform="rotate(360.73 187.83 523.06)" dy="3.32">0</text>
<text x="189.22" y="495.04" font-size="9.5" text-anchor="end" fill="#222" transform="rotate(364.97 189.22 495.04)" dy="3.32">1000</text>
<text x="192.68" y="467.19" font-size="9.5" text-anchor="end" fill="#222" transform="rotate(369.20 192.68 467.19)" dy="3.32">2000</text>
<text x="198.19" y="439.68" font-size="9.5" text-anchor="end" fill="#222" transform="rotate(373.44 198.19 439.68)" dy="3.32">3000</text>
<path d="M129.04 522.31A438.5 438.5 0 0 1 132.63 471.58L139.87 472.52A431.2 431.2 0 0 0 136.33 522.41Z" fill="#B5E62E" stroke="#000" stroke-width="0.85"/>
<path d="M150.23 522.58A417.3 417.3 0 0 1 153.66 474.30L161.09 475.27A409.8 409.8 0 0 0 157.73 522.68Z" fill="#B5E62E" stroke="#000" stroke-width="0.85"/>
<path d="M132.63 471.58A438.5 438.5 0 0 1 140.04 430.12L147.16 431.74A431.2 431.2 0 0 0 139.87 472.52Z" fill="#30E68C" stroke="#000" stroke-width="0.85"/>
<path d="M153.66 474.30A417.3 417.3 0 0 1 160.71 434.84L168.02 436.52A409.8 409.8 0 0 0 161.09 475.27Z" fill="#30E68C" stroke="#000" stroke-width="0.85"/>
<path d="M140.04 430.12A438.5 438.5 0 0 1 144.80 411.26L151.83 413.20A431.2 431.2 0 0 0 147.16 431.74Z" fill="#E83030" stroke="#000" stroke-width="0.85"/>
<path d="M160.71 434.84A417.3 417.3 0 0 1 165.23 416.90L172.46 418.89A409.8 409.8 0 0 0 168.02 436.52Z" fill="#E83030" stroke="#000" stroke-width="0.85"/>
<path d="M144.80 411.26A438.5 438.5 0 0 1 146.03 406.89L153.04 408.91A431.2 431.2 0 0 0 151.83 413.20Z" fill="#E030E0" stroke="#000" stroke-width="0.85"/>
<path d="M165.23 416.90A417.3 417.3 0 0 1 166.40 412.74L173.61 414.81A409.8 409.8 0 0 0 172.46 418.89Z" fill="#E030E0" stroke="#000" stroke-width="0.85"/>
<path d="M146.03 406.89A438.5 438.5 0 0 1 146.13 406.52L153.15 408.54A431.2 431.2 0 0 0 153.04 408.91Z" fill="#3070D8" stroke="#000" stroke-width="0.2"/>
<path d="M166.40 412.74A417.3 417.3 0 0 1 166.51 412.39L173.71 414.46A409.8 409.8 0 0 0 173.61 414.81Z" fill="#3070D8" stroke="#000" stroke-width="0.2"/>
<text x="124.04" y="522.25" font-size="9.5" text-anchor="end" fill="#222" transform="rotate(360.73 124.04 522.25)" dy="3.32">0%</text>
<text x="124.35" y="510.38" font-size="9.5" text-anchor="end" fill="#222" transform="rotate(362.26 124.35 510.38)" dy="3.32">10%</text>
<text x="124.97" y="498.52" font-size="9.5" text-anchor="end" fill="#222" transform="rotate(363.80 124.97 498.52)" dy="3.32">20%</text>
<text x="125.92" y="486.69" font-size="9.5" text-anchor="end" fill="#222" transform="rotate(365.33 125.92 486.69)" dy="3.32">30%</text>
<text x="127.18" y="474.88" font-size="9.5" text-anchor="end" fill="#222" transform="rotate(366.87 127.18 474.88)" dy="3.32">40%</text>
<text x="128.76" y="463.11" font-size="9.5" text-anchor="end" fill="#222" transform="rotate(368.40 128.76 463.11)" dy="3.32">50%</text>
<text x="130.65" y="451.39" font-size="9.5" text-anchor="end" fill="#222" transform="rotate(369.93 130.65 451.39)" dy="3.32">60%</text>
<text x="132.85" y="439.72" font-size="9.5" text-anchor="end" fill="#222" transform="rotate(371.47 132.85 439.72)" dy="3.32">70%</text>
<text x="135.37" y="428.12" font-size="9.5" text-anchor="end" fill="#222" transform="rotate(373.00 135.37 428.12)" dy="3.32">80%</text>
<text x="138.20" y="416.59" font-size="9.5" text-anchor="end" fill="#222" transform="rotate(374.54 138.20 416.59)" dy="3.32">90%</text>
<text x="141.33" y="405.13" font-size="9.5" text-anchor="end" fill="#222" transform="rotate(376.07 141.33 405.13)" dy="3.32">100%</text>
<path d="M211.78 407.63A375.5 375.5 0 0 1 258.45 314.62L272.44 324.28A358.5 358.5 0 0 0 227.89 413.08Z" fill="#A01996" stroke="#000" stroke-width="1.0"/>
<text x="207.80" y="406.29" font-size="9.5" text-anchor="end" fill="#222" transform="rotate(378.68 207.80 406.29)" dy="3.32">0</text>
<text x="217.39" y="380.94" font-size="9.5" text-anchor="end" fill="#222" transform="rotate(382.77 217.39 380.94)" dy="3.32">1000</text>
<text x="228.76" y="356.35" font-size="9.5" text-anchor="end" fill="#222" transform="rotate(386.86 228.76 356.35)" dy="3.32">2000</text>
<text x="241.86" y="332.63" font-size="9.5" text-anchor="end" fill="#222" transform="rotate(390.95 241.86 332.63)" dy="3.32">3000</text>
<path d="M152.10 387.46A438.5 438.5 0 0 1 202.47 284.93L208.55 288.97A431.2 431.2 0 0 0 159.01 389.79Z" fill="#E83030" stroke="#000" stroke-width="0.85"/>
<path d="M172.18 394.25A417.3 417.3 0 0 1 220.12 296.67L226.36 300.83A409.8 409.8 0 0 0 179.29 396.65Z" fill="#E83030" stroke="#000" stroke-width="0.85"/>
<path d="M202.47 284.93A438.5 438.5 0 0 1 206.60 278.84L212.61 282.98A431.2 431.2 0 0 0 208.55 288.97Z" fill="#B5E62E" stroke="#000" stroke-width="0.85"/>
<path d="M220.12 296.67A417.3 417.3 0 0 1 224.05 290.88L230.22 295.14A409.8 409.8 0 0 0 226.36 300.83Z" fill="#B5E62E" stroke="#000" stroke-width="0.85"/>
<text x="147.36" y="385.85" font-size="9.5" text-anchor="end" fill="#222" transform="rotate(378.68 147.36 385.85)" dy="3.32">0%</text>
<text x="151.47" y="374.23" font-size="9.5" text-anchor="end" fill="#222" transform="rotate(380.27 151.47 374.23)" dy="3.32">10%</text>
<text x="155.91" y="362.72" font-size="9.5" text-anchor="end" fill="#222" transform="rotate(381.87 155.91 362.72)" dy="3.32">20%</text>
<text x="160.66" y="351.35" font-size="9.5" text-anchor="end" fill="#222" transform="rotate(383.46 160.66 351.35)" dy="3.32">30%</text>
<text x="165.72" y="340.10" font-size="9.5" text-anchor="end" fill="#222" transform="rotate(385.05 165.72 340.10)" dy="3.32">40%</text>
<text x="171.10" y="329.01" font-size="9.5" text-anchor="end" fill="#222" transform="rotate(386.64 171.10 329.01)" dy="3.32">50%</text>
<text x="176.78" y="318.06" font-size="9.5" text-anchor="end" fill="#222" transform="rotate(388.24 176.78 318.06)" dy="3.32">60%</text>
<text x="182.77" y="307.28" font-size="9.5" text-anchor="end" fill="#222" transform="rotate(389.83 182.77 307.28)" dy="3.32">70%</text>
<text x="189.05" y="296.67" font-size="9.5" text-anchor="end" fill="#222" transform="rotate(391.42 189.05 296.67)" dy="3.32">80%</text>
<text x="195.62" y="286.24" font-size="9.5" text-anchor="end" fill="#222" transform="rotate(393.02 195.62 286.24)" dy="3.32">90%</text>
<text x="202.48" y="276.00" font-size="9.5" text-anchor="end" fill="#222" transform="rotate(394.61 202.48 276.00)" dy="3.32">100%</text>
<path d="M267.69 301.81A375.5 375.5 0 0 1 552.10 152.72L552.80 169.70A358.5 358.5 0 0 0 281.26 312.05Z" fill="#3070D8" stroke="#000" stroke-width="1.0"/>
<text x="264.34" y="299.28" font-size="9.5" text-anchor="end" fill="#222" transform="rotate(397.02 264.34 299.28)" dy="3.32">0</text>
<text x="281.46" y="278.20" font-size="9.5" text-anchor="end" fill="#222" transform="rotate(401.12 281.46 278.20)" dy="3.32">1000</text>
<text x="300.04" y="258.39" font-size="9.5" text-anchor="end" fill="#222" transform="rotate(405.22 300.04 258.39)" dy="3.32">2000</text>
<text x="319.99" y="239.96" font-size="9.5" text-anchor="end" fill="#222" transform="rotate(409.32 319.99 239.96)" dy="3.32">3000</text>
<text x="341.21" y="223.00" font-size="9.5" text-anchor="end" fill="#222" transform="rotate(413.42 341.21 223.00)" dy="3.32">4000</text>
<text x="363.59" y="207.60" font-size="9.5" text-anchor="end" fill="#222" transform="rotate(417.52 363.59 207.60)" dy="3.32">5000</text>
<text x="387.01" y="193.84" font-size="9.5" text-anchor="end" fill="#222" transform="rotate(421.62 387.01 193.84)" dy="3.32">6000</text>
<text x="411.35" y="181.79" font-size="9.5" text-anchor="end" fill="#222" transform="rotate(425.72 411.35 181.79)" dy="3.32">7000</text>
<text x="436.49" y="171.52" font-size="9.5" text-anchor="end" fill="#222" transform="rotate(429.82 436.49 171.52)" dy="3.32">8000</text>
<text x="462.31" y="163.06" font-size="9.5" text-anchor="end" fill="#222" transform="rotate(433.92 462.31 163.06)" dy="3.32">9000</text>
<text x="488.66" y="156.48" font-size="9.5" text-anchor="end" fill="#222" transform="rotate(438.02 488.66 156.48)" dy="3.32">10000</text>
<text x="515.41" y="151.79" font-size="9.5" text-anchor="end" fill="#222" transform="rotate(442.12 515.41 151.79)" dy="3.32">11000</text>
<text x="542.44" y="149.03" font-size="9.5" text-anchor="end" fill="#222" transform="rotate(446.22 542.44 149.03)" dy="3.32">12000</text>
<path d="M217.39 263.88A438.5 438.5 0 0 1 361.27 140.92L364.70 147.37A431.2 431.2 0 0 0 223.22 268.28Z" fill="#B5E62E" stroke="#000" stroke-width="0.85"/>
<path d="M234.32 276.65A417.3 417.3 0 0 1 371.24 159.63L374.77 166.25A409.8 409.8 0 0 0 240.31 281.16Z" fill="#B5E62E" stroke="#000" stroke-width="0.85"/>
<path d="M361.27 140.92A438.5 438.5 0 0 1 512.32 92.89L513.24 100.13A431.2 431.2 0 0 0 364.70 147.37Z" fill="#E83030" stroke="#000" stroke-width="0.85"/>
<path d="M371.24 159.63A417.3 417.3 0 0 1 514.99 113.92L515.94 121.36A409.8 409.8 0 0 0 374.77 166.25Z" fill="#E83030" stroke="#000" stroke-width="0.85"/>
<path d="M512.32 92.89A438.5 438.5 0 0 1 543.57 90.05L543.96 97.34A431.2 431.2 0 0 0 513.24 100.13Z" fill="#30E68C" stroke="#000" stroke-width="0.85"/>
<path d="M514.99 113.92A417.3 417.3 0 0 1 544.72 111.22L545.13 118.71A409.8 409.8 0 0 0 515.94 121.36Z" fill="#30E68C" stroke="#000" stroke-width="0.85"/>
<path d="M543.57 90.05A438.5 438.5 0 0 1 549.52 89.77L549.82 97.06A431.2 431.2 0 0 0 543.96 97.34Z" fill="#3070D8" stroke="#000" stroke-width="0.85"/>
<path d="M544.72 111.22A417.3 417.3 0 0 1 550.39 110.95L550.70 118.44A409.8 409.8 0 0 0 545.13 118.71Z" fill="#3070D8" stroke="#000" stroke-width="0.85"/>
<text x="213.40" y="260.87" font-size="9.5" text-anchor="end" fill="#222" transform="rotate(397.02 213.40 260.87)" dy="3.32">0%</text>
<text x="238.35" y="230.66" font-size="9.5" text-anchor="end" fill="#222" transform="rotate(402.08 238.35 230.66)" dy="3.32">10%</text>
<text x="265.86" y="202.77" font-size="9.5" text-anchor="end" fill="#222" transform="rotate(407.15 265.86 202.77)" dy="3.32">20%</text>
<text x="295.73" y="177.42" font-size="9.5" text-anchor="end" fill="#222" transform="rotate(412.21 295.73 177.42)" dy="3.32">30%</text>
<text x="327.72" y="154.81" font-size="9.5" text-anchor="end" fill="#222" transform="rotate(417.27 327.72 154.81)" dy="3.32">40%</text>
<text x="361.58" y="135.10" font-size="9.5" text-anchor="end" fill="#222" transform="rotate(422.33 361.58 135.10)" dy="3.32">50%</text>
<text x="397.05" y="118.46" font-size="9.5" text-anchor="end" fill="#222" transform="rotate(427.40 397.05 118.46)" dy="3.32">60%</text>
<text x="433.85" y="105.02" font-size="9.5" text-anchor="end" fill="#222" transform="rotate(432.46 433.85 105.02)" dy="3.32">70%</text>
<text x="471.69" y="94.87" font-size="9.5" text-anchor="end" fill="#222" transform="rotate(437.52 471.69 94.87)" dy="3.32">80%</text>
<text x="510.28" y="88.11" font-size="9.5" text-anchor="end" fill="#222" transform="rotate(442.59 510.28 88.11)" dy="3.32">90%</text>
<text x="549.31" y="84.77" font-size="9.5" text-anchor="end" fill="#222" transform="rotate(447.65 549.31 84.77)" dy="3.32">100%</text>
<path d="M567.83 152.40L567.83 149.40M581.11 152.65L581.17 150.85M594.37 153.36L594.58 150.37M607.60 154.55L607.79 152.76M620.77 156.20L621.20 153.23M633.89 158.31L634.20 156.54M646.91 160.89L647.55 157.96M659.84 163.93L660.29 162.19M672.66 167.43L673.50 164.55M685.34 171.37L685.90 169.66M697.87 175.76L698.92 172.95M710.25 180.59L710.93 178.93M722.44 185.86L723.68 183.12M734.44 191.55L735.24 189.94M746.23 197.66L747.66 195.02M757.79 204.19L758.71 202.64M769.12 211.12L770.73 208.59M780.20 218.45L781.22 216.97M791.01 226.17L792.80 223.75M801.54 234.26L802.66 232.85M811.78 242.72L813.73 240.44M821.71 251.54L822.93 250.21M831.32 260.70L833.43 258.56M840.61 270.20L841.92 268.96M849.55 280.01L851.80 278.03M858.14 290.14L859.53 289.00M866.37 300.57L868.76 298.75M874.22 311.28L875.69 310.24M881.69 322.26L884.20 320.62M888.76 333.50L890.30 332.57M895.44 344.99L898.06 343.53M901.70 356.70L903.30 355.88M907.55 368.62L910.26 367.35M912.97 380.75L914.62 380.04M917.95 393.06L920.75 391.98M922.50 405.54L924.20 404.95M926.61 418.17L929.48 417.29M930.26 430.93L932.00 430.47M933.47 443.82L936.39 443.15M936.21 456.82L937.98 456.48M938.49 469.90L941.46 469.44M940.31 483.06L942.10 482.84M567.88 89.40L567.89 86.20M580.61 89.60L580.66 87.90M593.32 90.16L593.42 88.46M606.01 91.09L606.16 89.40M618.67 92.40L618.87 90.71M631.28 94.06L631.75 90.90M643.85 96.10L644.14 94.42M656.34 98.49L656.69 96.83M668.77 101.25L669.16 99.60M681.10 104.37L681.54 102.73M693.35 107.85L694.26 104.78M705.48 111.68L706.02 110.06M717.50 115.85L718.08 114.26M729.39 120.38L730.02 118.80M741.15 125.25L741.83 123.69M752.76 130.46L754.11 127.56M764.22 136.00L764.98 134.48M775.51 141.87L776.31 140.38M786.62 148.07L787.47 146.60M797.55 154.59L798.44 153.14M808.28 161.42L810.04 158.75M818.82 168.56L819.79 167.17M829.14 176.01L830.15 174.64M839.24 183.75L840.29 182.41M849.11 191.78L850.20 190.48M858.75 200.09L860.87 197.70M868.14 208.68L869.30 207.44M877.27 217.54L878.47 216.34M886.15 226.66L887.38 225.49M894.75 236.03L896.02 234.90M903.09 245.65L905.53 243.59M911.13 255.51L912.47 254.45M918.89 265.59L920.26 264.58M926.36 275.90L927.75 274.92M933.52 286.42L934.94 285.48M940.37 297.14L943.09 295.46M946.91 308.06L948.38 307.21M953.13 319.16L954.62 318.35M959.02 330.44L960.54 329.67M964.59 341.88L966.13 341.16M969.82 353.48L972.76 352.21M974.71 365.23L976.29 364.60M979.26 377.12L980.86 376.53M983.46 389.13L985.07 388.59M987.31 401.26L988.94 400.77M990.81 413.49L993.90 412.66M993.95 425.82L995.61 425.43M996.74 438.24L998.40 437.89M999.16 450.73L1000.83 450.43M1001.21 463.29L1002.90 463.04M1002.91 475.90L1006.08 475.52M941.83 498.31L944.82 498.07M942.64 511.56L944.44 511.48M942.99 524.83L945.99 524.81M942.86 538.11L944.66 538.16M942.27 551.38L945.26 551.56M941.20 564.61L942.99 564.79M939.67 577.80L942.64 578.20M937.67 590.93L939.45 591.23M935.21 603.98L938.15 604.58M932.29 616.93L934.04 617.36M928.92 629.77L931.81 630.58M925.09 642.48L926.80 643.03M920.82 655.06L923.64 656.07M916.10 667.47L917.77 668.14M910.95 679.71L913.69 680.92M905.36 691.75L906.98 692.54M899.36 703.60L902.01 705.00M892.94 715.22L894.50 716.12M886.11 726.61L888.66 728.20M878.89 737.75L880.38 738.75M871.28 748.63L873.70 750.39M863.28 759.23L864.70 760.34M854.92 769.54L857.22 771.47M846.20 779.55L847.53 780.76M837.12 789.25L839.28 791.34M827.72 798.62L828.96 799.92M817.98 807.65L819.98 809.88M1004.64 493.34L1007.83 493.09M1005.21 501.59L1006.91 501.48M1005.63 509.84L1007.33 509.77M1005.89 518.10L1007.59 518.06M1006.00 526.36L1007.70 526.35M1005.95 534.62L1009.15 534.67M1005.74 542.88L1007.44 542.94M1005.38 551.13L1007.08 551.22M1004.87 559.38L1006.56 559.50M1004.20 567.61L1005.89 567.77M1003.37 575.84L1006.55 576.19M1002.39 584.04L1004.08 584.26M1001.26 592.22L1002.94 592.47M999.97 600.39L1001.64 600.67M998.53 608.52L1000.20 608.83M996.93 616.63L1000.06 617.27M995.18 624.70L996.84 625.08M993.28 632.74L994.93 633.15M991.23 640.75L992.87 641.18M989.03 648.71L990.66 649.18M986.68 656.63L989.74 657.57M984.18 664.51L985.79 665.04M981.53 672.33L983.14 672.89M978.74 680.11L980.33 680.70M975.79 687.83L977.38 688.45M972.71 695.49L975.67 696.72M969.48 703.10L971.04 703.78M966.11 710.64L967.65 711.35M962.59 718.12L964.12 718.86M958.94 725.53L960.46 726.30M955.15 732.87L957.97 734.37M951.22 740.14L952.70 740.96M947.15 747.33L948.62 748.18M942.95 754.44L944.40 755.32M938.61 761.48L940.05 762.38M934.14 768.43L936.82 770.18M929.55 775.29L930.95 776.25M924.82 782.07L926.21 783.06M919.97 788.76L921.34 789.77M914.99 795.35L916.34 796.39M909.89 801.85L912.39 803.85M904.67 808.26L905.98 809.34M899.33 814.56L900.61 815.67M893.87 820.76L895.13 821.90M888.29 826.86L889.53 828.02M882.60 832.85L884.90 835.07M876.80 838.73L878.00 839.94M870.89 844.50L872.06 845.73M864.87 850.16L866.02 851.41M858.74 855.71L859.87 856.98M852.52 861.14L854.60 863.57M799.40 823.23L801.26 825.59M788.67 831.35L789.73 832.81M777.66 839.08L779.34 841.57M766.38 846.41L767.33 847.94M754.84 853.33L756.34 855.93M743.06 859.83L743.90 861.42M731.05 865.91L732.36 868.61M718.84 871.55L719.57 873.20M838.31 872.78L840.29 875.30M836.42 874.26L837.46 875.60M834.52 875.73L835.55 877.08M832.61 877.18L833.64 878.54M830.69 878.63L831.71 879.99M828.77 880.07L830.67 882.64M826.83 881.49L827.84 882.86M824.89 882.91L825.89 884.28M822.95 884.31L823.94 885.69M820.99 885.71L821.97 887.09M819.03 887.09L820.86 889.71M817.05 888.46L818.02 889.86M815.08 889.82L816.04 891.23M813.09 891.17L814.04 892.58M811.10 892.51L812.04 893.93M809.10 893.84L810.86 896.51M807.09 895.16L808.02 896.58M805.07 896.47L805.99 897.89M803.05 897.76L803.96 899.20M801.02 899.05L801.93 900.49M798.99 900.32L800.68 903.04M796.94 901.58L797.83 903.03M794.89 902.83L795.77 904.29M792.84 904.07L793.71 905.53M790.77 905.30L791.64 906.76M788.70 906.52L790.32 909.28M786.63 907.72L787.47 909.20M784.54 908.92L785.38 910.40M782.45 910.10L783.29 911.58M780.36 911.27L781.18 912.76M778.25 912.43L779.79 915.24M776.14 913.58L776.95 915.08M774.03 914.72L774.83 916.22M771.91 915.84L772.70 917.35M769.78 916.96L770.56 918.47M767.64 918.06L769.11 920.91M765.50 919.15L766.27 920.67M763.36 920.23L764.12 921.75M761.21 921.30L761.96 922.82M759.05 922.35L759.79 923.88M756.89 923.39L758.27 926.28M754.72 924.42L755.44 925.96M752.54 925.44L753.26 926.99M750.36 926.45L751.07 928.00M748.18 927.45L748.88 929.00M745.99 928.43L747.29 931.35M743.79 929.40L744.47 930.96M741.59 930.36L742.26 931.92M739.38 931.31L740.05 932.87M737.17 932.24L737.83 933.81M734.95 933.17L736.18 936.12M696.24 880.64L697.26 883.46M717.84 939.82L718.93 942.83M717.04 940.11L718.14 943.12M716.25 940.40L717.34 943.41M715.46 940.68L716.54 943.70M714.67 940.97L715.74 943.98M713.87 941.25L714.94 944.26M713.08 941.53L714.14 944.55M712.29 941.81L713.34 944.83M711.49 942.08L712.54 945.11M710.70 942.36L711.74 945.38M709.90 942.63L710.94 945.66M673.83 888.03L674.68 890.91M691.67 948.45L692.58 951.52M690.87 948.69L691.77 951.76M690.07 948.92L690.97 951.99M689.27 949.15L690.16 952.23M688.47 949.38L689.35 952.46M687.67 949.61L688.54 952.69M686.87 949.84L687.74 952.92M686.06 950.07L686.93 953.15M685.26 950.29L686.12 953.37M684.46 950.52L685.31 953.60M683.65 950.74L684.50 953.82M651.07 893.98L651.74 896.91M665.10 955.40L665.81 958.52M663.75 955.71L664.46 958.83M662.41 956.01L663.10 959.13M661.06 956.30L661.75 959.43M659.72 956.59L660.39 959.72M658.37 956.88L659.03 960.01M657.02 957.16L657.67 960.30M655.67 957.44L656.32 960.58M654.32 957.72L654.96 960.86M652.97 957.99L653.60 961.13M651.62 958.26L652.23 961.40M625.33 898.92L625.80 901.88M612.23 900.73L612.44 902.51M635.04 961.17L635.53 964.33M633.45 961.41L633.93 964.58M631.86 961.65L632.33 964.82M630.27 961.88L630.73 965.05M628.68 962.11L629.13 965.28M627.09 962.33L627.52 965.50M625.49 962.55L625.92 965.72M623.90 962.76L624.31 965.93M622.31 962.96L622.71 966.14M620.71 963.16L621.10 966.34M619.12 963.35L619.49 966.53M595.98 902.32L596.21 905.31M583.69 903.05L583.77 904.85M600.76 965.14L601.00 968.33M599.03 965.27L599.26 968.46M597.29 965.39L597.51 968.58M595.56 965.50L595.77 968.69M593.83 965.61L594.02 968.80M592.09 965.71L592.27 968.90M590.36 965.80L590.52 969.00M588.62 965.89L588.78 969.09M586.89 965.97L587.03 969.17M585.15 966.04L585.28 969.24M583.42 966.11L583.53 969.31M564.55 903.39L564.53 906.39M552.52 903.10L552.45 904.90M564.06 966.39L564.03 969.59M561.51 966.36L561.46 969.56M558.96 966.32L558.90 969.52M556.41 966.26L556.33 969.46M553.86 966.19L553.76 969.39M551.32 966.10L551.20 969.30M548.77 966.00L548.63 969.20M546.22 965.88L546.07 969.08M543.68 965.75L543.51 968.95M541.14 965.61L540.94 968.80M538.59 965.45L538.38 968.64M527.27 901.24L526.95 904.22M514.16 899.59L513.90 901.37M501.11 897.48L500.58 900.44M520.52 963.88L520.18 967.06M517.40 963.53L517.03 966.71M514.27 963.16L513.88 966.33M511.15 962.76L510.74 965.94M508.03 962.35L507.60 965.52M504.92 961.91L504.46 965.08M501.81 961.45L501.33 964.62M498.70 960.97L498.20 964.13M495.59 960.46L495.07 963.62M492.49 959.94L491.95 963.09M489.40 959.39L488.83 962.54M485.84 894.41L485.19 897.34M473.21 891.37L472.76 893.11M460.70 887.89L459.85 890.77M472.14 955.91L471.45 959.03M469.16 955.23L468.44 958.35M466.18 954.53L465.44 957.65M463.20 953.82L462.44 956.92M460.23 953.08L459.45 956.18M457.26 952.32L456.46 955.41M454.30 951.54L453.48 954.63M451.35 950.74L450.50 953.82M448.40 949.92L447.53 953.00M445.46 949.07L444.57 952.15M442.52 948.21L441.61 951.28M445.44 883.01L444.46 885.84M432.84 878.42L432.20 880.10M420.42 873.40L419.25 876.16M424.96 942.58L423.92 945.61M421.92 941.53L420.86 944.55M418.89 940.45L417.81 943.46M415.87 939.35L414.76 942.35M412.86 938.23L411.73 941.22M409.86 937.08L408.71 940.07M406.86 935.92L405.69 938.89M403.87 934.73L402.68 937.70M400.90 933.52L399.68 936.48M397.93 932.29L396.69 935.24M394.97 931.03L393.71 933.97M405.96 866.88L404.67 869.59M394.17 861.00L393.34 862.60M382.60 854.72L381.12 857.33M378.86 923.75L377.48 926.64M375.34 922.05L373.94 924.93M371.84 920.33L370.41 923.19M368.36 918.57L366.90 921.42M364.89 916.78L363.41 919.62M361.43 914.96L359.93 917.79M358.00 913.12L356.47 915.93M354.58 911.24L353.02 914.03M351.17 909.32L349.59 912.11M347.79 907.38L346.18 910.15M344.42 905.41L342.79 908.17M365.25 844.28L363.63 846.80M354.14 836.89L353.12 838.38M343.30 829.12L341.51 831.53M331.31 897.36L329.59 900.05M327.52 894.90L325.76 897.58M323.74 892.41L321.96 895.07M320.00 889.87L318.19 892.51M316.28 887.30L314.44 889.92M312.58 884.69L310.72 887.29M308.91 882.04L307.03 884.63M305.28 879.36L303.36 881.92M301.66 876.63L299.72 879.18M298.08 873.87L296.12 876.40M294.53 871.07L292.54 873.58M323.63 813.43L321.68 815.71M314.07 804.98L312.86 806.31M304.81 796.21L302.71 798.36M295.84 787.13L294.54 788.38M287.19 777.75L284.95 779.75M282.72 861.34L280.64 863.77M281.80 860.55L280.69 861.84M280.88 859.76L279.77 861.04M279.96 858.96L278.85 860.25M279.05 858.17L277.93 859.45M278.14 857.37L276.02 859.77M277.23 856.57L276.10 857.84M276.32 855.76L275.19 857.04M275.41 854.96L274.28 856.23M274.51 854.15L273.37 855.41M273.61 853.34L271.46 855.71M272.71 852.52L271.57 853.78M271.81 851.71L270.67 852.96M270.92 850.89L269.77 852.14M270.03 850.07L268.87 851.32M269.14 849.25L266.96 851.59M268.25 848.42L267.09 849.66M267.37 847.59L266.20 848.83M266.48 846.76L265.32 848.00M265.60 845.93L264.43 847.16M264.73 845.09L262.52 847.40M263.85 844.25L262.67 845.48M262.98 843.41L261.80 844.63M262.10 842.57L260.92 843.79M261.24 841.72L260.05 842.94M260.37 840.87L258.13 843.16M259.51 840.02L258.31 841.23M258.64 839.17L257.45 840.38M257.78 838.32L256.58 839.52M256.93 837.46L255.72 838.66M256.07 836.60L253.80 838.85M255.22 835.74L254.01 836.93M254.37 834.87L253.16 836.06M253.52 834.01L252.31 835.19M252.68 833.14L251.46 834.32M251.84 832.27L249.53 834.49M251.00 831.39L249.77 832.57M250.16 830.52L248.93 831.69M249.32 829.64L248.09 830.81M248.49 828.76L247.25 829.92M247.66 827.87L245.32 830.06M246.83 826.99L245.59 828.15M246.01 826.10L244.76 827.26M245.18 825.21L243.93 826.36M244.36 824.32L243.11 825.47M243.54 823.42L241.18 825.58M242.73 822.53L241.47 823.67M241.91 821.63L240.65 822.77M241.10 820.73L239.84 821.86M240.29 819.82L239.03 820.95M239.49 818.92L237.10 821.04M274.74 763.04L272.40 764.92M266.83 752.85L265.39 753.92M259.29 742.39L256.83 744.10M252.11 731.68L250.59 732.66M245.29 720.73L242.72 722.27M225.62 802.49L223.12 804.49M224.80 801.47L223.47 802.53M223.99 800.45L222.66 801.51M223.18 799.43L221.85 800.48M222.37 798.40L221.04 799.45M221.57 797.37L219.05 799.34M220.77 796.34L219.43 797.38M219.97 795.31L218.63 796.35M219.18 794.28L217.83 795.31M218.39 793.24L217.04 794.27M217.60 792.20L215.05 794.13M216.82 791.16L215.46 792.18M216.04 790.11L214.67 791.13M215.26 789.07L213.89 790.08M214.48 788.02L213.11 789.03M213.71 786.97L211.13 788.86M212.94 785.91L211.57 786.91M212.18 784.86L210.80 785.85M211.41 783.80L210.03 784.79M210.65 782.74L209.27 783.73M209.90 781.68L207.29 783.53M209.14 780.61L207.76 781.59M208.39 779.55L207.00 780.52M207.65 778.48L206.25 779.45M206.90 777.41L205.51 778.37M206.16 776.33L203.53 778.15M205.43 775.26L204.02 776.22M204.69 774.18L203.29 775.13M203.96 773.10L202.55 774.05M203.23 772.02L201.82 772.96M202.51 770.93L199.85 772.71M201.79 769.85L200.37 770.78M201.07 768.76L199.65 769.69M200.36 767.67L198.93 768.60M199.64 766.57L198.22 767.50M198.94 765.48L196.25 767.21M198.23 764.38L196.80 765.30M197.53 763.28L196.10 764.19M196.83 762.18L195.39 763.09M196.14 761.08L194.70 761.98M195.44 759.97L192.73 761.66M194.76 758.86L193.31 759.76M194.07 757.75L192.62 758.64M193.39 756.64L191.94 757.53M192.71 755.53L191.26 756.41M192.03 754.41L189.29 756.07M191.36 753.30L189.90 754.17M190.69 752.18L189.23 753.05M190.03 751.05L188.57 751.92M189.37 749.93L187.90 750.79M188.71 748.80L185.94 750.42M235.16 702.68L232.50 704.08M229.13 690.71L227.51 691.49M223.54 678.53L220.79 679.73M218.38 666.16L216.71 666.82M213.67 653.61L210.84 654.62M209.41 640.90L207.69 641.45M179.40 732.00L176.57 733.49M178.59 730.47L177.09 731.25M177.80 728.93L176.28 729.71M177.00 727.39L175.49 728.16M176.22 725.84L174.70 726.61M175.44 724.29L172.58 725.72M174.66 722.74L173.14 723.49M173.90 721.18L172.37 721.93M173.13 719.62L171.61 720.37M172.38 718.06L170.85 718.80M171.63 716.50L168.74 717.88M170.89 714.93L169.35 715.66M170.15 713.36L168.61 714.08M169.42 711.79L167.88 712.50M168.70 710.21L167.15 710.92M167.98 708.63L165.06 709.95M167.27 707.05L165.72 707.75M166.56 705.47L165.01 706.16M165.86 703.88L164.31 704.56M165.17 702.29L163.61 702.97M164.48 700.70L161.54 701.96M163.80 699.10L162.24 699.77M163.13 697.51L161.56 698.16M162.46 695.91L160.89 696.56M161.80 694.30L160.23 694.95M161.15 692.70L158.18 693.90M160.50 691.09L158.92 691.72M159.85 689.48L158.27 690.10M159.22 687.86L157.64 688.48M158.59 686.25L157.00 686.86M157.97 684.63L154.98 685.77M157.35 683.01L155.76 683.61M156.74 681.39L155.15 681.98M156.14 679.76L154.54 680.35M155.54 678.13L153.94 678.71M154.95 676.50L151.94 677.59M154.36 674.87L152.76 675.44M153.78 673.23L152.18 673.80M153.21 671.60L151.61 672.15M152.65 669.96L151.04 670.51M152.09 668.31L149.06 669.34M151.54 666.67L149.92 667.21M150.99 665.02L149.38 665.56M150.45 663.38L148.84 663.90M149.92 661.73L148.30 662.24M149.39 660.07L146.34 661.04M148.87 658.42L147.25 658.92M148.36 656.76L146.74 657.26M147.86 655.10L146.23 655.60M147.36 653.44L145.73 653.93M146.86 651.78L143.79 652.68M203.17 618.81L200.26 619.53M200.25 606.16L198.48 606.53M197.76 593.42L194.81 593.94M195.72 580.60L193.93 580.85M194.12 567.71L191.13 568.03M192.96 554.78L191.17 554.91M192.26 541.82L189.26 541.93M142.04 634.06L138.94 634.83M141.59 632.21L139.94 632.61M141.14 630.36L139.49 630.76M140.70 628.51L139.04 628.90M140.26 626.65L138.61 627.03M139.84 624.80L136.72 625.50M139.42 622.94L137.76 623.31M139.01 621.08L137.35 621.44M138.61 619.22L136.95 619.57M138.22 617.35L136.56 617.70M137.84 615.49L134.70 616.13M137.46 613.62L135.79 613.95M137.09 611.75L135.42 612.08M136.73 609.88L135.06 610.20M136.38 608.01L134.71 608.32M136.04 606.14L132.89 606.71M135.70 604.26L134.03 604.56M135.37 602.39L133.70 602.68M135.05 600.51L133.38 600.79M134.74 598.63L133.06 598.91M134.44 596.75L131.28 597.26M134.14 594.87L132.46 595.13M133.86 592.99L132.18 593.24M133.58 591.11L131.90 591.35M133.31 589.22L131.63 589.46M133.05 587.34L129.88 587.77M132.79 585.45L131.11 585.67M132.55 583.56L130.86 583.78M132.31 581.67L130.62 581.88M132.08 579.78L130.39 579.98M131.86 577.89L128.68 578.25M131.65 576.00L129.96 576.18M131.44 574.10L129.75 574.28M131.24 572.21L129.55 572.38M131.06 570.32L129.36 570.48M130.88 568.42L127.69 568.72M130.70 566.52L129.01 566.67M130.54 564.63L128.85 564.77M130.39 562.73L128.69 562.86M130.24 560.83L128.54 560.96M130.10 558.93L126.91 559.16M129.97 557.03L128.27 557.14M129.85 555.13L128.15 555.24M129.73 553.23L128.04 553.33M129.63 551.33L127.93 551.42M129.53 549.43L126.33 549.58M129.44 547.53L127.74 547.60M129.36 545.62L127.66 545.69M129.29 543.72L127.59 543.78M129.22 541.82L127.52 541.87M129.16 539.91L125.97 540.00M192.03 523.12L189.03 523.08M192.46 509.25L190.67 509.16M193.41 495.40L190.42 495.14M194.87 481.60L193.08 481.38M196.83 467.86L193.87 467.38M199.30 454.21L197.54 453.85M202.28 440.65L199.36 439.95M205.75 427.22L204.02 426.73M129.04 522.31L125.84 522.27M129.07 519.97L127.37 519.93M129.12 517.62L127.42 517.58M129.18 515.27L127.48 515.22M129.26 512.92L127.56 512.87M129.34 510.58L126.14 510.45M129.44 508.23L127.74 508.16M129.55 505.89L127.86 505.80M129.68 503.54L127.98 503.45M129.81 501.20L128.12 501.09M129.96 498.85L126.77 498.64M130.12 496.51L128.43 496.39M130.30 494.17L128.60 494.04M130.49 491.83L128.79 491.69M130.69 489.49L128.99 489.34M130.90 487.15L127.71 486.85M131.12 484.81L129.43 484.65M131.36 482.48L129.67 482.30M131.61 480.14L129.92 479.96M131.87 477.81L130.18 477.62M132.14 475.48L128.97 475.10M132.43 473.15L130.74 472.94M132.73 470.82L131.05 470.60M133.04 468.49L131.36 468.26M133.37 466.17L131.68 465.93M133.70 463.84L130.54 463.38M134.05 461.52L132.37 461.26M134.41 459.20L132.74 458.93M134.79 456.88L133.11 456.61M135.18 454.57L133.50 454.28M135.57 452.25L132.42 451.70M135.99 449.94L134.31 449.64M136.41 447.63L134.74 447.32M136.85 445.32L135.18 445.00M137.29 443.02L135.63 442.69M137.75 440.72L134.62 440.08M138.23 438.42L136.56 438.07M138.71 436.12L137.05 435.76M139.21 433.83L137.55 433.46M139.72 431.53L138.06 431.16M140.24 429.24L137.12 428.52M140.78 426.96L139.12 426.57M141.32 424.67L139.67 424.27M141.88 422.39L140.23 421.98M142.45 420.12L140.81 419.70M143.04 417.84L139.94 417.04M143.63 415.57L141.99 415.13M144.24 413.30L142.60 412.86M144.86 411.04L143.22 410.58M145.49 408.78L143.85 408.31M146.13 406.52L143.06 405.63M211.78 407.63L208.94 406.67M216.30 395.02L214.62 394.38M221.26 382.57L218.50 381.41M226.67 370.31L225.04 369.55M232.51 358.25L229.83 356.89M238.78 346.40L237.20 345.53M245.46 334.79L242.89 333.24M252.56 323.42L251.05 322.44M152.10 387.46L149.07 386.43M152.89 385.15L151.28 384.60M153.69 382.85L152.08 382.28M154.50 380.55L152.90 379.98M155.33 378.25L153.73 377.67M156.16 375.96L153.16 374.85M157.02 373.68L155.42 373.08M157.88 371.40L156.29 370.79M158.76 369.12L157.17 368.51M159.64 366.85L158.06 366.23M160.55 364.59L157.58 363.39M161.46 362.33L159.89 361.68M162.39 360.07L160.82 359.42M163.33 357.82L161.76 357.16M164.28 355.58L162.72 354.91M165.24 353.34L162.31 352.06M166.22 351.10L164.67 350.42M167.21 348.87L165.66 348.18M168.21 346.65L166.66 345.95M169.23 344.43L167.68 343.72M170.25 342.22L167.35 340.87M171.29 340.02L169.75 339.29M172.34 337.81L170.81 337.08M173.40 335.62L171.88 334.88M174.48 333.43L172.96 332.68M175.57 331.25L172.71 329.81M176.67 329.07L175.15 328.30M177.78 326.90L176.27 326.12M178.90 324.74L177.40 323.95M180.04 322.58L178.54 321.79M181.19 320.43L178.37 318.92M182.35 318.29L180.85 317.47M183.52 316.15L182.03 315.33M184.70 314.01L183.22 313.19M185.90 311.89L184.42 311.05M187.10 309.77L184.33 308.18M188.32 307.66L186.85 306.81M189.55 305.55L188.09 304.69M190.79 303.46L189.33 302.59M192.05 301.36L190.59 300.49M193.31 299.28L190.58 297.61M194.59 297.20L193.15 296.31M195.88 295.13L194.44 294.23M197.18 293.07L195.74 292.16M198.49 291.01L197.06 290.10M199.81 288.97L197.13 287.22M201.15 286.93L199.73 285.99M202.49 284.89L201.08 283.95M203.85 282.87L202.44 281.92M205.22 280.85L203.81 279.89M206.60 278.84L203.96 277.02M267.69 301.81L265.30 300.01M275.97 291.23L274.57 290.10M284.62 280.96L282.36 278.99M293.64 271.00L292.32 269.77M303.00 261.37L300.89 259.24M312.70 252.08L311.48 250.76M322.73 243.14L320.77 240.87M333.07 234.57L331.95 233.16M343.71 226.37L341.93 223.96M354.64 218.56L353.62 217.08M365.84 211.14L364.23 208.61M377.30 204.13L376.39 202.58M389.00 197.54L387.58 194.90M400.94 191.36L400.14 189.75M413.08 185.62L411.85 182.89M425.42 180.32L424.74 178.65M437.94 175.46L436.91 172.64M450.63 171.05L450.07 169.34M463.47 167.10L462.64 164.22M476.44 163.61L476.01 161.86M489.53 160.58L488.91 157.65M502.72 158.03L502.41 156.26M515.99 155.95L515.58 152.98M529.33 154.35L529.14 152.55M542.71 153.22L542.52 150.23M217.39 263.88L214.84 261.96M222.11 257.74L220.77 256.69M226.94 251.67L225.62 250.60M231.87 245.70L230.57 244.60M236.91 239.81L235.63 238.69M242.06 234.01L239.68 231.87M247.30 228.31L246.06 227.15M252.65 222.70L251.42 221.51M258.09 217.18L256.89 215.98M263.63 211.76L262.45 210.54M269.26 206.44L267.09 204.09M274.99 201.22L273.86 199.95M280.81 196.10L279.70 194.82M286.72 191.09L285.63 189.78M292.71 186.18L291.65 184.85M298.79 181.37L296.83 178.85M304.96 176.68L303.94 175.32M311.21 172.10L310.21 170.72M317.54 167.62L316.57 166.23M323.94 163.26L323.00 161.85M330.42 159.01L328.69 156.32M336.98 154.88L336.09 153.44M343.61 150.87L342.74 149.40M350.31 146.97L349.46 145.49M357.07 143.19L356.26 141.70M363.90 139.53L362.42 136.70M370.80 135.99L370.04 134.47M377.76 132.58L377.02 131.05M384.77 129.29L384.06 127.74M391.84 126.12L391.16 124.56M398.97 123.08L397.74 120.12M406.15 120.16L405.53 118.58M413.38 117.38L412.79 115.78M420.66 114.72L420.09 113.11M427.99 112.19L427.45 110.57M435.36 109.78L434.39 106.73M442.77 107.51L442.28 105.89M450.21 105.38L449.76 103.74M457.70 103.37L457.27 101.72M465.22 101.50L464.82 99.84M472.77 99.75L472.08 96.63M480.35 98.15L480.01 96.48M487.96 96.67L487.65 95.00M495.59 95.34L495.31 93.66M503.25 94.13L503.00 92.45M510.92 93.07L510.51 89.89M518.62 92.13L518.43 90.44M526.33 91.34L526.17 89.64M534.05 90.68L533.92 88.98M541.78 90.15L541.68 88.46M549.52 89.77L549.39 86.57" stroke="#000" stroke-width="1.1" fill="none"/>
<text x="248" y="112" font-size="17" text-anchor="start" font-style="italic">Bacteroidota</text>
<text x="36" y="322" font-size="17" text-anchor="start" font-style="italic">Halobacteriota</text>
<text x="1" y="464" font-size="17" text-anchor="start" font-style="italic">Firmicutes_G</text>
<text x="2" y="601" font-size="17" text-anchor="start" font-style="italic">Firmicutes_A</text>
<text x="78" y="715" font-size="17" text-anchor="start">Others</text>
<text x="82" y="806" font-size="17" text-anchor="start" font-style="italic">Chloroflexota</text>
<text x="118" y="874" font-size="17" text-anchor="start" font-style="italic">Actinobacteriota</text>
<text x="188" y="910" font-size="17" text-anchor="start" font-style="italic">Cloacimonadota</text>
<text x="259" y="938" font-size="17" text-anchor="start" font-style="italic">Spirochaetota</text>
<text x="274" y="962" font-size="17" text-anchor="start" font-style="italic">Verrucomicrobiota</text>
<text x="349" y="983" font-size="17" text-anchor="start">CSSED10-310</text>
<text x="428" y="1008" font-size="17" text-anchor="start" font-style="italic">Firmicutes</text>
<text x="430" y="1032" font-size="17" text-anchor="start" font-style="italic">Desulfobacterota</text>
<text x="464" y="1054" font-size="17" text-anchor="start" font-style="italic">Desulfobacterota_G</text>
<text x="625" y="1032" font-size="17" text-anchor="start" font-style="italic">Patescibacteria</text>
<text x="654" y="1008" font-size="17" text-anchor="start" font-style="italic">Atribacterota</text>
<text x="689" y="986" font-size="17" text-anchor="start">PL</text>
<text x="718" y="979" font-size="17" text-anchor="start">CE</text>
<text x="802" y="944" font-size="17" text-anchor="start">CBM</text>
<text x="1001" y="713" font-size="17" text-anchor="start">GH</text>
<text x="884.5" y="183" font-size="17" text-anchor="start">GT</text>
<path d="M505 973V995" stroke="#333" stroke-width="0.9"/>
<path d="M552 975V1015" stroke="#333" stroke-width="0.9"/>
<path d="M592 975V1037" stroke="#333" stroke-width="0.9"/>
<path d="M630 971V1013" stroke="#333" stroke-width="0.9"/>
<path d="M660 967V990" stroke="#333" stroke-width="0.9"/>
<text x="5" y="30.1" font-size="27" font-weight="bold">A</text>
</g>
<g id="panelBC">
<rect x="1026.3" y="11.5" width="813.2" height="97.1" fill="#fff" stroke="#333" stroke-width="1.1"/>
<rect x="1028.30" y="14.40" width="20.225" height="30.55" fill="#E80023" stroke="#fff" stroke-opacity="0.75" stroke-width="1.1"/>
<rect x="1048.52" y="14.40" width="20.225" height="30.55" fill="#FF0000" stroke="#fff" stroke-opacity="0.75" stroke-width="1.1"/>
<rect x="1068.75" y="14.40" width="20.225" height="30.55" fill="#EE001D" stroke="#fff" stroke-opacity="0.75" stroke-width="1.1"/>
<rect x="1088.97" y="14.40" width="20.225" height="30.55" fill="#E20029" stroke="#fff" stroke-opacity="0.75" stroke-width="1.1"/>
<rect x="1109.20" y="14.40" width="20.225" height="30.55" fill="#D10037" stroke="#fff" stroke-opacity="0.75" stroke-width="1.1"/>
<rect x="1129.42" y="14.40" width="20.225" height="30.55" fill="#A10056" stroke="#fff" stroke-opacity="0.75" stroke-width="1.1"/>
<rect x="1149.65" y="14.40" width="20.225" height="30.55" fill="#D10037" stroke="#fff" stroke-opacity="0.75" stroke-width="1.1"/>
<rect x="1169.88" y="14.40" width="20.225" height="30.55" fill="#CB003B" stroke="#fff" stroke-opacity="0.75" stroke-width="1.1"/>
<rect x="1190.10" y="14.40" width="20.225" height="30.55" fill="#B90047" stroke="#fff" stroke-opacity="0.75" stroke-width="1.1"/>
<rect x="1210.33" y="14.40" width="20.225" height="30.55" fill="#B3004B" stroke="#fff" stroke-opacity="0.75" stroke-width="1.1"/>
<rect x="1230.55" y="14.40" width="20.225" height="30.55" fill="#CB003B" stroke="#fff" stroke-opacity="0.75" stroke-width="1.1"/>
<rect x="1250.78" y="14.40" width="20.225" height="30.55" fill="#A70053" stroke="#fff" stroke-opacity="0.75" stroke-width="1.1"/>
<rect x="1271.00" y="14.40" width="20.225" height="30.55" fill="#94005E" stroke="#fff" stroke-opacity="0.75" stroke-width="1.1"/>
<rect x="1291.22" y="14.40" width="20.225" height="30.55" fill="#A70053" stroke="#fff" stroke-opacity="0.75" stroke-width="1.1"/>
<rect x="1311.45" y="14.40" width="20.225" height="30.55" fill="#A70053" stroke="#fff" stroke-opacity="0.75" stroke-width="1.1"/>
<rect x="1331.67" y="14.40" width="20.225" height="30.55" fill="#B3004B" stroke="#fff" stroke-opacity="0.75" stroke-width="1.1"/>
<rect x="1351.90" y="14.40" width="20.225" height="30.55" fill="#9A005A" stroke="#fff" stroke-opacity="0.75" stroke-width="1.1"/>
<rect x="1372.12" y="14.40" width="20.225" height="30.55" fill="#9A005A" stroke="#fff" stroke-opacity="0.75" stroke-width="1.1"/>
<rect x="1392.35" y="14.40" width="20.225" height="30.55" fill="#94005E" stroke="#fff" stroke-opacity="0.75" stroke-width="1.1"/>
<rect x="1412.58" y="14.40" width="20.225" height="30.55" fill="#56007B" stroke="#fff" stroke-opacity="0.75" stroke-width="1.1"/>
<rect x="1432.80" y="14.40" width="20.225" height="30.55" fill="#8A0063" stroke="#fff" stroke-opacity="0.75" stroke-width="1.1"/>
<rect x="1453.03" y="14.40" width="20.225" height="30.55" fill="#7B006B" stroke="#fff" stroke-opacity="0.75" stroke-width="1.1"/>
<rect x="1473.25" y="14.40" width="20.225" height="30.55" fill="#6B0072" stroke="#fff" stroke-opacity="0.75" stroke-width="1.1"/>
<rect x="1493.47" y="14.40" width="20.225" height="30.55" fill="#5C0078" stroke="#fff" stroke-opacity="0.75" stroke-width="1.1"/>
<rect x="1513.70" y="14.40" width="20.225" height="30.55" fill="#8A0063" stroke="#fff" stroke-opacity="0.75" stroke-width="1.1"/>
<rect x="1533.92" y="14.40" width="20.225" height="30.55" fill="#75006E" stroke="#fff" stroke-opacity="0.75" stroke-width="1.1"/>
<rect x="1554.15" y="14.40" width="20.225" height="30.55" fill="#7B006B" stroke="#fff" stroke-opacity="0.75" stroke-width="1.1"/>
<rect x="1574.38" y="14.40" width="20.225" height="30.55" fill="#7B006B" stroke="#fff" stroke-opacity="0.75" stroke-width="1.1"/>
<rect x="1594.60" y="14.40" width="20.225" height="30.55" fill="#7B006B" stroke="#fff" stroke-opacity="0.75" stroke-width="1.1"/>
<rect x="1614.83" y="14.40" width="20.225" height="30.55" fill="#5F0077" stroke="#fff" stroke-opacity="0.75" stroke-width="1.1"/>
<rect x="1635.05" y="14.40" width="20.225" height="30.55" fill="#440080" stroke="#fff" stroke-opacity="0.75" stroke-width="1.1"/>
<rect x="1655.28" y="14.40" width="20.225" height="30.55" fill="#3A0083" stroke="#fff" stroke-opacity="0.75" stroke-width="1.1"/>
<rect x="1675.50" y="14.40" width="20.225" height="30.55" fill="#301895" stroke="#fff" stroke-opacity="0.75" stroke-width="1.1"/>
<rect x="1695.72" y="14.40" width="20.225" height="30.55" fill="#230F91" stroke="#fff" stroke-opacity="0.75" stroke-width="1.1"/>
<rect x="1715.95" y="14.40" width="20.225" height="30.55" fill="#4D30A0" stroke="#fff" stroke-opacity="0.75" stroke-width="1.1"/>
<rect x="1736.17" y="14.40" width="20.225" height="30.55" fill="#40259B" stroke="#fff" stroke-opacity="0.75" stroke-width="1.1"/>
<rect x="1756.40" y="14.40" width="20.225" height="30.55" fill="#795CB6" stroke="#fff" stroke-opacity="0.75" stroke-width="1.1"/>
<rect x="1776.62" y="14.40" width="20.225" height="30.55" fill="#5638A4" stroke="#fff" stroke-opacity="0.75" stroke-width="1.1"/>
<rect x="1796.85" y="14.40" width="20.225" height="30.55" fill="#BEACDB" stroke="#fff" stroke-opacity="0.75" stroke-width="1.1"/>
<rect x="1817.08" y="14.40" width="20.225" height="30.55" fill="#D2C5E7" stroke="#fff" stroke-opacity="0.75" stroke-width="1.1"/>
<rect x="1028.30" y="44.95" width="20.225" height="30.55" fill="#B90047" stroke="#fff" stroke-opacity="0.75" stroke-width="1.1"/>
<rect x="1048.52" y="44.95" width="20.225" height="30.55" fill="#AD004F" stroke="#fff" stroke-opacity="0.75" stroke-width="1.1"/>
<rect x="1068.75" y="44.95" width="20.225" height="30.55" fill="#94005E" stroke="#fff" stroke-opacity="0.75" stroke-width="1.1"/>
<rect x="1088.97" y="44.95" width="20.225" height="30.55" fill="#9A005A" stroke="#fff" stroke-opacity="0.75" stroke-width="1.1"/>
<rect x="1109.20" y="44.95" width="20.225" height="30.55" fill="#A70053" stroke="#fff" stroke-opacity="0.75" stroke-width="1.1"/>
<rect x="1129.42" y="44.95" width="20.225" height="30.55" fill="#9A005A" stroke="#fff" stroke-opacity="0.75" stroke-width="1.1"/>
<rect x="1149.65" y="44.95" width="20.225" height="30.55" fill="#700070" stroke="#fff" stroke-opacity="0.75" stroke-width="1.1"/>
<rect x="1169.88" y="44.95" width="20.225" height="30.55" fill="#700070" stroke="#fff" stroke-opacity="0.75" stroke-width="1.1"/>
<rect x="1190.10" y="44.95" width="20.225" height="30.55" fill="#78006C" stroke="#fff" stroke-opacity="0.75" stroke-width="1.1"/>
<rect x="1210.33" y="44.95" width="20.225" height="30.55" fill="#56007B" stroke="#fff" stroke-opacity="0.75" stroke-width="1.1"/>
<rect x="1230.55" y="44.95" width="20.225" height="30.55" fill="#5F0077" stroke="#fff" stroke-opacity="0.75" stroke-width="1.1"/>
<rect x="1250.78" y="44.95" width="20.225" height="30.55" fill="#4B007E" stroke="#fff" stroke-opacity="0.75" stroke-width="1.1"/>
<rect x="1271.00" y="44.95" width="20.225" height="30.55" fill="#680073" stroke="#fff" stroke-opacity="0.75" stroke-width="1.1"/>
<rect x="1291.22" y="44.95" width="20.225" height="30.55" fill="#190089" stroke="#fff" stroke-opacity="0.75" stroke-width="1.1"/>
<rect x="1311.45" y="44.95" width="20.225" height="30.55" fill="#470080" stroke="#fff" stroke-opacity="0.75" stroke-width="1.1"/>
<rect x="1331.67" y="44.95" width="20.225" height="30.55" fill="#3F0082" stroke="#fff" stroke-opacity="0.75" stroke-width="1.1"/>
<rect x="1351.90" y="44.95" width="20.225" height="30.55" fill="#03018B" stroke="#fff" stroke-opacity="0.75" stroke-width="1.1"/>
<rect x="1372.12" y="44.95" width="20.225" height="30.55" fill="#230F91" stroke="#fff" stroke-opacity="0.75" stroke-width="1.1"/>
<rect x="1392.35" y="44.95" width="20.225" height="30.55" fill="#10048D" stroke="#fff" stroke-opacity="0.75" stroke-width="1.1"/>
<rect x="1412.58" y="44.95" width="20.225" height="30.55" fill="#370084" stroke="#fff" stroke-opacity="0.75" stroke-width="1.1"/>
<rect x="1432.80" y="44.95" width="20.225" height="30.55" fill="#5F0077" stroke="#fff" stroke-opacity="0.75" stroke-width="1.1"/>
<rect x="1453.03" y="44.95" width="20.225" height="30.55" fill="#5F0077" stroke="#fff" stroke-opacity="0.75" stroke-width="1.1"/>
<rect x="1473.25" y="44.95" width="20.225" height="30.55" fill="#19098F" stroke="#fff" stroke-opacity="0.75" stroke-width="1.1"/>
<rect x="1493.47" y="44.95" width="20.225" height="30.55" fill="#5F0077" stroke="#fff" stroke-opacity="0.75" stroke-width="1.1"/>
<rect x="1513.70" y="44.95" width="20.225" height="30.55" fill="#301895" stroke="#fff" stroke-opacity="0.75" stroke-width="1.1"/>
<rect x="1533.92" y="44.95" width="20.225" height="30.55" fill="#44299D" stroke="#fff" stroke-opacity="0.75" stroke-width="1.1"/>
<rect x="1554.15" y="44.95" width="20.225" height="30.55" fill="#6143AA" stroke="#fff" stroke-opacity="0.75" stroke-width="1.1"/>
<rect x="1574.38" y="44.95" width="20.225" height="30.55" fill="#6C4EAF" stroke="#fff" stroke-opacity="0.75" stroke-width="1.1"/>
<rect x="1594.60" y="44.95" width="20.225" height="30.55" fill="#6648AC" stroke="#fff" stroke-opacity="0.75" stroke-width="1.1"/>
<rect x="1614.83" y="44.95" width="20.225" height="30.55" fill="#5235A3" stroke="#fff" stroke-opacity="0.75" stroke-width="1.1"/>
<rect x="1635.05" y="44.95" width="20.225" height="30.55" fill="#370084" stroke="#fff" stroke-opacity="0.75" stroke-width="1.1"/>
<rect x="1655.28" y="44.95" width="20.225" height="30.55" fill="#967CC5" stroke="#fff" stroke-opacity="0.75" stroke-width="1.1"/>
<rect x="1675.50" y="44.95" width="20.225" height="30.55" fill="#9D84C9" stroke="#fff" stroke-opacity="0.75" stroke-width="1.1"/>
<rect x="1695.72" y="44.95" width="20.225" height="30.55" fill="#6143AA" stroke="#fff" stroke-opacity="0.75" stroke-width="1.1"/>
<rect x="1715.95" y="44.95" width="20.225" height="30.55" fill="#9277C3" stroke="#fff" stroke-opacity="0.75" stroke-width="1.1"/>
<rect x="1736.17" y="44.95" width="20.225" height="30.55" fill="#8B6FBF" stroke="#fff" stroke-opacity="0.75" stroke-width="1.1"/>
<rect x="1756.40" y="44.95" width="20.225" height="30.55" fill="#E1D8EF" stroke="#fff" stroke-opacity="0.75" stroke-width="1.1"/>
<rect x="1776.62" y="44.95" width="20.225" height="30.55" fill="#D7CAE9" stroke="#fff" stroke-opacity="0.75" stroke-width="1.1"/>
<rect x="1796.85" y="44.95" width="20.225" height="30.55" fill="#F2EDF8" stroke="#fff" stroke-opacity="0.75" stroke-width="1.1"/>
<rect x="1817.08" y="44.95" width="20.225" height="30.55" fill="#FCFBFE" stroke="#fff" stroke-opacity="0.75" stroke-width="1.1"/>
<rect x="1028.30" y="75.50" width="20.225" height="30.55" fill="#D10037" stroke="#fff" stroke-opacity="0.75" stroke-width="1.1"/>
<rect x="1048.52" y="75.50" width="20.225" height="30.55" fill="#C5003F" stroke="#fff" stroke-opacity="0.75" stroke-width="1.1"/>
<rect x="1068.75" y="75.50" width="20.225" height="30.55" fill="#BF0043" stroke="#fff" stroke-opacity="0.75" stroke-width="1.1"/>
<rect x="1088.97" y="75.50" width="20.225" height="30.55" fill="#BF0043" stroke="#fff" stroke-opacity="0.75" stroke-width="1.1"/>
<rect x="1109.20" y="75.50" width="20.225" height="30.55" fill="#860065" stroke="#fff" stroke-opacity="0.75" stroke-width="1.1"/>
<rect x="1129.42" y="75.50" width="20.225" height="30.55" fill="#BF0043" stroke="#fff" stroke-opacity="0.75" stroke-width="1.1"/>
<rect x="1149.65" y="75.50" width="20.225" height="30.55" fill="#94005E" stroke="#fff" stroke-opacity="0.75" stroke-width="1.1"/>
<rect x="1169.88" y="75.50" width="20.225" height="30.55" fill="#860065" stroke="#fff" stroke-opacity="0.75" stroke-width="1.1"/>
<rect x="1190.10" y="75.50" width="20.225" height="30.55" fill="#700070" stroke="#fff" stroke-opacity="0.75" stroke-width="1.1"/>
<rect x="1210.33" y="75.50" width="20.225" height="30.55" fill="#94005E" stroke="#fff" stroke-opacity="0.75" stroke-width="1.1"/>
<rect x="1230.55" y="75.50" width="20.225" height="30.55" fill="#470080" stroke="#fff" stroke-opacity="0.75" stroke-width="1.1"/>
<rect x="1250.78" y="75.50" width="20.225" height="30.55" fill="#680073" stroke="#fff" stroke-opacity="0.75" stroke-width="1.1"/>
<rect x="1271.00" y="75.50" width="20.225" height="30.55" fill="#5F0077" stroke="#fff" stroke-opacity="0.75" stroke-width="1.1"/>
<rect x="1291.22" y="75.50" width="20.225" height="30.55" fill="#700070" stroke="#fff" stroke-opacity="0.75" stroke-width="1.1"/>
<rect x="1311.45" y="75.50" width="20.225" height="30.55" fill="#4B007E" stroke="#fff" stroke-opacity="0.75" stroke-width="1.1"/>
<rect x="1331.67" y="75.50" width="20.225" height="30.55" fill="#240088" stroke="#fff" stroke-opacity="0.75" stroke-width="1.1"/>
<rect x="1351.90" y="75.50" width="20.225" height="30.55" fill="#700070" stroke="#fff" stroke-opacity="0.75" stroke-width="1.1"/>
<rect x="1372.12" y="75.50" width="20.225" height="30.55" fill="#5A0079" stroke="#fff" stroke-opacity="0.75" stroke-width="1.1"/>
<rect x="1392.35" y="75.50" width="20.225" height="30.55" fill="#5F0077" stroke="#fff" stroke-opacity="0.75" stroke-width="1.1"/>
<rect x="1412.58" y="75.50" width="20.225" height="30.55" fill="#8D0061" stroke="#fff" stroke-opacity="0.75" stroke-width="1.1"/>
<rect x="1432.80" y="75.50" width="20.225" height="30.55" fill="#3E249A" stroke="#fff" stroke-opacity="0.75" stroke-width="1.1"/>
<rect x="1453.03" y="75.50" width="20.225" height="30.55" fill="#361D97" stroke="#fff" stroke-opacity="0.75" stroke-width="1.1"/>
<rect x="1473.25" y="75.50" width="20.225" height="30.55" fill="#56007B" stroke="#fff" stroke-opacity="0.75" stroke-width="1.1"/>
<rect x="1493.47" y="75.50" width="20.225" height="30.55" fill="#19098F" stroke="#fff" stroke-opacity="0.75" stroke-width="1.1"/>
<rect x="1513.70" y="75.50" width="20.225" height="30.55" fill="#44299D" stroke="#fff" stroke-opacity="0.75" stroke-width="1.1"/>
<rect x="1533.92" y="75.50" width="20.225" height="30.55" fill="#4A2D9F" stroke="#fff" stroke-opacity="0.75" stroke-width="1.1"/>
<rect x="1554.15" y="75.50" width="20.225" height="30.55" fill="#301895" stroke="#fff" stroke-opacity="0.75" stroke-width="1.1"/>
<rect x="1574.38" y="75.50" width="20.225" height="30.55" fill="#361D97" stroke="#fff" stroke-opacity="0.75" stroke-width="1.1"/>
<rect x="1594.60" y="75.50" width="20.225" height="30.55" fill="#5235A3" stroke="#fff" stroke-opacity="0.75" stroke-width="1.1"/>
<rect x="1614.83" y="75.50" width="20.225" height="30.55" fill="#7254B2" stroke="#fff" stroke-opacity="0.75" stroke-width="1.1"/>
<rect x="1635.05" y="75.50" width="20.225" height="30.55" fill="#FBFBFD" stroke="#fff" stroke-opacity="0.75" stroke-width="1.1"/>
<rect x="1655.28" y="75.50" width="20.225" height="30.55" fill="#A78FCE" stroke="#fff" stroke-opacity="0.75" stroke-width="1.1"/>
<rect x="1675.50" y="75.50" width="20.225" height="30.55" fill="#785AB5" stroke="#fff" stroke-opacity="0.75" stroke-width="1.1"/>
<rect x="1695.72" y="75.50" width="20.225" height="30.55" fill="#BEACDB" stroke="#fff" stroke-opacity="0.75" stroke-width="1.1"/>
<rect x="1715.95" y="75.50" width="20.225" height="30.55" fill="#8467BB" stroke="#fff" stroke-opacity="0.75" stroke-width="1.1"/>
<rect x="1736.17" y="75.50" width="20.225" height="30.55" fill="#C9B9E1" stroke="#fff" stroke-opacity="0.75" stroke-width="1.1"/>
<rect x="1756.40" y="75.50" width="20.225" height="30.55" fill="#5E40A8" stroke="#fff" stroke-opacity="0.75" stroke-width="1.1"/>
<rect x="1776.62" y="75.50" width="20.225" height="30.55" fill="#FBFBFD" stroke="#fff" stroke-opacity="0.75" stroke-width="1.1"/>
<rect x="1796.85" y="75.50" width="20.225" height="30.55" fill="#DBCFEB" stroke="#fff" stroke-opacity="0.75" stroke-width="1.1"/>
<rect x="1817.08" y="75.50" width="20.225" height="30.55" fill="#BEACDB" stroke="#fff" stroke-opacity="0.75" stroke-width="1.1"/>
<text x="1020.90" y="37.17" font-size="17.1" text-anchor="end" fill="#000">SZBP</text>
<path d="M1023.6 29.7H1026" stroke="#333" stroke-width="1.1"/>
<text x="1020.90" y="67.72" font-size="17.1" text-anchor="end" fill="#000">MWBP</text>
<path d="M1023.6 60.2H1026" stroke="#333" stroke-width="1.1"/>
<text x="1020.90" y="98.28" font-size="17.1" text-anchor="end" fill="#000">KBP</text>
<path d="M1023.6 90.8H1026" stroke="#333" stroke-width="1.1"/>
<path d="M1038.41 108.8V112" stroke="#333" stroke-width="1.1"/>
<text x="1044.71" y="113.60" font-size="16.3" text-anchor="end" fill="#000" transform="rotate(-90 1044.71 113.60)">GH2</text>
<rect x="1028.30" y="168.5" width="20.225" height="16.8" fill="#7FC97F" stroke="#fff" stroke-opacity="0.6" stroke-width="0.9"/>
<path d="M1058.64 108.8V112" stroke="#333" stroke-width="1.1"/>
<text x="1064.94" y="113.60" font-size="16.3" text-anchor="end" fill="#000" transform="rotate(-90 1064.94 113.60)">GH3</text>
<rect x="1048.52" y="168.5" width="20.225" height="16.8" fill="#7FC97F" stroke="#fff" stroke-opacity="0.6" stroke-width="0.9"/>
<path d="M1078.86 108.8V112" stroke="#333" stroke-width="1.1"/>
<text x="1085.16" y="113.60" font-size="16.3" text-anchor="end" fill="#000" transform="rotate(-90 1085.16 113.60)">GH43</text>
<rect x="1068.75" y="168.5" width="20.225" height="16.8" fill="#BEAED4" stroke="#fff" stroke-opacity="0.6" stroke-width="0.9"/>
<path d="M1099.09 108.8V112" stroke="#333" stroke-width="1.1"/>
<text x="1105.39" y="113.60" font-size="16.3" text-anchor="end" fill="#000" transform="rotate(-90 1105.39 113.60)">GH17</text>
<rect x="1088.97" y="168.5" width="20.225" height="16.8" fill="#BEAED4" stroke="#fff" stroke-opacity="0.6" stroke-width="0.9"/>
<path d="M1119.31 108.8V112" stroke="#333" stroke-width="1.1"/>
<text x="1125.61" y="113.60" font-size="16.3" text-anchor="end" fill="#000" transform="rotate(-90 1125.61 113.60)">GH57</text>
<rect x="1109.20" y="168.5" width="20.225" height="16.8" fill="#FFFF99" stroke="#fff" stroke-opacity="0.6" stroke-width="0.9"/>
<path d="M1139.54 108.8V112" stroke="#333" stroke-width="1.1"/>
<text x="1145.84" y="113.60" font-size="16.3" text-anchor="end" fill="#000" transform="rotate(-90 1145.84 113.60)">GH1</text>
<rect x="1129.42" y="168.5" width="20.225" height="16.8" fill="#7FC97F" stroke="#fff" stroke-opacity="0.6" stroke-width="0.9"/>
<path d="M1159.76 108.8V112" stroke="#333" stroke-width="1.1"/>
<text x="1166.06" y="113.60" font-size="16.3" text-anchor="end" fill="#000" transform="rotate(-90 1166.06 113.60)">GH56</text>
<rect x="1149.65" y="168.5" width="20.225" height="16.8" fill="#FDC086" stroke="#fff" stroke-opacity="0.6" stroke-width="0.9"/>
<path d="M1179.99 108.8V112" stroke="#333" stroke-width="1.1"/>
<text x="1186.29" y="113.60" font-size="16.3" text-anchor="end" fill="#000" transform="rotate(-90 1186.29 113.60)">GH31</text>
<rect x="1169.88" y="168.5" width="20.225" height="16.8" fill="#FFFF99" stroke="#fff" stroke-opacity="0.6" stroke-width="0.9"/>
<path d="M1200.21 108.8V112" stroke="#333" stroke-width="1.1"/>
<text x="1206.51" y="113.60" font-size="16.3" text-anchor="end" fill="#000" transform="rotate(-90 1206.51 113.60)">GH36</text>
<rect x="1190.10" y="168.5" width="20.225" height="16.8" fill="#386CB0" stroke="#fff" stroke-opacity="0.6" stroke-width="0.9"/>
<path d="M1220.44 108.8V112" stroke="#333" stroke-width="1.1"/>
<text x="1226.74" y="113.60" font-size="16.3" text-anchor="end" fill="#000" transform="rotate(-90 1226.74 113.60)">GH88</text>
<rect x="1210.33" y="168.5" width="20.225" height="16.8" fill="#FDC086" stroke="#fff" stroke-opacity="0.6" stroke-width="0.9"/>
<path d="M1240.66 108.8V112" stroke="#333" stroke-width="1.1"/>
<text x="1246.96" y="113.60" font-size="16.3" text-anchor="end" fill="#000" transform="rotate(-90 1246.96 113.60)">GH20</text>
<rect x="1230.55" y="168.5" width="20.225" height="16.8" fill="#FDC086" stroke="#fff" stroke-opacity="0.6" stroke-width="0.9"/>
<path d="M1260.89 108.8V112" stroke="#333" stroke-width="1.1"/>
<text x="1267.19" y="113.60" font-size="16.3" text-anchor="end" fill="#000" transform="rotate(-90 1267.19 113.60)">GH5</text>
<rect x="1250.78" y="168.5" width="20.225" height="16.8" fill="#7FC97F" stroke="#fff" stroke-opacity="0.6" stroke-width="0.9"/>
<path d="M1281.11 108.8V112" stroke="#333" stroke-width="1.1"/>
<text x="1287.41" y="113.60" font-size="16.3" text-anchor="end" fill="#000" transform="rotate(-90 1287.41 113.60)">GH129</text>
<rect x="1271.00" y="168.5" width="20.225" height="16.8" fill="#BEAED4" stroke="#fff" stroke-opacity="0.6" stroke-width="0.9"/>
<path d="M1301.34 108.8V112" stroke="#333" stroke-width="1.1"/>
<text x="1307.64" y="113.60" font-size="16.3" text-anchor="end" fill="#000" transform="rotate(-90 1307.64 113.60)">GH9</text>
<rect x="1291.22" y="168.5" width="20.225" height="16.8" fill="#7FC97F" stroke="#fff" stroke-opacity="0.6" stroke-width="0.9"/>
<path d="M1321.56 108.8V112" stroke="#333" stroke-width="1.1"/>
<text x="1327.86" y="113.60" font-size="16.3" text-anchor="end" fill="#000" transform="rotate(-90 1327.86 113.60)">GH97</text>
<rect x="1311.45" y="168.5" width="20.225" height="16.8" fill="#FFFF99" stroke="#fff" stroke-opacity="0.6" stroke-width="0.9"/>
<path d="M1341.79 108.8V112" stroke="#333" stroke-width="1.1"/>
<text x="1348.09" y="113.60" font-size="16.3" text-anchor="end" fill="#000" transform="rotate(-90 1348.09 113.60)">GH92</text>
<rect x="1331.67" y="168.5" width="20.225" height="16.8" fill="#FDC086" stroke="#fff" stroke-opacity="0.6" stroke-width="0.9"/>
<path d="M1362.01 108.8V112" stroke="#333" stroke-width="1.1"/>
<text x="1368.31" y="113.60" font-size="16.3" text-anchor="end" fill="#000" transform="rotate(-90 1368.31 113.60)">GH18</text>
<rect x="1351.90" y="168.5" width="20.225" height="16.8" fill="#BEAED4" stroke="#fff" stroke-opacity="0.6" stroke-width="0.9"/>
<path d="M1382.24 108.8V112" stroke="#333" stroke-width="1.1"/>
<text x="1388.54" y="113.60" font-size="16.3" text-anchor="end" fill="#000" transform="rotate(-90 1388.54 113.60)">GH28</text>
<rect x="1372.12" y="168.5" width="20.225" height="16.8" fill="#386CB0" stroke="#fff" stroke-opacity="0.6" stroke-width="0.9"/>
<path d="M1402.46 108.8V112" stroke="#333" stroke-width="1.1"/>
<text x="1408.76" y="113.60" font-size="16.3" text-anchor="end" fill="#000" transform="rotate(-90 1408.76 113.60)">GH35</text>
<rect x="1392.35" y="168.5" width="20.225" height="16.8" fill="#386CB0" stroke="#fff" stroke-opacity="0.6" stroke-width="0.9"/>
<path d="M1422.69 108.8V112" stroke="#333" stroke-width="1.1"/>
<text x="1428.99" y="113.60" font-size="16.3" text-anchor="end" fill="#000" transform="rotate(-90 1428.99 113.60)">GH32</text>
<rect x="1412.58" y="168.5" width="20.225" height="16.8" fill="#EF2B80" stroke="#fff" stroke-opacity="0.6" stroke-width="0.9"/>
<path d="M1442.91 108.8V112" stroke="#333" stroke-width="1.1"/>
<text x="1449.21" y="113.60" font-size="16.3" text-anchor="end" fill="#000" transform="rotate(-90 1449.21 113.60)">GH26</text>
<rect x="1432.80" y="168.5" width="20.225" height="16.8" fill="#7FC97F" stroke="#fff" stroke-opacity="0.6" stroke-width="0.9"/>
<path d="M1463.14 108.8V112" stroke="#333" stroke-width="1.1"/>
<text x="1469.44" y="113.60" font-size="16.3" text-anchor="end" fill="#000" transform="rotate(-90 1469.44 113.60)">GH25</text>
<rect x="1453.03" y="168.5" width="20.225" height="16.8" fill="#BEAED4" stroke="#fff" stroke-opacity="0.6" stroke-width="0.9"/>
<path d="M1483.36 108.8V112" stroke="#333" stroke-width="1.1"/>
<text x="1489.66" y="113.60" font-size="16.3" text-anchor="end" fill="#000" transform="rotate(-90 1489.66 113.60)">GH53</text>
<rect x="1473.25" y="168.5" width="20.225" height="16.8" fill="#BEAED4" stroke="#fff" stroke-opacity="0.6" stroke-width="0.9"/>
<path d="M1503.59 108.8V112" stroke="#333" stroke-width="1.1"/>
<text x="1509.89" y="113.60" font-size="16.3" text-anchor="end" fill="#000" transform="rotate(-90 1509.89 113.60)">GH15</text>
<rect x="1493.47" y="168.5" width="20.225" height="16.8" fill="#FDC086" stroke="#fff" stroke-opacity="0.6" stroke-width="0.9"/>
<path d="M1523.81 108.8V112" stroke="#333" stroke-width="1.1"/>
<text x="1530.11" y="113.60" font-size="16.3" text-anchor="end" fill="#000" transform="rotate(-90 1530.11 113.60)">GH38</text>
<rect x="1513.70" y="168.5" width="20.225" height="16.8" fill="#FDC086" stroke="#fff" stroke-opacity="0.6" stroke-width="0.9"/>
<path d="M1544.04 108.8V112" stroke="#333" stroke-width="1.1"/>
<text x="1550.34" y="113.60" font-size="16.3" text-anchor="end" fill="#000" transform="rotate(-90 1550.34 113.60)">GH8</text>
<rect x="1533.92" y="168.5" width="20.225" height="16.8" fill="#7FC97F" stroke="#fff" stroke-opacity="0.6" stroke-width="0.9"/>
<path d="M1564.26 108.8V112" stroke="#333" stroke-width="1.1"/>
<text x="1570.56" y="113.60" font-size="16.3" text-anchor="end" fill="#000" transform="rotate(-90 1570.56 113.60)">GH67</text>
<rect x="1554.15" y="168.5" width="20.225" height="16.8" fill="#BEAED4" stroke="#fff" stroke-opacity="0.6" stroke-width="0.9"/>
<path d="M1584.49 108.8V112" stroke="#333" stroke-width="1.1"/>
<text x="1590.79" y="113.60" font-size="16.3" text-anchor="end" fill="#000" transform="rotate(-90 1590.79 113.60)">GH30</text>
<rect x="1574.38" y="168.5" width="20.225" height="16.8" fill="#7FC97F" stroke="#fff" stroke-opacity="0.6" stroke-width="0.9"/>
<path d="M1604.71 108.8V112" stroke="#333" stroke-width="1.1"/>
<text x="1611.01" y="113.60" font-size="16.3" text-anchor="end" fill="#000" transform="rotate(-90 1611.01 113.60)">GH11</text>
<rect x="1594.60" y="168.5" width="20.225" height="16.8" fill="#BEAED4" stroke="#fff" stroke-opacity="0.6" stroke-width="0.9"/>
<path d="M1624.94 108.8V112" stroke="#333" stroke-width="1.1"/>
<text x="1631.24" y="113.60" font-size="16.3" text-anchor="end" fill="#000" transform="rotate(-90 1631.24 113.60)">GH114</text>
<rect x="1614.83" y="168.5" width="20.225" height="16.8" fill="#FDC086" stroke="#fff" stroke-opacity="0.6" stroke-width="0.9"/>
<path d="M1645.16 108.8V112" stroke="#333" stroke-width="1.1"/>
<text x="1651.46" y="113.60" font-size="16.3" text-anchor="end" fill="#000" transform="rotate(-90 1651.46 113.60)">GH10</text>
<rect x="1635.05" y="168.5" width="20.225" height="16.8" fill="#BEAED4" stroke="#fff" stroke-opacity="0.6" stroke-width="0.9"/>
<path d="M1665.39 108.8V112" stroke="#333" stroke-width="1.1"/>
<text x="1671.69" y="113.60" font-size="16.3" text-anchor="end" fill="#000" transform="rotate(-90 1671.69 113.60)">GH115</text>
<rect x="1655.28" y="168.5" width="20.225" height="16.8" fill="#BEAED4" stroke="#fff" stroke-opacity="0.6" stroke-width="0.9"/>
<path d="M1685.61 108.8V112" stroke="#333" stroke-width="1.1"/>
<text x="1691.91" y="113.60" font-size="16.3" text-anchor="end" fill="#000" transform="rotate(-90 1691.91 113.60)">GH76</text>
<rect x="1675.50" y="168.5" width="20.225" height="16.8" fill="#FFFF99" stroke="#fff" stroke-opacity="0.6" stroke-width="0.9"/>
<path d="M1705.84 108.8V112" stroke="#333" stroke-width="1.1"/>
<text x="1712.14" y="113.60" font-size="16.3" text-anchor="end" fill="#000" transform="rotate(-90 1712.14 113.60)">GH39</text>
<rect x="1695.72" y="168.5" width="20.225" height="16.8" fill="#7FC97F" stroke="#fff" stroke-opacity="0.6" stroke-width="0.9"/>
<path d="M1726.06 108.8V112" stroke="#333" stroke-width="1.1"/>
<text x="1732.36" y="113.60" font-size="16.3" text-anchor="end" fill="#000" transform="rotate(-90 1732.36 113.60)">GH108</text>
<rect x="1715.95" y="168.5" width="20.225" height="16.8" fill="#BEAED4" stroke="#fff" stroke-opacity="0.6" stroke-width="0.9"/>
<path d="M1746.29 108.8V112" stroke="#333" stroke-width="1.1"/>
<text x="1752.59" y="113.60" font-size="16.3" text-anchor="end" fill="#000" transform="rotate(-90 1752.59 113.60)">GH63</text>
<rect x="1736.17" y="168.5" width="20.225" height="16.8" fill="#FFFF99" stroke="#fff" stroke-opacity="0.6" stroke-width="0.9"/>
<path d="M1766.51 108.8V112" stroke="#333" stroke-width="1.1"/>
<text x="1772.81" y="113.60" font-size="16.3" text-anchor="end" fill="#000" transform="rotate(-90 1772.81 113.60)">GH116</text>
<rect x="1756.40" y="168.5" width="20.225" height="16.8" fill="#BEAED4" stroke="#fff" stroke-opacity="0.6" stroke-width="0.9"/>
<path d="M1786.74 108.8V112" stroke="#333" stroke-width="1.1"/>
<text x="1793.04" y="113.60" font-size="16.3" text-anchor="end" fill="#000" transform="rotate(-90 1793.04 113.60)">GH46</text>
<rect x="1776.62" y="168.5" width="20.225" height="16.8" fill="#FDC086" stroke="#fff" stroke-opacity="0.6" stroke-width="0.9"/>
<path d="M1806.96 108.8V112" stroke="#333" stroke-width="1.1"/>
<text x="1813.26" y="113.60" font-size="16.3" text-anchor="end" fill="#000" transform="rotate(-90 1813.26 113.60)">GH44</text>
<rect x="1796.85" y="168.5" width="20.225" height="16.8" fill="#7FC97F" stroke="#fff" stroke-opacity="0.6" stroke-width="0.9"/>
<path d="M1827.19 108.8V112" stroke="#333" stroke-width="1.1"/>
<text x="1833.49" y="113.60" font-size="16.3" text-anchor="end" fill="#000" transform="rotate(-90 1833.49 113.60)">GH99</text>
<rect x="1817.08" y="168.5" width="20.225" height="16.8" fill="#FDC086" stroke="#fff" stroke-opacity="0.6" stroke-width="0.9"/>
<text x="1850.00" y="16.60" font-size="16.3" text-anchor="start" fill="#000">GH activity</text>
<rect x="1850.3" y="27.00" width="18.8" height="20.85" fill="#7FC97F"/>
<text x="1872.30" y="42.60" font-size="17.0" text-anchor="start" fill="#000">Cellulase</text>
<rect x="1850.3" y="47.85" width="18.8" height="20.85" fill="#BEAED4"/>
<text x="1872.30" y="63.45" font-size="17.0" text-anchor="start" fill="#000">Hemicellulase</text>
<rect x="1850.3" y="68.70" width="18.8" height="20.85" fill="#FDC086"/>
<text x="1872.30" y="84.30" font-size="17.0" text-anchor="start" fill="#000">Oligosaccharide</text>
<rect x="1850.3" y="89.55" width="18.8" height="20.85" fill="#FFFF99"/>
<text x="1872.30" y="105.15" font-size="17.0" text-anchor="start" fill="#000">Starch</text>
<rect x="1850.3" y="110.40" width="18.8" height="20.85" fill="#386CB0"/>
<text x="1872.30" y="126.00" font-size="17.0" text-anchor="start" fill="#000">Pectin</text>
<rect x="1850.3" y="131.25" width="18.8" height="20.85" fill="#EF2B80"/>
<text x="1872.30" y="146.85" font-size="17.0" text-anchor="start" fill="#000">Inulin</text>
<text x="1849.5" y="174" font-size="16.7">Log<tspan dy="6" font-size="16.7">10</tspan></text>
<text x="1849.50" y="200.60" font-size="16.7" text-anchor="start" fill="#000">(TPM+1)</text>
<defs><linearGradient id="gB" x1="0" y1="0" x2="0" y2="1"><stop offset="0.0000" stop-color="#FF0000"/><stop offset="0.0250" stop-color="#F60012"/><stop offset="0.0500" stop-color="#ED001E"/><stop offset="0.0750" stop-color="#E50027"/><stop offset="0.1000" stop-color="#DC002E"/><stop offset="0.1250" stop-color="#D30035"/><stop offset="0.1500" stop-color="#CA003C"/><stop offset="0.1750" stop-color="#C10042"/><stop offset="0.2000" stop-color="#B80048"/><stop offset="0.2250" stop-color="#AF004E"/><stop offset="0.2500" stop-color="#A50054"/><stop offset="0.2750" stop-color="#9C0059"/><stop offset="0.3000" stop-color="#92005F"/><stop offset="0.3250" stop-color="#870064"/><stop offset="0.3500" stop-color="#7D006A"/><stop offset="0.3750" stop-color="#71006F"/><stop offset="0.4000" stop-color="#650075"/><stop offset="0.4250" stop-color="#57007A"/><stop offset="0.4500" stop-color="#460080"/><stop offset="0.4750" stop-color="#300085"/><stop offset="0.5000" stop-color="#00008B"/><stop offset="0.5250" stop-color="#230F91"/><stop offset="0.5500" stop-color="#361D97"/><stop offset="0.5750" stop-color="#45299D"/><stop offset="0.6000" stop-color="#5235A3"/><stop offset="0.6250" stop-color="#5F41A9"/><stop offset="0.6500" stop-color="#6B4DAF"/><stop offset="0.6750" stop-color="#7659B4"/><stop offset="0.7000" stop-color="#8165BA"/><stop offset="0.7250" stop-color="#8C71C0"/><stop offset="0.7500" stop-color="#977DC6"/><stop offset="0.7750" stop-color="#A289CC"/><stop offset="0.8000" stop-color="#AC96D1"/><stop offset="0.8250" stop-color="#B7A3D7"/><stop offset="0.8500" stop-color="#C1AFDD"/><stop offset="0.8750" stop-color="#CCBCE3"/><stop offset="0.9000" stop-color="#D6C9E8"/><stop offset="0.9250" stop-color="#E0D7EE"/><stop offset="0.9500" stop-color="#EAE4F4"/><stop offset="0.9750" stop-color="#F5F1F9"/><stop offset="1.0000" stop-color="#FFFFFF"/></linearGradient></defs>
<rect x="1851.6" y="210.8" width="18" height="94.6" fill="url(#gB)"/>
<path d="M1851.6 212.4h3.6M1866 212.4h3.6" stroke="#fff" stroke-width="0.9"/>
<text x="1872.60" y="218.60" font-size="16.7" text-anchor="start" fill="#000">3</text>
<path d="M1851.6 243.4h3.6M1866 243.4h3.6" stroke="#fff" stroke-width="0.9"/>
<text x="1872.60" y="249.60" font-size="16.7" text-anchor="start" fill="#000">2</text>
<path d="M1851.6 274.4h3.6M1866 274.4h3.6" stroke="#fff" stroke-width="0.9"/>
<text x="1872.60" y="280.60" font-size="16.7" text-anchor="start" fill="#000">1</text>
<text x="1872.60" y="309.30" font-size="16.7" text-anchor="start" fill="#000">0</text>
<text x="912.50" y="29.90" font-size="27" text-anchor="start" fill="#000" font-weight="bold">B</text>
<rect x="1331.3" y="222.6" width="166.7" height="23.8" fill="#D9D9D9" stroke="#333" stroke-width="1.1"/>
<rect x="1331.3" y="246.4" width="166.7" height="736.3" fill="#fff" stroke="#333" stroke-width="1.1"/>
<text x="1417.60" y="240.60" font-size="16.9" text-anchor="middle" fill="#000">KBP</text>
<rect x="1333.90" y="249.30" width="23.25" height="24.36" fill="#EDF1ED" stroke="#fff" stroke-opacity="0.7" stroke-width="1"/>
<rect x="1357.15" y="249.30" width="23.25" height="24.36" fill="#7C977A" stroke="#fff" stroke-opacity="0.7" stroke-width="1"/>
<rect x="1380.40" y="249.30" width="23.25" height="24.36" fill="#A0B49F" stroke="#fff" stroke-opacity="0.7" stroke-width="1"/>
<rect x="1426.90" y="249.30" width="23.25" height="24.36" fill="#CBD6CA" stroke="#fff" stroke-opacity="0.7" stroke-width="1"/>
<rect x="1450.15" y="249.30" width="23.25" height="24.36" fill="#A0B49F" stroke="#fff" stroke-opacity="0.7" stroke-width="1"/>
<rect x="1473.40" y="249.30" width="23.25" height="24.36" fill="#ADBEAC" stroke="#fff" stroke-opacity="0.7" stroke-width="1"/>
<rect x="1333.90" y="273.66" width="23.25" height="24.36" fill="#C6D2C5" stroke="#fff" stroke-opacity="0.7" stroke-width="1"/>
<rect x="1357.15" y="273.66" width="23.25" height="24.36" fill="#3D643D" stroke="#fff" stroke-opacity="0.7" stroke-width="1"/>
<rect x="1403.65" y="273.66" width="23.25" height="24.36" fill="#88A086" stroke="#fff" stroke-opacity="0.7" stroke-width="1"/>
<rect x="1426.90" y="273.66" width="23.25" height="24.36" fill="#90A78F" stroke="#fff" stroke-opacity="0.7" stroke-width="1"/>
<rect x="1450.15" y="273.66" width="23.25" height="24.36" fill="#C6D2C5" stroke="#fff" stroke-opacity="0.7" stroke-width="1"/>
<rect x="1473.40" y="273.66" width="23.25" height="24.36" fill="#CFD9CE" stroke="#fff" stroke-opacity="0.7" stroke-width="1"/>
<rect x="1333.90" y="298.02" width="23.25" height="24.36" fill="#B1C1B0" stroke="#fff" stroke-opacity="0.7" stroke-width="1"/>
<rect x="1357.15" y="298.02" width="23.25" height="24.36" fill="#688767" stroke="#fff" stroke-opacity="0.7" stroke-width="1"/>
<rect x="1380.40" y="298.02" width="23.25" height="24.36" fill="#547754" stroke="#fff" stroke-opacity="0.7" stroke-width="1"/>
<rect x="1426.90" y="298.02" width="23.25" height="24.36" fill="#A9BBA8" stroke="#fff" stroke-opacity="0.7" stroke-width="1"/>
<rect x="1473.40" y="298.02" width="23.25" height="24.36" fill="#708D6F" stroke="#fff" stroke-opacity="0.7" stroke-width="1"/>
<rect x="1333.90" y="322.38" width="23.25" height="24.36" fill="#D3DCD2" stroke="#fff" stroke-opacity="0.7" stroke-width="1"/>
<rect x="1357.15" y="322.38" width="23.25" height="24.36" fill="#A5B7A3" stroke="#fff" stroke-opacity="0.7" stroke-width="1"/>
<rect x="1380.40" y="322.38" width="23.25" height="24.36" fill="#94AA93" stroke="#fff" stroke-opacity="0.7" stroke-width="1"/>
<rect x="1426.90" y="322.38" width="23.25" height="24.36" fill="#ADBEAC" stroke="#fff" stroke-opacity="0.7" stroke-width="1"/>
<rect x="1450.15" y="322.38" width="23.25" height="24.36" fill="#ADBEAC" stroke="#fff" stroke-opacity="0.7" stroke-width="1"/>
<rect x="1473.40" y="322.38" width="23.25" height="24.36" fill="#F2F5F1" stroke="#fff" stroke-opacity="0.7" stroke-width="1"/>
<rect x="1333.90" y="395.46" width="23.25" height="24.36" fill="#90A78F" stroke="#fff" stroke-opacity="0.7" stroke-width="1"/>
<rect x="1357.15" y="395.46" width="23.25" height="24.36" fill="#6C8A6B" stroke="#fff" stroke-opacity="0.7" stroke-width="1"/>
<rect x="1380.40" y="395.46" width="23.25" height="24.36" fill="#648363" stroke="#fff" stroke-opacity="0.7" stroke-width="1"/>
<rect x="1426.90" y="395.46" width="23.25" height="24.36" fill="#E5EAE4" stroke="#fff" stroke-opacity="0.7" stroke-width="1"/>
<rect x="1450.15" y="395.46" width="23.25" height="24.36" fill="#88A086" stroke="#fff" stroke-opacity="0.7" stroke-width="1"/>
<rect x="1473.40" y="395.46" width="23.25" height="24.36" fill="#BAC8B8" stroke="#fff" stroke-opacity="0.7" stroke-width="1"/>
<rect x="1357.15" y="419.82" width="23.25" height="24.36" fill="#749072" stroke="#fff" stroke-opacity="0.7" stroke-width="1"/>
<rect x="1380.40" y="419.82" width="23.25" height="24.36" fill="#789376" stroke="#fff" stroke-opacity="0.7" stroke-width="1"/>
<rect x="1403.65" y="419.82" width="23.25" height="24.36" fill="#A9BBA8" stroke="#fff" stroke-opacity="0.7" stroke-width="1"/>
<rect x="1426.90" y="419.82" width="23.25" height="24.36" fill="#A0B49F" stroke="#fff" stroke-opacity="0.7" stroke-width="1"/>
<rect x="1450.15" y="419.82" width="23.25" height="24.36" fill="#CBD6CA" stroke="#fff" stroke-opacity="0.7" stroke-width="1"/>
<rect x="1473.40" y="419.82" width="23.25" height="24.36" fill="#CFD9CE" stroke="#fff" stroke-opacity="0.7" stroke-width="1"/>
<rect x="1333.90" y="444.18" width="23.25" height="24.36" fill="#849D82" stroke="#fff" stroke-opacity="0.7" stroke-width="1"/>
<rect x="1357.15" y="444.18" width="23.25" height="24.36" fill="#D3DCD2" stroke="#fff" stroke-opacity="0.7" stroke-width="1"/>
<rect x="1380.40" y="444.18" width="23.25" height="24.36" fill="#C2CFC1" stroke="#fff" stroke-opacity="0.7" stroke-width="1"/>
<rect x="1450.15" y="444.18" width="23.25" height="24.36" fill="#E0E7E0" stroke="#fff" stroke-opacity="0.7" stroke-width="1"/>
<rect x="1473.40" y="444.18" width="23.25" height="24.36" fill="#F6F8F6" stroke="#fff" stroke-opacity="0.7" stroke-width="1"/>
<rect x="1333.90" y="468.54" width="23.25" height="24.36" fill="#ADBEAC" stroke="#fff" stroke-opacity="0.7" stroke-width="1"/>
<rect x="1357.15" y="468.54" width="23.25" height="24.36" fill="#88A086" stroke="#fff" stroke-opacity="0.7" stroke-width="1"/>
<rect x="1426.90" y="468.54" width="23.25" height="24.36" fill="#849D82" stroke="#fff" stroke-opacity="0.7" stroke-width="1"/>
<rect x="1473.40" y="468.54" width="23.25" height="24.36" fill="#708D6F" stroke="#fff" stroke-opacity="0.7" stroke-width="1"/>
<rect x="1357.15" y="492.90" width="23.25" height="24.36" fill="#60805F" stroke="#fff" stroke-opacity="0.7" stroke-width="1"/>
<rect x="1380.40" y="492.90" width="23.25" height="24.36" fill="#708D6F" stroke="#fff" stroke-opacity="0.7" stroke-width="1"/>
<rect x="1403.65" y="492.90" width="23.25" height="24.36" fill="#BAC8B8" stroke="#fff" stroke-opacity="0.7" stroke-width="1"/>
<rect x="1426.90" y="492.90" width="23.25" height="24.36" fill="#A0B49F" stroke="#fff" stroke-opacity="0.7" stroke-width="1"/>
<rect x="1450.15" y="492.90" width="23.25" height="24.36" fill="#88A086" stroke="#fff" stroke-opacity="0.7" stroke-width="1"/>
<rect x="1473.40" y="492.90" width="23.25" height="24.36" fill="#9CB19B" stroke="#fff" stroke-opacity="0.7" stroke-width="1"/>
<rect x="1333.90" y="517.26" width="23.25" height="24.36" fill="#B5C5B4" stroke="#fff" stroke-opacity="0.7" stroke-width="1"/>
<rect x="1357.15" y="517.26" width="23.25" height="24.36" fill="#88A086" stroke="#fff" stroke-opacity="0.7" stroke-width="1"/>
<rect x="1380.40" y="517.26" width="23.25" height="24.36" fill="#648363" stroke="#fff" stroke-opacity="0.7" stroke-width="1"/>
<rect x="1426.90" y="517.26" width="23.25" height="24.36" fill="#D8E0D7" stroke="#fff" stroke-opacity="0.7" stroke-width="1"/>
<rect x="1450.15" y="517.26" width="23.25" height="24.36" fill="#D3DCD2" stroke="#fff" stroke-opacity="0.7" stroke-width="1"/>
<rect x="1473.40" y="517.26" width="23.25" height="24.36" fill="#A5B7A3" stroke="#fff" stroke-opacity="0.7" stroke-width="1"/>
<rect x="1333.90" y="541.62" width="23.25" height="24.36" fill="#E5EAE4" stroke="#fff" stroke-opacity="0.7" stroke-width="1"/>
<rect x="1357.15" y="541.62" width="23.25" height="24.36" fill="#A0B49F" stroke="#fff" stroke-opacity="0.7" stroke-width="1"/>
<rect x="1380.40" y="541.62" width="23.25" height="24.36" fill="#ADBEAC" stroke="#fff" stroke-opacity="0.7" stroke-width="1"/>
<rect x="1426.90" y="541.62" width="23.25" height="24.36" fill="#BECBBD" stroke="#fff" stroke-opacity="0.7" stroke-width="1"/>
<rect x="1450.15" y="541.62" width="23.25" height="24.36" fill="#BAC8B8" stroke="#fff" stroke-opacity="0.7" stroke-width="1"/>
<rect x="1333.90" y="565.98" width="23.25" height="24.36" fill="#648363" stroke="#fff" stroke-opacity="0.7" stroke-width="1"/>
<rect x="1357.15" y="565.98" width="23.25" height="24.36" fill="#EDF1ED" stroke="#fff" stroke-opacity="0.7" stroke-width="1"/>
<rect x="1380.40" y="565.98" width="23.25" height="24.36" fill="#CFD9CE" stroke="#fff" stroke-opacity="0.7" stroke-width="1"/>
<rect x="1333.90" y="590.34" width="23.25" height="24.36" fill="#708D6F" stroke="#fff" stroke-opacity="0.7" stroke-width="1"/>
<rect x="1357.15" y="590.34" width="23.25" height="24.36" fill="#809A7E" stroke="#fff" stroke-opacity="0.7" stroke-width="1"/>
<rect x="1380.40" y="590.34" width="23.25" height="24.36" fill="#849D82" stroke="#fff" stroke-opacity="0.7" stroke-width="1"/>
<rect x="1426.90" y="590.34" width="23.25" height="24.36" fill="#A5B7A3" stroke="#fff" stroke-opacity="0.7" stroke-width="1"/>
<rect x="1473.40" y="590.34" width="23.25" height="24.36" fill="#CBD6CA" stroke="#fff" stroke-opacity="0.7" stroke-width="1"/>
<rect x="1333.90" y="687.78" width="23.25" height="24.36" fill="#A5B7A3" stroke="#fff" stroke-opacity="0.7" stroke-width="1"/>
<rect x="1357.15" y="687.78" width="23.25" height="24.36" fill="#90A78F" stroke="#fff" stroke-opacity="0.7" stroke-width="1"/>
<rect x="1380.40" y="687.78" width="23.25" height="24.36" fill="#A0B49F" stroke="#fff" stroke-opacity="0.7" stroke-width="1"/>
<rect x="1450.15" y="687.78" width="23.25" height="24.36" fill="#E9EEE9" stroke="#fff" stroke-opacity="0.7" stroke-width="1"/>
<rect x="1333.90" y="712.14" width="23.25" height="24.36" fill="#A9BBA8" stroke="#fff" stroke-opacity="0.7" stroke-width="1"/>
<rect x="1357.15" y="712.14" width="23.25" height="24.36" fill="#A0B49F" stroke="#fff" stroke-opacity="0.7" stroke-width="1"/>
<rect x="1380.40" y="712.14" width="23.25" height="24.36" fill="#648363" stroke="#fff" stroke-opacity="0.7" stroke-width="1"/>
<rect x="1426.90" y="712.14" width="23.25" height="24.36" fill="#D8E0D7" stroke="#fff" stroke-opacity="0.7" stroke-width="1"/>
<rect x="1450.15" y="712.14" width="23.25" height="24.36" fill="#EDF1ED" stroke="#fff" stroke-opacity="0.7" stroke-width="1"/>
<rect x="1473.40" y="712.14" width="23.25" height="24.36" fill="#E5EAE4" stroke="#fff" stroke-opacity="0.7" stroke-width="1"/>
<rect x="1357.15" y="736.50" width="23.25" height="24.36" fill="#DCE3DB" stroke="#fff" stroke-opacity="0.7" stroke-width="1"/>
<rect x="1380.40" y="736.50" width="23.25" height="24.36" fill="#D8E0D7" stroke="#fff" stroke-opacity="0.7" stroke-width="1"/>
<rect x="1473.40" y="736.50" width="23.25" height="24.36" fill="#E9EEE9" stroke="#fff" stroke-opacity="0.7" stroke-width="1"/>
<rect x="1333.90" y="785.22" width="23.25" height="24.36" fill="#A9BBA8" stroke="#fff" stroke-opacity="0.7" stroke-width="1"/>
<rect x="1357.15" y="785.22" width="23.25" height="24.36" fill="#BAC8B8" stroke="#fff" stroke-opacity="0.7" stroke-width="1"/>
<rect x="1380.40" y="785.22" width="23.25" height="24.36" fill="#708D6F" stroke="#fff" stroke-opacity="0.7" stroke-width="1"/>
<rect x="1450.15" y="785.22" width="23.25" height="24.36" fill="#E9EEE9" stroke="#fff" stroke-opacity="0.7" stroke-width="1"/>
<rect x="1380.40" y="809.58" width="23.25" height="24.36" fill="#E9EEE9" stroke="#fff" stroke-opacity="0.7" stroke-width="1"/>
<rect x="1426.90" y="809.58" width="23.25" height="24.36" fill="#F4F7F4" stroke="#fff" stroke-opacity="0.7" stroke-width="1"/>
<rect x="1473.40" y="809.58" width="23.25" height="24.36" fill="#B1C1B0" stroke="#fff" stroke-opacity="0.7" stroke-width="1"/>
<rect x="1357.15" y="833.94" width="23.25" height="24.36" fill="#CBD6CA" stroke="#fff" stroke-opacity="0.7" stroke-width="1"/>
<rect x="1473.40" y="833.94" width="23.25" height="24.36" fill="#D8E0D7" stroke="#fff" stroke-opacity="0.7" stroke-width="1"/>
<rect x="1333.90" y="858.30" width="23.25" height="24.36" fill="#94AA93" stroke="#fff" stroke-opacity="0.7" stroke-width="1"/>
<rect x="1357.15" y="858.30" width="23.25" height="24.36" fill="#BAC8B8" stroke="#fff" stroke-opacity="0.7" stroke-width="1"/>
<rect x="1380.40" y="858.30" width="23.25" height="24.36" fill="#88A086" stroke="#fff" stroke-opacity="0.7" stroke-width="1"/>
<rect x="1426.90" y="858.30" width="23.25" height="24.36" fill="#F6F8F6" stroke="#fff" stroke-opacity="0.7" stroke-width="1"/>
<rect x="1333.90" y="882.66" width="23.25" height="24.36" fill="#CFD9CE" stroke="#fff" stroke-opacity="0.7" stroke-width="1"/>
<rect x="1380.40" y="882.66" width="23.25" height="24.36" fill="#FBFBFA" stroke="#fff" stroke-opacity="0.7" stroke-width="1"/>
<rect x="1333.90" y="907.02" width="23.25" height="24.36" fill="#688767" stroke="#fff" stroke-opacity="0.7" stroke-width="1"/>
<rect x="1426.90" y="907.02" width="23.25" height="24.36" fill="#809A7E" stroke="#fff" stroke-opacity="0.7" stroke-width="1"/>
<rect x="1333.90" y="955.74" width="23.25" height="24.36" fill="#C6D2C5" stroke="#fff" stroke-opacity="0.7" stroke-width="1"/>
<rect x="1357.15" y="955.74" width="23.25" height="24.36" fill="#486E48" stroke="#fff" stroke-opacity="0.7" stroke-width="1"/>
<rect x="1380.40" y="955.74" width="23.25" height="24.36" fill="#CBD6CA" stroke="#fff" stroke-opacity="0.7" stroke-width="1"/>
<rect x="1403.65" y="955.74" width="23.25" height="24.36" fill="#708D6F" stroke="#fff" stroke-opacity="0.7" stroke-width="1"/>
<path d="M1345.52 983.2V985.9" stroke="#333" stroke-width="1.1"/>
<text x="1350.72" y="987.40" font-size="17.0" text-anchor="end" fill="#000" transform="rotate(-90 1350.72 987.40)">CBM</text>
<path d="M1368.77 983.2V985.9" stroke="#333" stroke-width="1.1"/>
<text x="1373.97" y="987.40" font-size="17.0" text-anchor="end" fill="#000" transform="rotate(-90 1373.97 987.40)">Cellulase</text>
<path d="M1392.02 983.2V985.9" stroke="#333" stroke-width="1.1"/>
<text x="1397.22" y="987.40" font-size="17.0" text-anchor="end" fill="#000" transform="rotate(-90 1397.22 987.40)">Hemicellulase</text>
<path d="M1415.27 983.2V985.9" stroke="#333" stroke-width="1.1"/>
<text x="1420.47" y="987.40" font-size="17.0" text-anchor="end" fill="#000" transform="rotate(-90 1420.47 987.40)">Inulin</text>
<path d="M1438.52 983.2V985.9" stroke="#333" stroke-width="1.1"/>
<text x="1443.72" y="987.40" font-size="17.0" text-anchor="end" fill="#000" transform="rotate(-90 1443.72 987.40)">Oligosaccharide</text>
<path d="M1461.77 983.2V985.9" stroke="#333" stroke-width="1.1"/>
<text x="1466.97" y="987.40" font-size="17.0" text-anchor="end" fill="#000" transform="rotate(-90 1466.97 987.40)">Pectin</text>
<path d="M1485.02 983.2V985.9" stroke="#333" stroke-width="1.1"/>
<text x="1490.22" y="987.40" font-size="17.0" text-anchor="end" fill="#000" transform="rotate(-90 1490.22 987.40)">Starch</text>
<rect x="1502.4" y="222.6" width="166.7" height="23.8" fill="#D9D9D9" stroke="#333" stroke-width="1.1"/>
<rect x="1502.4" y="246.4" width="166.7" height="736.3" fill="#fff" stroke="#333" stroke-width="1.1"/>
<text x="1588.70" y="240.60" font-size="16.9" text-anchor="middle" fill="#000">MWBP</text>
<rect x="1505.00" y="249.30" width="23.25" height="24.36" fill="#D3DCD2" stroke="#fff" stroke-opacity="0.7" stroke-width="1"/>
<rect x="1528.25" y="249.30" width="23.25" height="24.36" fill="#708D6F" stroke="#fff" stroke-opacity="0.7" stroke-width="1"/>
<rect x="1551.50" y="249.30" width="23.25" height="24.36" fill="#88A086" stroke="#fff" stroke-opacity="0.7" stroke-width="1"/>
<rect x="1598.00" y="249.30" width="23.25" height="24.36" fill="#98AD97" stroke="#fff" stroke-opacity="0.7" stroke-width="1"/>
<rect x="1621.25" y="249.30" width="23.25" height="24.36" fill="#94AA93" stroke="#fff" stroke-opacity="0.7" stroke-width="1"/>
<rect x="1644.50" y="249.30" width="23.25" height="24.36" fill="#98AD97" stroke="#fff" stroke-opacity="0.7" stroke-width="1"/>
<rect x="1505.00" y="273.66" width="23.25" height="24.36" fill="#ADBEAC" stroke="#fff" stroke-opacity="0.7" stroke-width="1"/>
<rect x="1528.25" y="273.66" width="23.25" height="24.36" fill="#355E36" stroke="#fff" stroke-opacity="0.7" stroke-width="1"/>
<rect x="1574.75" y="273.66" width="23.25" height="24.36" fill="#809A7E" stroke="#fff" stroke-opacity="0.7" stroke-width="1"/>
<rect x="1598.00" y="273.66" width="23.25" height="24.36" fill="#B5C5B4" stroke="#fff" stroke-opacity="0.7" stroke-width="1"/>
<rect x="1621.25" y="273.66" width="23.25" height="24.36" fill="#B1C1B0" stroke="#fff" stroke-opacity="0.7" stroke-width="1"/>
<rect x="1644.50" y="273.66" width="23.25" height="24.36" fill="#B5C5B4" stroke="#fff" stroke-opacity="0.7" stroke-width="1"/>
<rect x="1505.00" y="298.02" width="23.25" height="24.36" fill="#D8E0D7" stroke="#fff" stroke-opacity="0.7" stroke-width="1"/>
<rect x="1528.25" y="298.02" width="23.25" height="24.36" fill="#90A78F" stroke="#fff" stroke-opacity="0.7" stroke-width="1"/>
<rect x="1551.50" y="298.02" width="23.25" height="24.36" fill="#789376" stroke="#fff" stroke-opacity="0.7" stroke-width="1"/>
<rect x="1598.00" y="298.02" width="23.25" height="24.36" fill="#F8F9F8" stroke="#fff" stroke-opacity="0.7" stroke-width="1"/>
<rect x="1644.50" y="298.02" width="23.25" height="24.36" fill="#9CB19B" stroke="#fff" stroke-opacity="0.7" stroke-width="1"/>
<rect x="1505.00" y="322.38" width="23.25" height="24.36" fill="#A5B7A3" stroke="#fff" stroke-opacity="0.7" stroke-width="1"/>
<rect x="1528.25" y="322.38" width="23.25" height="24.36" fill="#9CB19B" stroke="#fff" stroke-opacity="0.7" stroke-width="1"/>
<rect x="1551.50" y="322.38" width="23.25" height="24.36" fill="#809A7E" stroke="#fff" stroke-opacity="0.7" stroke-width="1"/>
<rect x="1598.00" y="322.38" width="23.25" height="24.36" fill="#A5B7A3" stroke="#fff" stroke-opacity="0.7" stroke-width="1"/>
<rect x="1621.25" y="322.38" width="23.25" height="24.36" fill="#A9BBA8" stroke="#fff" stroke-opacity="0.7" stroke-width="1"/>
<rect x="1644.50" y="322.38" width="23.25" height="24.36" fill="#B5C5B4" stroke="#fff" stroke-opacity="0.7" stroke-width="1"/>
<rect x="1505.00" y="346.74" width="23.25" height="24.36" fill="#8CA48B" stroke="#fff" stroke-opacity="0.7" stroke-width="1"/>
<rect x="1528.25" y="346.74" width="23.25" height="24.36" fill="#98AD97" stroke="#fff" stroke-opacity="0.7" stroke-width="1"/>
<rect x="1551.50" y="346.74" width="23.25" height="24.36" fill="#7C977A" stroke="#fff" stroke-opacity="0.7" stroke-width="1"/>
<rect x="1574.75" y="346.74" width="23.25" height="24.36" fill="#E5EAE4" stroke="#fff" stroke-opacity="0.7" stroke-width="1"/>
<rect x="1598.00" y="346.74" width="23.25" height="24.36" fill="#CFD9CE" stroke="#fff" stroke-opacity="0.7" stroke-width="1"/>
<rect x="1621.25" y="346.74" width="23.25" height="24.36" fill="#E5EAE4" stroke="#fff" stroke-opacity="0.7" stroke-width="1"/>
<rect x="1644.50" y="346.74" width="23.25" height="24.36" fill="#BAC8B8" stroke="#fff" stroke-opacity="0.7" stroke-width="1"/>
<rect x="1505.00" y="371.10" width="23.25" height="24.36" fill="#587A57" stroke="#fff" stroke-opacity="0.7" stroke-width="1"/>
<rect x="1528.25" y="371.10" width="23.25" height="24.36" fill="#E5EAE4" stroke="#fff" stroke-opacity="0.7" stroke-width="1"/>
<rect x="1551.50" y="371.10" width="23.25" height="24.36" fill="#849D82" stroke="#fff" stroke-opacity="0.7" stroke-width="1"/>
<rect x="1598.00" y="371.10" width="23.25" height="24.36" fill="#809A7E" stroke="#fff" stroke-opacity="0.7" stroke-width="1"/>
<rect x="1621.25" y="371.10" width="23.25" height="24.36" fill="#9CB19B" stroke="#fff" stroke-opacity="0.7" stroke-width="1"/>
<rect x="1644.50" y="371.10" width="23.25" height="24.36" fill="#809A7E" stroke="#fff" stroke-opacity="0.7" stroke-width="1"/>
<rect x="1505.00" y="395.46" width="23.25" height="24.36" fill="#D3DCD2" stroke="#fff" stroke-opacity="0.7" stroke-width="1"/>
<rect x="1528.25" y="395.46" width="23.25" height="24.36" fill="#A0B49F" stroke="#fff" stroke-opacity="0.7" stroke-width="1"/>
<rect x="1551.50" y="395.46" width="23.25" height="24.36" fill="#90A78F" stroke="#fff" stroke-opacity="0.7" stroke-width="1"/>
<rect x="1598.00" y="395.46" width="23.25" height="24.36" fill="#DCE3DB" stroke="#fff" stroke-opacity="0.7" stroke-width="1"/>
<rect x="1621.25" y="395.46" width="23.25" height="24.36" fill="#B1C1B0" stroke="#fff" stroke-opacity="0.7" stroke-width="1"/>
<rect x="1644.50" y="395.46" width="23.25" height="24.36" fill="#DCE3DB" stroke="#fff" stroke-opacity="0.7" stroke-width="1"/>
<rect x="1528.25" y="419.82" width="23.25" height="24.36" fill="#90A78F" stroke="#fff" stroke-opacity="0.7" stroke-width="1"/>
<rect x="1551.50" y="419.82" width="23.25" height="24.36" fill="#A5B7A3" stroke="#fff" stroke-opacity="0.7" stroke-width="1"/>
<rect x="1574.75" y="419.82" width="23.25" height="24.36" fill="#F2F5F1" stroke="#fff" stroke-opacity="0.7" stroke-width="1"/>
<rect x="1598.00" y="419.82" width="23.25" height="24.36" fill="#CBD6CA" stroke="#fff" stroke-opacity="0.7" stroke-width="1"/>
<rect x="1621.25" y="419.82" width="23.25" height="24.36" fill="#E9EEE9" stroke="#fff" stroke-opacity="0.7" stroke-width="1"/>
<rect x="1505.00" y="444.18" width="23.25" height="24.36" fill="#60805F" stroke="#fff" stroke-opacity="0.7" stroke-width="1"/>
<rect x="1528.25" y="444.18" width="23.25" height="24.36" fill="#A0B49F" stroke="#fff" stroke-opacity="0.7" stroke-width="1"/>
<rect x="1551.50" y="444.18" width="23.25" height="24.36" fill="#A5B7A3" stroke="#fff" stroke-opacity="0.7" stroke-width="1"/>
<rect x="1598.00" y="444.18" width="23.25" height="24.36" fill="#D8E0D7" stroke="#fff" stroke-opacity="0.7" stroke-width="1"/>
<rect x="1621.25" y="444.18" width="23.25" height="24.36" fill="#F2F5F1" stroke="#fff" stroke-opacity="0.7" stroke-width="1"/>
<rect x="1644.50" y="444.18" width="23.25" height="24.36" fill="#CBD6CA" stroke="#fff" stroke-opacity="0.7" stroke-width="1"/>
<rect x="1505.00" y="468.54" width="23.25" height="24.36" fill="#BECBBD" stroke="#fff" stroke-opacity="0.7" stroke-width="1"/>
<rect x="1528.25" y="468.54" width="23.25" height="24.36" fill="#90A78F" stroke="#fff" stroke-opacity="0.7" stroke-width="1"/>
<rect x="1598.00" y="468.54" width="23.25" height="24.36" fill="#789376" stroke="#fff" stroke-opacity="0.7" stroke-width="1"/>
<rect x="1644.50" y="468.54" width="23.25" height="24.36" fill="#6C8A6B" stroke="#fff" stroke-opacity="0.7" stroke-width="1"/>
<rect x="1528.25" y="492.90" width="23.25" height="24.36" fill="#B5C5B4" stroke="#fff" stroke-opacity="0.7" stroke-width="1"/>
<rect x="1551.50" y="492.90" width="23.25" height="24.36" fill="#A9BBA8" stroke="#fff" stroke-opacity="0.7" stroke-width="1"/>
<rect x="1598.00" y="492.90" width="23.25" height="24.36" fill="#F2F5F1" stroke="#fff" stroke-opacity="0.7" stroke-width="1"/>
<rect x="1621.25" y="492.90" width="23.25" height="24.36" fill="#E0E7E0" stroke="#fff" stroke-opacity="0.7" stroke-width="1"/>
<rect x="1644.50" y="492.90" width="23.25" height="24.36" fill="#EDF1ED" stroke="#fff" stroke-opacity="0.7" stroke-width="1"/>
<rect x="1505.00" y="517.26" width="23.25" height="24.36" fill="#C2CFC1" stroke="#fff" stroke-opacity="0.7" stroke-width="1"/>
<rect x="1528.25" y="517.26" width="23.25" height="24.36" fill="#BECBBD" stroke="#fff" stroke-opacity="0.7" stroke-width="1"/>
<rect x="1551.50" y="517.26" width="23.25" height="24.36" fill="#90A78F" stroke="#fff" stroke-opacity="0.7" stroke-width="1"/>
<rect x="1598.00" y="517.26" width="23.25" height="24.36" fill="#E0E7E0" stroke="#fff" stroke-opacity="0.7" stroke-width="1"/>
<rect x="1621.25" y="517.26" width="23.25" height="24.36" fill="#F2F5F1" stroke="#fff" stroke-opacity="0.7" stroke-width="1"/>
<rect x="1644.50" y="517.26" width="23.25" height="24.36" fill="#D8E0D7" stroke="#fff" stroke-opacity="0.7" stroke-width="1"/>
<rect x="1528.25" y="541.62" width="23.25" height="24.36" fill="#9CB19B" stroke="#fff" stroke-opacity="0.7" stroke-width="1"/>
<rect x="1551.50" y="541.62" width="23.25" height="24.36" fill="#B5C5B4" stroke="#fff" stroke-opacity="0.7" stroke-width="1"/>
<rect x="1598.00" y="541.62" width="23.25" height="24.36" fill="#ADBEAC" stroke="#fff" stroke-opacity="0.7" stroke-width="1"/>
<rect x="1621.25" y="541.62" width="23.25" height="24.36" fill="#DCE3DB" stroke="#fff" stroke-opacity="0.7" stroke-width="1"/>
<rect x="1505.00" y="565.98" width="23.25" height="24.36" fill="#355E36" stroke="#fff" stroke-opacity="0.7" stroke-width="1"/>
<rect x="1528.25" y="565.98" width="23.25" height="24.36" fill="#BECBBD" stroke="#fff" stroke-opacity="0.7" stroke-width="1"/>
<rect x="1551.50" y="565.98" width="23.25" height="24.36" fill="#CBD6CA" stroke="#fff" stroke-opacity="0.7" stroke-width="1"/>
<rect x="1598.00" y="565.98" width="23.25" height="24.36" fill="#FCFDFC" stroke="#fff" stroke-opacity="0.7" stroke-width="1"/>
<rect x="1621.25" y="565.98" width="23.25" height="24.36" fill="#E9EEE9" stroke="#fff" stroke-opacity="0.7" stroke-width="1"/>
<rect x="1644.50" y="565.98" width="23.25" height="24.36" fill="#F2F5F1" stroke="#fff" stroke-opacity="0.7" stroke-width="1"/>
<rect x="1505.00" y="590.34" width="23.25" height="24.36" fill="#DCE3DB" stroke="#fff" stroke-opacity="0.7" stroke-width="1"/>
<rect x="1528.25" y="590.34" width="23.25" height="24.36" fill="#C2CFC1" stroke="#fff" stroke-opacity="0.7" stroke-width="1"/>
<rect x="1551.50" y="590.34" width="23.25" height="24.36" fill="#C6D2C5" stroke="#fff" stroke-opacity="0.7" stroke-width="1"/>
<rect x="1598.00" y="590.34" width="23.25" height="24.36" fill="#E5EAE4" stroke="#fff" stroke-opacity="0.7" stroke-width="1"/>
<rect x="1644.50" y="590.34" width="23.25" height="24.36" fill="#EDF1ED" stroke="#fff" stroke-opacity="0.7" stroke-width="1"/>
<rect x="1505.00" y="614.70" width="23.25" height="24.36" fill="#BAC8B8" stroke="#fff" stroke-opacity="0.7" stroke-width="1"/>
<rect x="1528.25" y="614.70" width="23.25" height="24.36" fill="#A0B49F" stroke="#fff" stroke-opacity="0.7" stroke-width="1"/>
<rect x="1551.50" y="614.70" width="23.25" height="24.36" fill="#C6D2C5" stroke="#fff" stroke-opacity="0.7" stroke-width="1"/>
<rect x="1598.00" y="614.70" width="23.25" height="24.36" fill="#A5B7A3" stroke="#fff" stroke-opacity="0.7" stroke-width="1"/>
<rect x="1621.25" y="614.70" width="23.25" height="24.36" fill="#D8E0D7" stroke="#fff" stroke-opacity="0.7" stroke-width="1"/>
<rect x="1644.50" y="614.70" width="23.25" height="24.36" fill="#A9BBA8" stroke="#fff" stroke-opacity="0.7" stroke-width="1"/>
<rect x="1505.00" y="639.06" width="23.25" height="24.36" fill="#A9BBA8" stroke="#fff" stroke-opacity="0.7" stroke-width="1"/>
<rect x="1528.25" y="639.06" width="23.25" height="24.36" fill="#90A78F" stroke="#fff" stroke-opacity="0.7" stroke-width="1"/>
<rect x="1574.75" y="639.06" width="23.25" height="24.36" fill="#E5EAE4" stroke="#fff" stroke-opacity="0.7" stroke-width="1"/>
<rect x="1598.00" y="639.06" width="23.25" height="24.36" fill="#98AD97" stroke="#fff" stroke-opacity="0.7" stroke-width="1"/>
<rect x="1644.50" y="639.06" width="23.25" height="24.36" fill="#A0B49F" stroke="#fff" stroke-opacity="0.7" stroke-width="1"/>
<rect x="1505.00" y="663.42" width="23.25" height="24.36" fill="#9CB19B" stroke="#fff" stroke-opacity="0.7" stroke-width="1"/>
<rect x="1528.25" y="663.42" width="23.25" height="24.36" fill="#7C977A" stroke="#fff" stroke-opacity="0.7" stroke-width="1"/>
<rect x="1551.50" y="663.42" width="23.25" height="24.36" fill="#90A78F" stroke="#fff" stroke-opacity="0.7" stroke-width="1"/>
<rect x="1598.00" y="663.42" width="23.25" height="24.36" fill="#CBD6CA" stroke="#fff" stroke-opacity="0.7" stroke-width="1"/>
<rect x="1621.25" y="663.42" width="23.25" height="24.36" fill="#A9BBA8" stroke="#fff" stroke-opacity="0.7" stroke-width="1"/>
<rect x="1644.50" y="663.42" width="23.25" height="24.36" fill="#ADBEAC" stroke="#fff" stroke-opacity="0.7" stroke-width="1"/>
<rect x="1505.00" y="687.78" width="23.25" height="24.36" fill="#A9BBA8" stroke="#fff" stroke-opacity="0.7" stroke-width="1"/>
<rect x="1528.25" y="687.78" width="23.25" height="24.36" fill="#A0B49F" stroke="#fff" stroke-opacity="0.7" stroke-width="1"/>
<rect x="1551.50" y="687.78" width="23.25" height="24.36" fill="#9CB19B" stroke="#fff" stroke-opacity="0.7" stroke-width="1"/>
<rect x="1621.25" y="687.78" width="23.25" height="24.36" fill="#E9EEE9" stroke="#fff" stroke-opacity="0.7" stroke-width="1"/>
<rect x="1505.00" y="712.14" width="23.25" height="24.36" fill="#F2F5F1" stroke="#fff" stroke-opacity="0.7" stroke-width="1"/>
<rect x="1528.25" y="712.14" width="23.25" height="24.36" fill="#DCE3DB" stroke="#fff" stroke-opacity="0.7" stroke-width="1"/>
<rect x="1551.50" y="712.14" width="23.25" height="24.36" fill="#94AA93" stroke="#fff" stroke-opacity="0.7" stroke-width="1"/>
<rect x="1598.00" y="712.14" width="23.25" height="24.36" fill="#DCE3DB" stroke="#fff" stroke-opacity="0.7" stroke-width="1"/>
<rect x="1621.25" y="712.14" width="23.25" height="24.36" fill="#F2F5F1" stroke="#fff" stroke-opacity="0.7" stroke-width="1"/>
<rect x="1644.50" y="712.14" width="23.25" height="24.36" fill="#F6F8F6" stroke="#fff" stroke-opacity="0.7" stroke-width="1"/>
<rect x="1505.00" y="736.50" width="23.25" height="24.36" fill="#E0E7E0" stroke="#fff" stroke-opacity="0.7" stroke-width="1"/>
<rect x="1528.25" y="736.50" width="23.25" height="24.36" fill="#94AA93" stroke="#fff" stroke-opacity="0.7" stroke-width="1"/>
<rect x="1551.50" y="736.50" width="23.25" height="24.36" fill="#849D82" stroke="#fff" stroke-opacity="0.7" stroke-width="1"/>
<rect x="1598.00" y="736.50" width="23.25" height="24.36" fill="#C6D2C5" stroke="#fff" stroke-opacity="0.7" stroke-width="1"/>
<rect x="1644.50" y="736.50" width="23.25" height="24.36" fill="#ADBEAC" stroke="#fff" stroke-opacity="0.7" stroke-width="1"/>
<rect x="1505.00" y="760.86" width="23.25" height="24.36" fill="#90A78F" stroke="#fff" stroke-opacity="0.7" stroke-width="1"/>
<rect x="1528.25" y="760.86" width="23.25" height="24.36" fill="#B1C1B0" stroke="#fff" stroke-opacity="0.7" stroke-width="1"/>
<rect x="1551.50" y="760.86" width="23.25" height="24.36" fill="#B1C1B0" stroke="#fff" stroke-opacity="0.7" stroke-width="1"/>
<rect x="1598.00" y="760.86" width="23.25" height="24.36" fill="#CBD6CA" stroke="#fff" stroke-opacity="0.7" stroke-width="1"/>
<rect x="1644.50" y="760.86" width="23.25" height="24.36" fill="#BAC8B8" stroke="#fff" stroke-opacity="0.7" stroke-width="1"/>
<rect x="1505.00" y="785.22" width="23.25" height="24.36" fill="#98AD97" stroke="#fff" stroke-opacity="0.7" stroke-width="1"/>
<rect x="1528.25" y="785.22" width="23.25" height="24.36" fill="#A5B7A3" stroke="#fff" stroke-opacity="0.7" stroke-width="1"/>
<rect x="1551.50" y="785.22" width="23.25" height="24.36" fill="#88A086" stroke="#fff" stroke-opacity="0.7" stroke-width="1"/>
<rect x="1621.25" y="785.22" width="23.25" height="24.36" fill="#F6F8F6" stroke="#fff" stroke-opacity="0.7" stroke-width="1"/>
<rect x="1528.25" y="809.58" width="23.25" height="24.36" fill="#A0B49F" stroke="#fff" stroke-opacity="0.7" stroke-width="1"/>
<rect x="1551.50" y="809.58" width="23.25" height="24.36" fill="#94AA93" stroke="#fff" stroke-opacity="0.7" stroke-width="1"/>
<rect x="1598.00" y="809.58" width="23.25" height="24.36" fill="#BECBBD" stroke="#fff" stroke-opacity="0.7" stroke-width="1"/>
<rect x="1644.50" y="809.58" width="23.25" height="24.36" fill="#A0B49F" stroke="#fff" stroke-opacity="0.7" stroke-width="1"/>
<rect x="1528.25" y="833.94" width="23.25" height="24.36" fill="#7C977A" stroke="#fff" stroke-opacity="0.7" stroke-width="1"/>
<rect x="1551.50" y="833.94" width="23.25" height="24.36" fill="#D3DCD2" stroke="#fff" stroke-opacity="0.7" stroke-width="1"/>
<rect x="1598.00" y="833.94" width="23.25" height="24.36" fill="#BECBBD" stroke="#fff" stroke-opacity="0.7" stroke-width="1"/>
<rect x="1644.50" y="833.94" width="23.25" height="24.36" fill="#98AD97" stroke="#fff" stroke-opacity="0.7" stroke-width="1"/>
<rect x="1505.00" y="858.30" width="23.25" height="24.36" fill="#A9BBA8" stroke="#fff" stroke-opacity="0.7" stroke-width="1"/>
<rect x="1528.25" y="858.30" width="23.25" height="24.36" fill="#F4F7F4" stroke="#fff" stroke-opacity="0.7" stroke-width="1"/>
<rect x="1551.50" y="858.30" width="23.25" height="24.36" fill="#CBD6CA" stroke="#fff" stroke-opacity="0.7" stroke-width="1"/>
<rect x="1505.00" y="882.66" width="23.25" height="24.36" fill="#648363" stroke="#fff" stroke-opacity="0.7" stroke-width="1"/>
<rect x="1551.50" y="882.66" width="23.25" height="24.36" fill="#A9BBA8" stroke="#fff" stroke-opacity="0.7" stroke-width="1"/>
<rect x="1644.50" y="882.66" width="23.25" height="24.36" fill="#DCE3DB" stroke="#fff" stroke-opacity="0.7" stroke-width="1"/>
<rect x="1505.00" y="907.02" width="23.25" height="24.36" fill="#90A78F" stroke="#fff" stroke-opacity="0.7" stroke-width="1"/>
<rect x="1598.00" y="907.02" width="23.25" height="24.36" fill="#C6D2C5" stroke="#fff" stroke-opacity="0.7" stroke-width="1"/>
<rect x="1505.00" y="931.38" width="23.25" height="24.36" fill="#507450" stroke="#fff" stroke-opacity="0.7" stroke-width="1"/>
<rect x="1528.25" y="931.38" width="23.25" height="24.36" fill="#E5EAE4" stroke="#fff" stroke-opacity="0.7" stroke-width="1"/>
<rect x="1644.50" y="931.38" width="23.25" height="24.36" fill="#E5EAE4" stroke="#fff" stroke-opacity="0.7" stroke-width="1"/>
<path d="M1516.62 983.2V985.9" stroke="#333" stroke-width="1.1"/>
<text x="1521.83" y="987.40" font-size="17.0" text-anchor="end" fill="#000" transform="rotate(-90 1521.83 987.40)">CBM</text>
<path d="M1539.88 983.2V985.9" stroke="#333" stroke-width="1.1"/>
<text x="1545.08" y="987.40" font-size="17.0" text-anchor="end" fill="#000" transform="rotate(-90 1545.08 987.40)">Cellulase</text>
<path d="M1563.12 983.2V985.9" stroke="#333" stroke-width="1.1"/>
<text x="1568.33" y="987.40" font-size="17.0" text-anchor="end" fill="#000" transform="rotate(-90 1568.33 987.40)">Hemicellulase</text>
<path d="M1586.38 983.2V985.9" stroke="#333" stroke-width="1.1"/>
<text x="1591.58" y="987.40" font-size="17.0" text-anchor="end" fill="#000" transform="rotate(-90 1591.58 987.40)">Inulin</text>
<path d="M1609.62 983.2V985.9" stroke="#333" stroke-width="1.1"/>
<text x="1614.83" y="987.40" font-size="17.0" text-anchor="end" fill="#000" transform="rotate(-90 1614.83 987.40)">Oligosaccharide</text>
<path d="M1632.88 983.2V985.9" stroke="#333" stroke-width="1.1"/>
<text x="1638.08" y="987.40" font-size="17.0" text-anchor="end" fill="#000" transform="rotate(-90 1638.08 987.40)">Pectin</text>
<path d="M1656.12 983.2V985.9" stroke="#333" stroke-width="1.1"/>
<text x="1661.33" y="987.40" font-size="17.0" text-anchor="end" fill="#000" transform="rotate(-90 1661.33 987.40)">Starch</text>
<rect x="1673.4" y="222.6" width="166.7" height="23.8" fill="#D9D9D9" stroke="#333" stroke-width="1.1"/>
<rect x="1673.4" y="246.4" width="166.7" height="736.3" fill="#fff" stroke="#333" stroke-width="1.1"/>
<text x="1759.70" y="240.60" font-size="16.9" text-anchor="middle" fill="#000">SZBP</text>
<rect x="1676.00" y="249.30" width="23.25" height="24.36" fill="#507450" stroke="#fff" stroke-opacity="0.7" stroke-width="1"/>
<rect x="1699.25" y="249.30" width="23.25" height="24.36" fill="#29552B" stroke="#fff" stroke-opacity="0.7" stroke-width="1"/>
<rect x="1722.50" y="249.30" width="23.25" height="24.36" fill="#39613A" stroke="#fff" stroke-opacity="0.7" stroke-width="1"/>
<rect x="1769.00" y="249.30" width="23.25" height="24.36" fill="#406741" stroke="#fff" stroke-opacity="0.7" stroke-width="1"/>
<rect x="1792.25" y="249.30" width="23.25" height="24.36" fill="#547754" stroke="#fff" stroke-opacity="0.7" stroke-width="1"/>
<rect x="1815.50" y="249.30" width="23.25" height="24.36" fill="#6C8A6B" stroke="#fff" stroke-opacity="0.7" stroke-width="1"/>
<rect x="1676.00" y="273.66" width="23.25" height="24.36" fill="#90A78F" stroke="#fff" stroke-opacity="0.7" stroke-width="1"/>
<rect x="1699.25" y="273.66" width="23.25" height="24.36" fill="#4C714C" stroke="#fff" stroke-opacity="0.7" stroke-width="1"/>
<rect x="1722.50" y="273.66" width="23.25" height="24.36" fill="#A0B49F" stroke="#fff" stroke-opacity="0.7" stroke-width="1"/>
<rect x="1745.75" y="273.66" width="23.25" height="24.36" fill="#ADBEAC" stroke="#fff" stroke-opacity="0.7" stroke-width="1"/>
<rect x="1769.00" y="273.66" width="23.25" height="24.36" fill="#98AD97" stroke="#fff" stroke-opacity="0.7" stroke-width="1"/>
<rect x="1792.25" y="273.66" width="23.25" height="24.36" fill="#9CB19B" stroke="#fff" stroke-opacity="0.7" stroke-width="1"/>
<rect x="1815.50" y="273.66" width="23.25" height="24.36" fill="#ADBEAC" stroke="#fff" stroke-opacity="0.7" stroke-width="1"/>
<rect x="1676.00" y="298.02" width="23.25" height="24.36" fill="#809A7E" stroke="#fff" stroke-opacity="0.7" stroke-width="1"/>
<rect x="1699.25" y="298.02" width="23.25" height="24.36" fill="#406741" stroke="#fff" stroke-opacity="0.7" stroke-width="1"/>
<rect x="1722.50" y="298.02" width="23.25" height="24.36" fill="#355E36" stroke="#fff" stroke-opacity="0.7" stroke-width="1"/>
<rect x="1769.00" y="298.02" width="23.25" height="24.36" fill="#94AA93" stroke="#fff" stroke-opacity="0.7" stroke-width="1"/>
<rect x="1815.50" y="298.02" width="23.25" height="24.36" fill="#507450" stroke="#fff" stroke-opacity="0.7" stroke-width="1"/>
<rect x="1676.00" y="322.38" width="23.25" height="24.36" fill="#90A78F" stroke="#fff" stroke-opacity="0.7" stroke-width="1"/>
<rect x="1699.25" y="322.38" width="23.25" height="24.36" fill="#809A7E" stroke="#fff" stroke-opacity="0.7" stroke-width="1"/>
<rect x="1722.50" y="322.38" width="23.25" height="24.36" fill="#5C7D5B" stroke="#fff" stroke-opacity="0.7" stroke-width="1"/>
<rect x="1769.00" y="322.38" width="23.25" height="24.36" fill="#8CA48B" stroke="#fff" stroke-opacity="0.7" stroke-width="1"/>
<rect x="1792.25" y="322.38" width="23.25" height="24.36" fill="#7C977A" stroke="#fff" stroke-opacity="0.7" stroke-width="1"/>
<rect x="1815.50" y="322.38" width="23.25" height="24.36" fill="#A5B7A3" stroke="#fff" stroke-opacity="0.7" stroke-width="1"/>
<rect x="1676.00" y="346.74" width="23.25" height="24.36" fill="#6C8A6B" stroke="#fff" stroke-opacity="0.7" stroke-width="1"/>
<rect x="1699.25" y="346.74" width="23.25" height="24.36" fill="#355E36" stroke="#fff" stroke-opacity="0.7" stroke-width="1"/>
<rect x="1722.50" y="346.74" width="23.25" height="24.36" fill="#355E36" stroke="#fff" stroke-opacity="0.7" stroke-width="1"/>
<rect x="1745.75" y="346.74" width="23.25" height="24.36" fill="#90A78F" stroke="#fff" stroke-opacity="0.7" stroke-width="1"/>
<rect x="1769.00" y="346.74" width="23.25" height="24.36" fill="#507450" stroke="#fff" stroke-opacity="0.7" stroke-width="1"/>
<rect x="1792.25" y="346.74" width="23.25" height="24.36" fill="#809A7E" stroke="#fff" stroke-opacity="0.7" stroke-width="1"/>
<rect x="1815.50" y="346.74" width="23.25" height="24.36" fill="#648363" stroke="#fff" stroke-opacity="0.7" stroke-width="1"/>
<rect x="1676.00" y="371.10" width="23.25" height="24.36" fill="#4C714C" stroke="#fff" stroke-opacity="0.7" stroke-width="1"/>
<rect x="1699.25" y="371.10" width="23.25" height="24.36" fill="#98AD97" stroke="#fff" stroke-opacity="0.7" stroke-width="1"/>
<rect x="1722.50" y="371.10" width="23.25" height="24.36" fill="#789376" stroke="#fff" stroke-opacity="0.7" stroke-width="1"/>
<rect x="1769.00" y="371.10" width="23.25" height="24.36" fill="#486E48" stroke="#fff" stroke-opacity="0.7" stroke-width="1"/>
<rect x="1792.25" y="371.10" width="23.25" height="24.36" fill="#60805F" stroke="#fff" stroke-opacity="0.7" stroke-width="1"/>
<rect x="1815.50" y="371.10" width="23.25" height="24.36" fill="#60805F" stroke="#fff" stroke-opacity="0.7" stroke-width="1"/>
<rect x="1676.00" y="395.46" width="23.25" height="24.36" fill="#A9BBA8" stroke="#fff" stroke-opacity="0.7" stroke-width="1"/>
<rect x="1699.25" y="395.46" width="23.25" height="24.36" fill="#6C8A6B" stroke="#fff" stroke-opacity="0.7" stroke-width="1"/>
<rect x="1722.50" y="395.46" width="23.25" height="24.36" fill="#6C8A6B" stroke="#fff" stroke-opacity="0.7" stroke-width="1"/>
<rect x="1769.00" y="395.46" width="23.25" height="24.36" fill="#E5EAE4" stroke="#fff" stroke-opacity="0.7" stroke-width="1"/>
<rect x="1792.25" y="395.46" width="23.25" height="24.36" fill="#88A086" stroke="#fff" stroke-opacity="0.7" stroke-width="1"/>
<rect x="1815.50" y="395.46" width="23.25" height="24.36" fill="#B1C1B0" stroke="#fff" stroke-opacity="0.7" stroke-width="1"/>
<rect x="1699.25" y="419.82" width="23.25" height="24.36" fill="#587A57" stroke="#fff" stroke-opacity="0.7" stroke-width="1"/>
<rect x="1722.50" y="419.82" width="23.25" height="24.36" fill="#648363" stroke="#fff" stroke-opacity="0.7" stroke-width="1"/>
<rect x="1745.75" y="419.82" width="23.25" height="24.36" fill="#C2CFC1" stroke="#fff" stroke-opacity="0.7" stroke-width="1"/>
<rect x="1769.00" y="419.82" width="23.25" height="24.36" fill="#789376" stroke="#fff" stroke-opacity="0.7" stroke-width="1"/>
<rect x="1792.25" y="419.82" width="23.25" height="24.36" fill="#A9BBA8" stroke="#fff" stroke-opacity="0.7" stroke-width="1"/>
<rect x="1815.50" y="419.82" width="23.25" height="24.36" fill="#BECBBD" stroke="#fff" stroke-opacity="0.7" stroke-width="1"/>
<rect x="1676.00" y="444.18" width="23.25" height="24.36" fill="#406741" stroke="#fff" stroke-opacity="0.7" stroke-width="1"/>
<rect x="1699.25" y="444.18" width="23.25" height="24.36" fill="#749072" stroke="#fff" stroke-opacity="0.7" stroke-width="1"/>
<rect x="1722.50" y="444.18" width="23.25" height="24.36" fill="#5C7D5B" stroke="#fff" stroke-opacity="0.7" stroke-width="1"/>
<rect x="1745.75" y="444.18" width="23.25" height="24.36" fill="#E5EAE4" stroke="#fff" stroke-opacity="0.7" stroke-width="1"/>
<rect x="1769.00" y="444.18" width="23.25" height="24.36" fill="#A5B7A3" stroke="#fff" stroke-opacity="0.7" stroke-width="1"/>
<rect x="1792.25" y="444.18" width="23.25" height="24.36" fill="#98AD97" stroke="#fff" stroke-opacity="0.7" stroke-width="1"/>
<rect x="1815.50" y="444.18" width="23.25" height="24.36" fill="#B1C1B0" stroke="#fff" stroke-opacity="0.7" stroke-width="1"/>
<rect x="1676.00" y="468.54" width="23.25" height="24.36" fill="#94AA93" stroke="#fff" stroke-opacity="0.7" stroke-width="1"/>
<rect x="1699.25" y="468.54" width="23.25" height="24.36" fill="#789376" stroke="#fff" stroke-opacity="0.7" stroke-width="1"/>
<rect x="1769.00" y="468.54" width="23.25" height="24.36" fill="#648363" stroke="#fff" stroke-opacity="0.7" stroke-width="1"/>
<rect x="1815.50" y="468.54" width="23.25" height="24.36" fill="#60805F" stroke="#fff" stroke-opacity="0.7" stroke-width="1"/>
<rect x="1699.25" y="492.90" width="23.25" height="24.36" fill="#88A086" stroke="#fff" stroke-opacity="0.7" stroke-width="1"/>
<rect x="1722.50" y="492.90" width="23.25" height="24.36" fill="#789376" stroke="#fff" stroke-opacity="0.7" stroke-width="1"/>
<rect x="1745.75" y="492.90" width="23.25" height="24.36" fill="#CBD6CA" stroke="#fff" stroke-opacity="0.7" stroke-width="1"/>
<rect x="1769.00" y="492.90" width="23.25" height="24.36" fill="#BECBBD" stroke="#fff" stroke-opacity="0.7" stroke-width="1"/>
<rect x="1792.25" y="492.90" width="23.25" height="24.36" fill="#BECBBD" stroke="#fff" stroke-opacity="0.7" stroke-width="1"/>
<rect x="1815.50" y="492.90" width="23.25" height="24.36" fill="#CBD6CA" stroke="#fff" stroke-opacity="0.7" stroke-width="1"/>
<rect x="1676.00" y="517.26" width="23.25" height="24.36" fill="#B5C5B4" stroke="#fff" stroke-opacity="0.7" stroke-width="1"/>
<rect x="1699.25" y="517.26" width="23.25" height="24.36" fill="#94AA93" stroke="#fff" stroke-opacity="0.7" stroke-width="1"/>
<rect x="1722.50" y="517.26" width="23.25" height="24.36" fill="#708D6F" stroke="#fff" stroke-opacity="0.7" stroke-width="1"/>
<rect x="1769.00" y="517.26" width="23.25" height="24.36" fill="#C6D2C5" stroke="#fff" stroke-opacity="0.7" stroke-width="1"/>
<rect x="1792.25" y="517.26" width="23.25" height="24.36" fill="#C6D2C5" stroke="#fff" stroke-opacity="0.7" stroke-width="1"/>
<rect x="1815.50" y="517.26" width="23.25" height="24.36" fill="#A9BBA8" stroke="#fff" stroke-opacity="0.7" stroke-width="1"/>
<rect x="1676.00" y="541.62" width="23.25" height="24.36" fill="#F8F9F8" stroke="#fff" stroke-opacity="0.7" stroke-width="1"/>
<rect x="1699.25" y="541.62" width="23.25" height="24.36" fill="#587A57" stroke="#fff" stroke-opacity="0.7" stroke-width="1"/>
<rect x="1722.50" y="541.62" width="23.25" height="24.36" fill="#648363" stroke="#fff" stroke-opacity="0.7" stroke-width="1"/>
<rect x="1769.00" y="541.62" width="23.25" height="24.36" fill="#7C977A" stroke="#fff" stroke-opacity="0.7" stroke-width="1"/>
<rect x="1792.25" y="541.62" width="23.25" height="24.36" fill="#88A086" stroke="#fff" stroke-opacity="0.7" stroke-width="1"/>
<rect x="1676.00" y="565.98" width="23.25" height="24.36" fill="#27542A" stroke="#fff" stroke-opacity="0.7" stroke-width="1"/>
<rect x="1699.25" y="565.98" width="23.25" height="24.36" fill="#88A086" stroke="#fff" stroke-opacity="0.7" stroke-width="1"/>
<rect x="1722.50" y="565.98" width="23.25" height="24.36" fill="#789376" stroke="#fff" stroke-opacity="0.7" stroke-width="1"/>
<rect x="1769.00" y="565.98" width="23.25" height="24.36" fill="#D8E0D7" stroke="#fff" stroke-opacity="0.7" stroke-width="1"/>
<rect x="1792.25" y="565.98" width="23.25" height="24.36" fill="#BAC8B8" stroke="#fff" stroke-opacity="0.7" stroke-width="1"/>
<rect x="1815.50" y="565.98" width="23.25" height="24.36" fill="#DCE3DB" stroke="#fff" stroke-opacity="0.7" stroke-width="1"/>
<rect x="1676.00" y="590.34" width="23.25" height="24.36" fill="#B5C5B4" stroke="#fff" stroke-opacity="0.7" stroke-width="1"/>
<rect x="1699.25" y="590.34" width="23.25" height="24.36" fill="#90A78F" stroke="#fff" stroke-opacity="0.7" stroke-width="1"/>
<rect x="1722.50" y="590.34" width="23.25" height="24.36" fill="#A5B7A3" stroke="#fff" stroke-opacity="0.7" stroke-width="1"/>
<rect x="1769.00" y="590.34" width="23.25" height="24.36" fill="#90A78F" stroke="#fff" stroke-opacity="0.7" stroke-width="1"/>
<rect x="1792.25" y="590.34" width="23.25" height="24.36" fill="#CBD6CA" stroke="#fff" stroke-opacity="0.7" stroke-width="1"/>
<rect x="1815.50" y="590.34" width="23.25" height="24.36" fill="#C2CFC1" stroke="#fff" stroke-opacity="0.7" stroke-width="1"/>
<rect x="1676.00" y="614.70" width="23.25" height="24.36" fill="#90A78F" stroke="#fff" stroke-opacity="0.7" stroke-width="1"/>
<rect x="1699.25" y="614.70" width="23.25" height="24.36" fill="#749072" stroke="#fff" stroke-opacity="0.7" stroke-width="1"/>
<rect x="1722.50" y="614.70" width="23.25" height="24.36" fill="#A0B49F" stroke="#fff" stroke-opacity="0.7" stroke-width="1"/>
<rect x="1769.00" y="614.70" width="23.25" height="24.36" fill="#789376" stroke="#fff" stroke-opacity="0.7" stroke-width="1"/>
<rect x="1792.25" y="614.70" width="23.25" height="24.36" fill="#9CB19B" stroke="#fff" stroke-opacity="0.7" stroke-width="1"/>
<rect x="1815.50" y="614.70" width="23.25" height="24.36" fill="#789376" stroke="#fff" stroke-opacity="0.7" stroke-width="1"/>
<rect x="1676.00" y="639.06" width="23.25" height="24.36" fill="#9CB19B" stroke="#fff" stroke-opacity="0.7" stroke-width="1"/>
<rect x="1699.25" y="639.06" width="23.25" height="24.36" fill="#648363" stroke="#fff" stroke-opacity="0.7" stroke-width="1"/>
<rect x="1722.50" y="639.06" width="23.25" height="24.36" fill="#DCE3DB" stroke="#fff" stroke-opacity="0.7" stroke-width="1"/>
<rect x="1745.75" y="639.06" width="23.25" height="24.36" fill="#B1C1B0" stroke="#fff" stroke-opacity="0.7" stroke-width="1"/>
<rect x="1769.00" y="639.06" width="23.25" height="24.36" fill="#7C977A" stroke="#fff" stroke-opacity="0.7" stroke-width="1"/>
<rect x="1792.25" y="639.06" width="23.25" height="24.36" fill="#E0E7E0" stroke="#fff" stroke-opacity="0.7" stroke-width="1"/>
<rect x="1815.50" y="639.06" width="23.25" height="24.36" fill="#88A086" stroke="#fff" stroke-opacity="0.7" stroke-width="1"/>
<rect x="1676.00" y="663.42" width="23.25" height="24.36" fill="#ADBEAC" stroke="#fff" stroke-opacity="0.7" stroke-width="1"/>
<rect x="1699.25" y="663.42" width="23.25" height="24.36" fill="#7C977A" stroke="#fff" stroke-opacity="0.7" stroke-width="1"/>
<rect x="1722.50" y="663.42" width="23.25" height="24.36" fill="#8CA48B" stroke="#fff" stroke-opacity="0.7" stroke-width="1"/>
<rect x="1769.00" y="663.42" width="23.25" height="24.36" fill="#D8E0D7" stroke="#fff" stroke-opacity="0.7" stroke-width="1"/>
<rect x="1792.25" y="663.42" width="23.25" height="24.36" fill="#B1C1B0" stroke="#fff" stroke-opacity="0.7" stroke-width="1"/>
<rect x="1815.50" y="663.42" width="23.25" height="24.36" fill="#ADBEAC" stroke="#fff" stroke-opacity="0.7" stroke-width="1"/>
<rect x="1676.00" y="687.78" width="23.25" height="24.36" fill="#849D82" stroke="#fff" stroke-opacity="0.7" stroke-width="1"/>
<rect x="1699.25" y="687.78" width="23.25" height="24.36" fill="#7C977A" stroke="#fff" stroke-opacity="0.7" stroke-width="1"/>
<rect x="1722.50" y="687.78" width="23.25" height="24.36" fill="#809A7E" stroke="#fff" stroke-opacity="0.7" stroke-width="1"/>
<rect x="1792.25" y="687.78" width="23.25" height="24.36" fill="#BAC8B8" stroke="#fff" stroke-opacity="0.7" stroke-width="1"/>
<rect x="1676.00" y="712.14" width="23.25" height="24.36" fill="#CBD6CA" stroke="#fff" stroke-opacity="0.7" stroke-width="1"/>
<rect x="1699.25" y="712.14" width="23.25" height="24.36" fill="#A0B49F" stroke="#fff" stroke-opacity="0.7" stroke-width="1"/>
<rect x="1722.50" y="712.14" width="23.25" height="24.36" fill="#708D6F" stroke="#fff" stroke-opacity="0.7" stroke-width="1"/>
<rect x="1769.00" y="712.14" width="23.25" height="24.36" fill="#C6D2C5" stroke="#fff" stroke-opacity="0.7" stroke-width="1"/>
<rect x="1792.25" y="712.14" width="23.25" height="24.36" fill="#CBD6CA" stroke="#fff" stroke-opacity="0.7" stroke-width="1"/>
<rect x="1815.50" y="712.14" width="23.25" height="24.36" fill="#E9EEE9" stroke="#fff" stroke-opacity="0.7" stroke-width="1"/>
<rect x="1676.00" y="736.50" width="23.25" height="24.36" fill="#DCE3DB" stroke="#fff" stroke-opacity="0.7" stroke-width="1"/>
<rect x="1699.25" y="736.50" width="23.25" height="24.36" fill="#749072" stroke="#fff" stroke-opacity="0.7" stroke-width="1"/>
<rect x="1722.50" y="736.50" width="23.25" height="24.36" fill="#6C8A6B" stroke="#fff" stroke-opacity="0.7" stroke-width="1"/>
<rect x="1769.00" y="736.50" width="23.25" height="24.36" fill="#A0B49F" stroke="#fff" stroke-opacity="0.7" stroke-width="1"/>
<rect x="1815.50" y="736.50" width="23.25" height="24.36" fill="#98AD97" stroke="#fff" stroke-opacity="0.7" stroke-width="1"/>
<rect x="1676.00" y="760.86" width="23.25" height="24.36" fill="#849D82" stroke="#fff" stroke-opacity="0.7" stroke-width="1"/>
<rect x="1699.25" y="760.86" width="23.25" height="24.36" fill="#7C977A" stroke="#fff" stroke-opacity="0.7" stroke-width="1"/>
<rect x="1722.50" y="760.86" width="23.25" height="24.36" fill="#809A7E" stroke="#fff" stroke-opacity="0.7" stroke-width="1"/>
<rect x="1769.00" y="760.86" width="23.25" height="24.36" fill="#789376" stroke="#fff" stroke-opacity="0.7" stroke-width="1"/>
<rect x="1815.50" y="760.86" width="23.25" height="24.36" fill="#90A78F" stroke="#fff" stroke-opacity="0.7" stroke-width="1"/>
<rect x="1676.00" y="785.22" width="23.25" height="24.36" fill="#8CA48B" stroke="#fff" stroke-opacity="0.7" stroke-width="1"/>
<rect x="1699.25" y="785.22" width="23.25" height="24.36" fill="#90A78F" stroke="#fff" stroke-opacity="0.7" stroke-width="1"/>
<rect x="1722.50" y="785.22" width="23.25" height="24.36" fill="#7C977A" stroke="#fff" stroke-opacity="0.7" stroke-width="1"/>
<rect x="1792.25" y="785.22" width="23.25" height="24.36" fill="#FCFDFC" stroke="#fff" stroke-opacity="0.7" stroke-width="1"/>
<rect x="1699.25" y="809.58" width="23.25" height="24.36" fill="#849D82" stroke="#fff" stroke-opacity="0.7" stroke-width="1"/>
<rect x="1722.50" y="809.58" width="23.25" height="24.36" fill="#809A7E" stroke="#fff" stroke-opacity="0.7" stroke-width="1"/>
<rect x="1769.00" y="809.58" width="23.25" height="24.36" fill="#B1C1B0" stroke="#fff" stroke-opacity="0.7" stroke-width="1"/>
<rect x="1815.50" y="809.58" width="23.25" height="24.36" fill="#7C977A" stroke="#fff" stroke-opacity="0.7" stroke-width="1"/>
<rect x="1699.25" y="833.94" width="23.25" height="24.36" fill="#688767" stroke="#fff" stroke-opacity="0.7" stroke-width="1"/>
<rect x="1722.50" y="833.94" width="23.25" height="24.36" fill="#A9BBA8" stroke="#fff" stroke-opacity="0.7" stroke-width="1"/>
<rect x="1769.00" y="833.94" width="23.25" height="24.36" fill="#90A78F" stroke="#fff" stroke-opacity="0.7" stroke-width="1"/>
<rect x="1815.50" y="833.94" width="23.25" height="24.36" fill="#809A7E" stroke="#fff" stroke-opacity="0.7" stroke-width="1"/>
<rect x="1676.00" y="858.30" width="23.25" height="24.36" fill="#507450" stroke="#fff" stroke-opacity="0.7" stroke-width="1"/>
<rect x="1699.25" y="858.30" width="23.25" height="24.36" fill="#ADBEAC" stroke="#fff" stroke-opacity="0.7" stroke-width="1"/>
<rect x="1722.50" y="858.30" width="23.25" height="24.36" fill="#A9BBA8" stroke="#fff" stroke-opacity="0.7" stroke-width="1"/>
<rect x="1769.00" y="858.30" width="23.25" height="24.36" fill="#E5EAE4" stroke="#fff" stroke-opacity="0.7" stroke-width="1"/>
<rect x="1676.00" y="882.66" width="23.25" height="24.36" fill="#789376" stroke="#fff" stroke-opacity="0.7" stroke-width="1"/>
<rect x="1699.25" y="882.66" width="23.25" height="24.36" fill="#C6D2C5" stroke="#fff" stroke-opacity="0.7" stroke-width="1"/>
<rect x="1722.50" y="882.66" width="23.25" height="24.36" fill="#90A78F" stroke="#fff" stroke-opacity="0.7" stroke-width="1"/>
<rect x="1769.00" y="882.66" width="23.25" height="24.36" fill="#ADBEAC" stroke="#fff" stroke-opacity="0.7" stroke-width="1"/>
<rect x="1815.50" y="882.66" width="23.25" height="24.36" fill="#CFD9CE" stroke="#fff" stroke-opacity="0.7" stroke-width="1"/>
<rect x="1676.00" y="907.02" width="23.25" height="24.36" fill="#708D6F" stroke="#fff" stroke-opacity="0.7" stroke-width="1"/>
<rect x="1769.00" y="907.02" width="23.25" height="24.36" fill="#90A78F" stroke="#fff" stroke-opacity="0.7" stroke-width="1"/>
<rect x="1676.00" y="931.38" width="23.25" height="24.36" fill="#648363" stroke="#fff" stroke-opacity="0.7" stroke-width="1"/>
<rect x="1699.25" y="931.38" width="23.25" height="24.36" fill="#C6D2C5" stroke="#fff" stroke-opacity="0.7" stroke-width="1"/>
<rect x="1815.50" y="931.38" width="23.25" height="24.36" fill="#C6D2C5" stroke="#fff" stroke-opacity="0.7" stroke-width="1"/>
<path d="M1687.62 983.2V985.9" stroke="#333" stroke-width="1.1"/>
<text x="1692.83" y="987.40" font-size="17.0" text-anchor="end" fill="#000" transform="rotate(-90 1692.83 987.40)">CBM</text>
<path d="M1710.88 983.2V985.9" stroke="#333" stroke-width="1.1"/>
<text x="1716.08" y="987.40" font-size="17.0" text-anchor="end" fill="#000" transform="rotate(-90 1716.08 987.40)">Cellulase</text>
<path d="M1734.12 983.2V985.9" stroke="#333" stroke-width="1.1"/>
<text x="1739.33" y="987.40" font-size="17.0" text-anchor="end" fill="#000" transform="rotate(-90 1739.33 987.40)">Hemicellulase</text>
<path d="M1757.38 983.2V985.9" stroke="#333" stroke-width="1.1"/>
<text x="1762.58" y="987.40" font-size="17.0" text-anchor="end" fill="#000" transform="rotate(-90 1762.58 987.40)">Inulin</text>
<path d="M1780.62 983.2V985.9" stroke="#333" stroke-width="1.1"/>
<text x="1785.83" y="987.40" font-size="17.0" text-anchor="end" fill="#000" transform="rotate(-90 1785.83 987.40)">Oligosaccharide</text>
<path d="M1803.88 983.2V985.9" stroke="#333" stroke-width="1.1"/>
<text x="1809.08" y="987.40" font-size="17.0" text-anchor="end" fill="#000" transform="rotate(-90 1809.08 987.40)">Pectin</text>
<path d="M1827.12 983.2V985.9" stroke="#333" stroke-width="1.1"/>
<text x="1832.33" y="987.40" font-size="17.0" text-anchor="end" fill="#000" transform="rotate(-90 1832.33 987.40)">Starch</text>
<rect x="1068.6" y="249.30" width="21.8" height="24.36" fill="#336FD8" stroke="#fff" stroke-opacity="0.5" stroke-width="0.8"/>
<circle cx="1057.6" cy="261.48" r="9.4" fill="#EB1C24"/>
<text x="1326.40" y="267.48" font-size="16.96" text-anchor="end" fill="#000">SR-FBRE99_sp009881065</text>
<path d="M1328.3 261.5H1330.8" stroke="#333" stroke-width="1.1"/>
<rect x="1068.6" y="273.66" width="21.8" height="24.36" fill="#F29DA6" stroke="#fff" stroke-opacity="0.5" stroke-width="0.8"/>
<text x="1326.40" y="291.84" font-size="16.96" text-anchor="end" fill="#000"><tspan font-style="italic">Brooklawnia</tspan>_sp01517115</text>
<path d="M1328.3 285.8H1330.8" stroke="#333" stroke-width="1.1"/>
<rect x="1068.6" y="298.02" width="21.8" height="24.36" fill="#336FD8" stroke="#fff" stroke-opacity="0.5" stroke-width="0.8"/>
<circle cx="1057.6" cy="310.20" r="9.4" fill="#EB1C24"/>
<text x="1326.40" y="316.20" font-size="16.96" text-anchor="end" fill="#000">UBA1179_sp002340405</text>
<path d="M1328.3 310.2H1330.8" stroke="#333" stroke-width="1.1"/>
<rect x="1068.6" y="322.38" width="21.8" height="24.36" fill="#E9C45C" stroke="#fff" stroke-opacity="0.5" stroke-width="0.8"/>
<circle cx="1057.6" cy="334.56" r="9.4" fill="#EB1C24"/>
<text x="1326.40" y="340.56" font-size="16.96" text-anchor="end" fill="#000"><tspan font-style="italic">Sphaerochaeta</tspan>_sp004294855</text>
<path d="M1328.3 334.6H1330.8" stroke="#333" stroke-width="1.1"/>
<rect x="1068.6" y="346.74" width="21.8" height="24.36" fill="#336FD8" stroke="#fff" stroke-opacity="0.5" stroke-width="0.8"/>
<text x="1326.40" y="364.92" font-size="16.96" text-anchor="end" fill="#000">UBA1413_sp002304925</text>
<path d="M1328.3 358.9H1330.8" stroke="#333" stroke-width="1.1"/>
<rect x="1068.6" y="371.10" width="21.8" height="24.36" fill="#336FD8" stroke="#fff" stroke-opacity="0.5" stroke-width="0.8"/>
<text x="1326.40" y="389.28" font-size="16.96" text-anchor="end" fill="#000">MWFE01_sp002071445</text>
<path d="M1328.3 383.3H1330.8" stroke="#333" stroke-width="1.1"/>
<rect x="1068.6" y="395.46" width="21.8" height="24.36" fill="#336FD8" stroke="#fff" stroke-opacity="0.5" stroke-width="0.8"/>
<circle cx="1057.6" cy="407.64" r="9.4" fill="#EB1C24"/>
<text x="1326.40" y="413.64" font-size="16.96" text-anchor="end" fill="#000">UBA1402_sp002305085</text>
<path d="M1328.3 407.6H1330.8" stroke="#333" stroke-width="1.1"/>
<rect x="1068.6" y="419.82" width="21.8" height="24.36" fill="#00EDB0" stroke="#fff" stroke-opacity="0.5" stroke-width="0.8"/>
<text x="1326.40" y="438.00" font-size="16.96" text-anchor="end" fill="#000">DTU010_sp900018335</text>
<path d="M1328.3 432.0H1330.8" stroke="#333" stroke-width="1.1"/>
<rect x="1068.6" y="444.18" width="21.8" height="24.36" fill="#00EDB0" stroke="#fff" stroke-opacity="0.5" stroke-width="0.8"/>
<text x="1326.40" y="462.36" font-size="16.96" text-anchor="end" fill="#000">DTU012_sp900019385</text>
<path d="M1328.3 456.4H1330.8" stroke="#333" stroke-width="1.1"/>
<rect x="1068.6" y="468.54" width="21.8" height="24.36" fill="#336FD8" stroke="#fff" stroke-opacity="0.5" stroke-width="0.8"/>
<circle cx="1057.6" cy="480.72" r="9.4" fill="#EB1C24"/>
<text x="1326.40" y="486.72" font-size="16.96" text-anchor="end" fill="#000">RZYY01_sp012516825</text>
<path d="M1328.3 480.7H1330.8" stroke="#333" stroke-width="1.1"/>
<rect x="1068.6" y="492.90" width="21.8" height="24.36" fill="#00EDB0" stroke="#fff" stroke-opacity="0.5" stroke-width="0.8"/>
<text x="1326.40" y="511.08" font-size="16.96" text-anchor="end" fill="#000">UBA5420_sp012838305</text>
<path d="M1328.3 505.1H1330.8" stroke="#333" stroke-width="1.1"/>
<rect x="1068.6" y="517.26" width="21.8" height="24.36" fill="#336FD8" stroke="#fff" stroke-opacity="0.5" stroke-width="0.8"/>
<circle cx="1057.6" cy="529.44" r="9.4" fill="#EB1C24"/>
<text x="1326.40" y="535.44" font-size="16.96" text-anchor="end" fill="#000"><tspan font-style="italic">Paludibacter</tspan>_sp012519425</text>
<path d="M1328.3 529.4H1330.8" stroke="#333" stroke-width="1.1"/>
<rect x="1068.6" y="541.62" width="21.8" height="24.36" fill="#00EDB0" stroke="#fff" stroke-opacity="0.5" stroke-width="0.8"/>
<text x="1326.40" y="559.80" font-size="16.96" text-anchor="end" fill="#000">DTU010_sp002391385</text>
<path d="M1328.3 553.8H1330.8" stroke="#333" stroke-width="1.1"/>
<rect x="1068.6" y="565.98" width="21.8" height="24.36" fill="#336FD8" stroke="#fff" stroke-opacity="0.5" stroke-width="0.8"/>
<text x="1326.40" y="584.16" font-size="16.96" text-anchor="end" fill="#000">DTU012_sp012520795</text>
<path d="M1328.3 578.2H1330.8" stroke="#333" stroke-width="1.1"/>
<rect x="1068.6" y="590.34" width="21.8" height="24.36" fill="#336FD8" stroke="#fff" stroke-opacity="0.5" stroke-width="0.8"/>
<circle cx="1057.6" cy="602.52" r="9.4" fill="#EB1C24"/>
<text x="1326.40" y="608.52" font-size="16.96" text-anchor="end" fill="#000">Fermentimonas_sp019136875</text>
<path d="M1328.3 602.5H1330.8" stroke="#333" stroke-width="1.1"/>
<rect x="1068.6" y="614.70" width="21.8" height="24.36" fill="#E9C45C" stroke="#fff" stroke-opacity="0.5" stroke-width="0.8"/>
<text x="1326.40" y="632.88" font-size="16.96" text-anchor="end" fill="#000"><tspan font-style="italic">Rectinema</tspan>_sp012516755</text>
<path d="M1328.3 626.9H1330.8" stroke="#333" stroke-width="1.1"/>
<rect x="1068.6" y="639.06" width="21.8" height="24.36" fill="#50A88E" stroke="#fff" stroke-opacity="0.5" stroke-width="0.8"/>
<text x="1326.40" y="657.24" font-size="16.96" text-anchor="end" fill="#000">MWEH01_sp012799455</text>
<path d="M1328.3 651.2H1330.8" stroke="#333" stroke-width="1.1"/>
<rect x="1068.6" y="663.42" width="21.8" height="24.36" fill="#00EDB0" stroke="#fff" stroke-opacity="0.5" stroke-width="0.8"/>
<text x="1326.40" y="681.60" font-size="16.96" text-anchor="end" fill="#000">DUPA01_sp012838515</text>
<path d="M1328.3 675.6H1330.8" stroke="#333" stroke-width="1.1"/>
<rect x="1068.6" y="687.78" width="21.8" height="24.36" fill="#50A88E" stroke="#fff" stroke-opacity="0.5" stroke-width="0.8"/>
<text x="1326.40" y="705.96" font-size="16.96" text-anchor="end" fill="#000"><tspan font-style="italic">Herbivorax</tspan>_sp012517995</text>
<path d="M1328.3 700.0H1330.8" stroke="#333" stroke-width="1.1"/>
<rect x="1068.6" y="712.14" width="21.8" height="24.36" fill="#0B6E0B" stroke="#fff" stroke-opacity="0.5" stroke-width="0.8"/>
<text x="1326.40" y="730.32" font-size="16.96" text-anchor="end" fill="#000">UBA3946_sp002385755</text>
<path d="M1328.3 724.3H1330.8" stroke="#333" stroke-width="1.1"/>
<rect x="1068.6" y="736.50" width="21.8" height="24.36" fill="#336FD8" stroke="#fff" stroke-opacity="0.5" stroke-width="0.8"/>
<text x="1326.40" y="754.68" font-size="16.96" text-anchor="end" fill="#000"><tspan font-style="italic">Fermentimonas</tspan>_sp012839475</text>
<path d="M1328.3 748.7H1330.8" stroke="#333" stroke-width="1.1"/>
<rect x="1068.6" y="760.86" width="21.8" height="24.36" fill="#336FD8" stroke="#fff" stroke-opacity="0.5" stroke-width="0.8"/>
<text x="1326.40" y="779.04" font-size="16.96" text-anchor="end" fill="#000">TTA-H9_sp002071415</text>
<path d="M1328.3 773.0H1330.8" stroke="#333" stroke-width="1.1"/>
<rect x="1068.6" y="785.22" width="21.8" height="24.36" fill="#0B6E0B" stroke="#fff" stroke-opacity="0.5" stroke-width="0.8"/>
<text x="1326.40" y="803.40" font-size="16.96" text-anchor="end" fill="#000">UBA1361_sp002306335</text>
<path d="M1328.3 797.4H1330.8" stroke="#333" stroke-width="1.1"/>
<rect x="1068.6" y="809.58" width="21.8" height="24.36" fill="#00EDB0" stroke="#fff" stroke-opacity="0.5" stroke-width="0.8"/>
<text x="1326.40" y="827.76" font-size="16.96" text-anchor="end" fill="#000">UBA3910_sp002391465</text>
<path d="M1328.3 821.8H1330.8" stroke="#333" stroke-width="1.1"/>
<rect x="1068.6" y="833.94" width="21.8" height="24.36" fill="#A54A32" stroke="#fff" stroke-opacity="0.5" stroke-width="0.8"/>
<text x="1326.40" y="852.12" font-size="16.96" text-anchor="end" fill="#000"><tspan font-style="italic">Anaerolinaceae</tspan>_species_1</text>
<path d="M1328.3 846.1H1330.8" stroke="#333" stroke-width="1.1"/>
<rect x="1068.6" y="858.30" width="21.8" height="24.36" fill="#00EDB0" stroke="#fff" stroke-opacity="0.5" stroke-width="0.8"/>
<text x="1326.40" y="876.48" font-size="16.96" text-anchor="end" fill="#000">DTU065_sp001512545</text>
<path d="M1328.3 870.5H1330.8" stroke="#333" stroke-width="1.1"/>
<rect x="1068.6" y="882.66" width="21.8" height="24.36" fill="#336FD8" stroke="#fff" stroke-opacity="0.5" stroke-width="0.8"/>
<circle cx="1057.6" cy="894.84" r="9.4" fill="#EB1C24"/>
<text x="1326.40" y="900.84" font-size="16.96" text-anchor="end" fill="#000">WOP28-013_sp012837685</text>
<path d="M1328.3 894.8H1330.8" stroke="#333" stroke-width="1.1"/>
<rect x="1068.6" y="907.02" width="21.8" height="24.36" fill="#50A88E" stroke="#fff" stroke-opacity="0.5" stroke-width="0.8"/>
<text x="1326.40" y="925.20" font-size="16.96" text-anchor="end" fill="#000">JAAYQA01_sp012519495</text>
<path d="M1328.3 919.2H1330.8" stroke="#333" stroke-width="1.1"/>
<rect x="1068.6" y="931.38" width="21.8" height="24.36" fill="#D12259" stroke="#fff" stroke-opacity="0.5" stroke-width="0.8"/>
<text x="1326.40" y="949.56" font-size="16.96" text-anchor="end" fill="#000">UBA1062_sp002316295</text>
<path d="M1328.3 943.6H1330.8" stroke="#333" stroke-width="1.1"/>
<rect x="1068.6" y="955.74" width="21.8" height="24.36" fill="#F29DA6" stroke="#fff" stroke-opacity="0.5" stroke-width="0.8"/>
<text x="1326.40" y="973.92" font-size="16.96" text-anchor="end" fill="#000">UBA1367_sp002305995</text>
<path d="M1328.3 967.9H1330.8" stroke="#333" stroke-width="1.1"/>
<text x="1006.00" y="244.40" font-size="27" text-anchor="start" fill="#000" font-weight="bold">C</text>
<circle cx="1862.7" cy="557" r="9.4" fill="#EB1C24"/>
<text x="1875.50" y="563.00" font-size="17.0" text-anchor="start" fill="#000">Core microbe</text>
<text x="1852.6" y="611.2" font-size="16.7">Log<tspan dy="6" font-size="16.7">10</tspan></text>
<text x="1852.60" y="639.00" font-size="16.7" text-anchor="start" fill="#000">(TPM+1)</text>
<defs><linearGradient id="gC" x1="0" y1="0" x2="0" y2="1"><stop offset="0.0000" stop-color="#28552B"/><stop offset="0.0250" stop-color="#2D592F"/><stop offset="0.0500" stop-color="#325C34"/><stop offset="0.0750" stop-color="#376039"/><stop offset="0.1000" stop-color="#3D643D"/><stop offset="0.1250" stop-color="#426842"/><stop offset="0.1500" stop-color="#476C47"/><stop offset="0.1750" stop-color="#4C704C"/><stop offset="0.2000" stop-color="#517451"/><stop offset="0.2250" stop-color="#567956"/><stop offset="0.2500" stop-color="#5B7D5B"/><stop offset="0.2750" stop-color="#608160"/><stop offset="0.3000" stop-color="#668565"/><stop offset="0.3250" stop-color="#6B896A"/><stop offset="0.3500" stop-color="#708D6F"/><stop offset="0.3750" stop-color="#759174"/><stop offset="0.4000" stop-color="#7A9579"/><stop offset="0.4250" stop-color="#809A7E"/><stop offset="0.4500" stop-color="#859E84"/><stop offset="0.4750" stop-color="#8AA289"/><stop offset="0.5000" stop-color="#90A68E"/><stop offset="0.5250" stop-color="#95AB94"/><stop offset="0.5500" stop-color="#9AAF99"/><stop offset="0.5750" stop-color="#A0B39E"/><stop offset="0.6000" stop-color="#A5B8A4"/><stop offset="0.6250" stop-color="#AABCA9"/><stop offset="0.6500" stop-color="#B0C0AF"/><stop offset="0.6750" stop-color="#B5C5B4"/><stop offset="0.7000" stop-color="#BBC9BA"/><stop offset="0.7250" stop-color="#C1CEC0"/><stop offset="0.7500" stop-color="#C6D2C5"/><stop offset="0.7750" stop-color="#CCD6CB"/><stop offset="0.8000" stop-color="#D1DBD1"/><stop offset="0.8250" stop-color="#D7DFD6"/><stop offset="0.8500" stop-color="#DDE4DC"/><stop offset="0.8750" stop-color="#E2E8E2"/><stop offset="0.9000" stop-color="#E8EDE8"/><stop offset="0.9250" stop-color="#EEF1ED"/><stop offset="0.9500" stop-color="#F3F6F3"/><stop offset="0.9750" stop-color="#F9FAF9"/><stop offset="1.0000" stop-color="#FFFFFF"/></linearGradient></defs>
<rect x="1853.7" y="647.3" width="18.7" height="91.6" fill="url(#gC)"/>
<text x="1875.50" y="744.90" font-size="16.7" text-anchor="start" fill="#000">0.0</text>
<path d="M1853.7 721.4h3.7M1868.7 721.4h3.7" stroke="#fff" stroke-width="0.9"/>
<text x="1875.50" y="727.35" font-size="16.7" text-anchor="start" fill="#000">0.5</text>
<path d="M1853.7 703.8h3.7M1868.7 703.8h3.7" stroke="#fff" stroke-width="0.9"/>
<text x="1875.50" y="709.80" font-size="16.7" text-anchor="start" fill="#000">1.0</text>
<path d="M1853.7 686.2h3.7M1868.7 686.2h3.7" stroke="#fff" stroke-width="0.9"/>
<text x="1875.50" y="692.25" font-size="16.7" text-anchor="start" fill="#000">1.5</text>
<path d="M1853.7 668.7h3.7M1868.7 668.7h3.7" stroke="#fff" stroke-width="0.9"/>
<text x="1875.50" y="674.70" font-size="16.7" text-anchor="start" fill="#000">2.0</text>
<path d="M1853.7 651.1h3.7M1868.7 651.1h3.7" stroke="#fff" stroke-width="0.9"/>
<text x="1875.50" y="657.15" font-size="16.7" text-anchor="start" fill="#000">2.5</text>
</g>
</svg></body></html>
